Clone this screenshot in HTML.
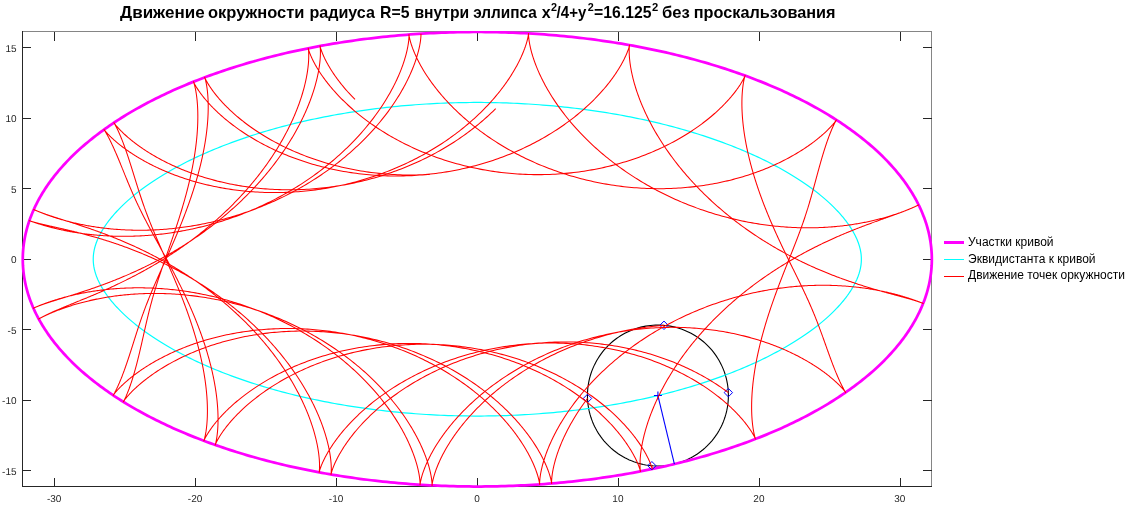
<!DOCTYPE html>
<html><head><meta charset="utf-8"><title>plot</title><style>html,body{margin:0;padding:0;background:#fff;}body{width:1129px;height:514px;position:relative;overflow:hidden;font-family:"Liberation Sans",sans-serif;}</style></head><body>
<svg width="1129" height="514" viewBox="0 0 1129 514" style="position:absolute;left:0;top:0;will-change:transform">
<rect width="1129" height="514" fill="#fff"/>
<g stroke="#262626" stroke-width="1" fill="none" shape-rendering="crispEdges">
<path d="M22.5,31.5H931.5V486.5" stroke="#858585"/>
<path d="M22.5,31.0V486.5H931.5"/>
<path d="M54.5,486.5v-9M54.5,31.5v9"/>
<path d="M195.5,486.5v-9M195.5,31.5v9"/>
<path d="M336.5,486.5v-9M336.5,31.5v9"/>
<path d="M477.5,486.5v-9M477.5,31.5v9"/>
<path d="M618.5,486.5v-9M618.5,31.5v9"/>
<path d="M759.5,486.5v-9M759.5,31.5v9"/>
<path d="M900.5,486.5v-9M900.5,31.5v9"/>
<path d="M22.5,470.5h8M931.5,470.5h-9"/>
<path d="M22.5,400.5h8M931.5,400.5h-9"/>
<path d="M22.5,329.5h8M931.5,329.5h-9"/>
<path d="M22.5,259.5h8M931.5,259.5h-9"/>
<path d="M22.5,188.5h8M931.5,188.5h-9"/>
<path d="M22.5,118.5h8M931.5,118.5h-9"/>
<path d="M22.5,47.5h8M931.5,47.5h-9"/>
</g>
<g font-family="Liberation Sans, sans-serif" font-size="10px" fill="#262626" text-rendering="geometricPrecision">
<text x="54.2" y="502" text-anchor="middle">-30</text>
<text x="195.1" y="502" text-anchor="middle">-20</text>
<text x="336.1" y="502" text-anchor="middle">-10</text>
<text x="477.0" y="502" text-anchor="middle">0</text>
<text x="617.9" y="502" text-anchor="middle">10</text>
<text x="758.9" y="502" text-anchor="middle">20</text>
<text x="899.8" y="502" text-anchor="middle">30</text>
<text x="16.5" y="475" text-anchor="end">-15</text>
<text x="16.5" y="404" text-anchor="end">-10</text>
<text x="16.5" y="334" text-anchor="end">-5</text>
<text x="16.5" y="263" text-anchor="end">0</text>
<text x="16.5" y="193" text-anchor="end">5</text>
<text x="16.5" y="122" text-anchor="end">10</text>
<text x="16.5" y="52" text-anchor="end">15</text>
</g>
<clipPath id="c"><rect x="15" y="31" width="925" height="465"/></clipPath>
<g fill="none" stroke-linejoin="round" stroke-linecap="butt" clip-path="url(#c)">
<polyline points="728.39,395.52 728.35,393.06 728.22,390.60 728.01,388.15 727.71,385.71 727.32,383.28 726.85,380.87 726.30,378.47 725.66,376.10 724.95,373.74 724.15,371.42 723.26,369.12 722.30,366.86 721.26,364.63 720.15,362.44 718.95,360.28 717.69,358.18 716.35,356.11 714.94,354.10 713.46,352.13 711.91,350.22 710.29,348.37 708.62,346.57 706.88,344.83 705.08,343.15 703.22,341.54 701.31,339.99 699.35,338.51 697.33,337.10 695.27,335.76 693.16,334.49 691.01,333.30 688.82,332.18 686.59,331.14 684.32,330.18 682.03,329.30 679.70,328.50 677.35,327.78 674.97,327.14 672.58,326.59 670.16,326.12 667.73,325.74 665.29,325.44 662.84,325.22 660.38,325.09 657.92,325.05 655.47,325.09 653.01,325.22 650.56,325.44 648.12,325.74 645.69,326.12 643.27,326.59 640.88,327.14 638.50,327.78 636.15,328.50 633.82,329.30 631.53,330.18 629.26,331.14 627.03,332.18 624.84,333.30 622.69,334.49 620.58,335.76 618.52,337.10 616.50,338.51 614.54,339.99 612.63,341.54 610.77,343.15 608.97,344.83 607.23,346.57 605.56,348.37 603.94,350.22 602.39,352.13 600.91,354.10 599.50,356.11 598.16,358.18 596.90,360.28 595.70,362.44 594.59,364.63 593.55,366.86 592.59,369.12 591.70,371.42 590.90,373.74 590.18,376.10 589.55,378.47 588.99,380.87 588.53,383.28 588.14,385.71 587.84,388.15 587.63,390.60 587.50,393.06 587.45,395.52 587.50,397.98 587.63,400.44 587.84,402.89 588.14,405.33 588.53,407.76 588.99,410.17 589.55,412.57 590.18,414.94 590.90,417.30 591.70,419.62 592.59,421.92 593.55,424.18 594.59,426.41 595.70,428.60 596.90,430.75 598.16,432.86 599.50,434.93 600.91,436.94 602.39,438.91 603.94,440.82 605.56,442.67 607.23,444.47 608.97,446.21 610.77,447.89 612.63,449.50 614.54,451.05 616.50,452.53 618.52,453.94 620.58,455.28 622.69,456.55 624.84,457.74 627.03,458.86 629.26,459.90 631.53,460.86 633.82,461.74 636.15,462.54 638.50,463.26 640.88,463.90 643.27,464.45 645.69,464.92 648.12,465.30 650.56,465.60 653.01,465.82 655.47,465.95 657.92,465.99 660.38,465.95 662.84,465.82 665.29,465.60 667.73,465.30 670.16,464.92 672.58,464.45 674.97,463.90 677.35,463.26 679.70,462.54 682.03,461.74 684.32,460.86 686.59,459.90 688.82,458.86 691.01,457.74 693.16,456.55 695.27,455.28 697.33,453.94 699.35,452.53 701.31,451.05 703.22,449.50 705.08,447.89 706.88,446.21 708.62,444.47 710.29,442.67 711.91,440.82 713.46,438.91 714.94,436.94 716.35,434.93 717.69,432.86 718.95,430.75 720.15,428.60 721.26,426.41 722.30,424.18 723.26,421.92 724.15,419.62 724.95,417.30 725.66,414.94 726.30,412.57 726.85,410.17 727.32,407.76 727.71,405.33 728.01,402.89 728.22,400.44 728.35,397.98 728.39,395.52" stroke="#000" stroke-width="1.1"/>
<polyline points="931.83,259.25 931.81,257.27 931.76,255.28 931.68,253.30 931.55,251.32 931.40,249.34 931.21,247.36 930.98,245.38 930.72,243.40 930.43,241.42 930.10,239.44 929.74,237.47 929.34,235.49 928.91,233.52 928.44,231.55 927.94,229.59 927.41,227.62 926.84,225.66 926.24,223.70 925.60,221.74 924.93,219.79 924.22,217.83 923.48,215.89 922.71,213.94 921.90,212.00 921.06,210.06 920.18,208.13 919.27,206.20 918.33,204.27 917.35,202.35 916.34,200.43 915.30,198.52 914.22,196.61 913.11,194.70 911.97,192.80 910.79,190.91 909.59,189.02 908.34,187.14 907.07,185.26 905.76,183.39 904.42,181.52 903.05,179.66 901.64,177.81 900.20,175.96 898.73,174.11 897.23,172.28 895.70,170.45 894.13,168.63 892.54,166.81 890.91,165.00 889.25,163.20 887.55,161.41 885.83,159.62 884.08,157.84 882.29,156.07 880.47,154.31 878.63,152.56 876.75,150.81 874.84,149.07 872.90,147.34 870.94,145.62 868.94,143.90 866.91,142.20 864.85,140.50 862.76,138.82 860.65,137.14 858.50,135.47 856.33,133.81 854.12,132.16 851.89,130.53 849.63,128.90 847.34,127.28 845.02,125.67 842.68,124.07 840.30,122.48 837.90,120.90 835.48,119.33 833.02,117.77 830.54,116.23 828.03,114.69 825.49,113.17 822.93,111.65 820.34,110.15 817.72,108.66 815.08,107.18 812.42,105.71 809.72,104.26 807.01,102.81 804.26,101.38 801.49,99.96 798.70,98.55 795.89,97.15 793.04,95.77 790.18,94.40 787.29,93.04 784.38,91.69 781.44,90.36 778.48,89.04 775.50,87.73 772.49,86.44 769.47,85.15 766.42,83.89 763.35,82.63 760.25,81.39 757.14,80.16 754.00,78.95 750.84,77.75 747.67,76.56 744.47,75.39 741.25,74.23 738.01,73.08 734.75,71.95 731.47,70.84 728.17,69.74 724.86,68.65 721.52,67.58 718.16,66.52 714.79,65.47 711.40,64.45 707.99,63.43 704.57,62.43 701.12,61.45 697.66,60.48 694.18,59.52 690.69,58.59 687.18,57.66 683.65,56.75 680.11,55.86 676.55,54.98 672.98,54.12 669.39,53.28 665.79,52.45 662.17,51.63 658.54,50.83 654.90,50.05 651.24,49.28 647.57,48.53 643.89,47.80 640.19,47.08 636.48,46.38 632.76,45.69 629.03,45.02 625.28,44.37 621.52,43.73 617.76,43.11 613.98,42.50 610.19,41.91 606.39,41.34 602.59,40.79 598.77,40.25 594.94,39.73 591.11,39.22 587.26,38.74 583.41,38.26 579.55,37.81 575.68,37.37 571.80,36.95 567.92,36.55 564.03,36.16 560.13,35.79 556.23,35.44 552.32,35.10 548.40,34.78 544.48,34.48 540.56,34.20 536.63,33.93 532.69,33.68 528.75,33.45 524.81,33.23 520.86,33.03 516.92,32.85 512.96,32.68 509.01,32.54 505.05,32.41 501.09,32.30 497.13,32.20 493.16,32.12 489.20,32.06 485.23,32.02 481.27,31.99 477.30,31.98 473.33,31.99 469.37,32.02 465.40,32.06 461.44,32.12 457.47,32.20 453.51,32.30 449.55,32.41 445.59,32.54 441.64,32.68 437.68,32.85 433.74,33.03 429.79,33.23 425.85,33.45 421.91,33.68 417.97,33.93 414.04,34.20 410.12,34.48 406.20,34.78 402.28,35.10 398.37,35.44 394.47,35.79 390.57,36.16 386.68,36.55 382.80,36.95 378.92,37.37 375.05,37.81 371.19,38.26 367.34,38.74 363.49,39.22 359.66,39.73 355.83,40.25 352.01,40.79 348.21,41.34 344.41,41.91 340.62,42.50 336.84,43.11 333.08,43.73 329.32,44.37 325.57,45.02 321.84,45.69 318.12,46.38 314.41,47.08 310.71,47.80 307.03,48.53 303.36,49.28 299.70,50.05 296.06,50.83 292.43,51.63 288.81,52.45 285.21,53.28 281.62,54.12 278.05,54.98 274.49,55.86 270.95,56.75 267.42,57.66 263.91,58.59 260.42,59.52 256.94,60.48 253.48,61.45 250.03,62.43 246.61,63.43 243.20,64.45 239.81,65.47 236.44,66.52 233.08,67.58 229.74,68.65 226.43,69.74 223.13,70.84 219.85,71.95 216.59,73.08 213.35,74.23 210.13,75.39 206.93,76.56 203.76,77.75 200.60,78.95 197.46,80.16 194.35,81.39 191.25,82.63 188.18,83.89 185.13,85.15 182.11,86.44 179.10,87.73 176.12,89.04 173.16,90.36 170.22,91.69 167.31,93.04 164.42,94.40 161.56,95.77 158.71,97.15 155.90,98.55 153.11,99.96 150.34,101.38 147.59,102.81 144.88,104.26 142.18,105.71 139.52,107.18 136.88,108.66 134.26,110.15 131.67,111.65 129.11,113.17 126.57,114.69 124.06,116.23 121.58,117.77 119.12,119.33 116.70,120.90 114.30,122.48 111.92,124.07 109.58,125.67 107.26,127.28 104.97,128.90 102.71,130.53 100.48,132.16 98.27,133.81 96.10,135.47 93.95,137.14 91.84,138.82 89.75,140.50 87.69,142.20 85.66,143.90 83.66,145.62 81.70,147.34 79.76,149.07 77.85,150.81 75.97,152.56 74.13,154.31 72.31,156.07 70.52,157.84 68.77,159.62 67.05,161.41 65.35,163.20 63.69,165.00 62.06,166.81 60.47,168.63 58.90,170.45 57.37,172.28 55.87,174.11 54.40,175.96 52.96,177.81 51.55,179.66 50.18,181.52 48.84,183.39 47.53,185.26 46.26,187.14 45.01,189.02 43.81,190.91 42.63,192.80 41.49,194.70 40.38,196.61 39.30,198.52 38.26,200.43 37.25,202.35 36.27,204.27 35.33,206.20 34.42,208.13 33.54,210.06 32.70,212.00 31.89,213.94 31.12,215.89 30.38,217.83 29.67,219.79 29.00,221.74 28.36,223.70 27.76,225.66 27.19,227.62 26.66,229.59 26.16,231.55 25.69,233.52 25.26,235.49 24.86,237.47 24.50,239.44 24.17,241.42 23.88,243.40 23.62,245.38 23.39,247.36 23.20,249.34 23.05,251.32 22.92,253.30 22.84,255.28 22.79,257.27 22.77,259.25 22.79,261.23 22.84,263.22 22.92,265.20 23.05,267.18 23.20,269.16 23.39,271.14 23.62,273.12 23.88,275.10 24.17,277.08 24.50,279.06 24.86,281.03 25.26,283.01 25.69,284.98 26.16,286.95 26.66,288.91 27.19,290.88 27.76,292.84 28.36,294.80 29.00,296.76 29.67,298.71 30.38,300.67 31.12,302.61 31.89,304.56 32.70,306.50 33.54,308.44 34.42,310.37 35.33,312.30 36.27,314.23 37.25,316.15 38.26,318.07 39.30,319.98 40.38,321.89 41.49,323.80 42.63,325.70 43.81,327.59 45.01,329.48 46.26,331.36 47.53,333.24 48.84,335.11 50.18,336.98 51.55,338.84 52.96,340.69 54.40,342.54 55.87,344.39 57.37,346.22 58.90,348.05 60.47,349.87 62.06,351.69 63.69,353.50 65.35,355.30 67.05,357.09 68.77,358.88 70.52,360.66 72.31,362.43 74.13,364.19 75.97,365.94 77.85,367.69 79.76,369.43 81.70,371.16 83.66,372.88 85.66,374.60 87.69,376.30 89.75,378.00 91.84,379.68 93.95,381.36 96.10,383.03 98.27,384.69 100.48,386.34 102.71,387.97 104.97,389.60 107.26,391.22 109.58,392.83 111.92,394.43 114.30,396.02 116.70,397.60 119.12,399.17 121.58,400.73 124.06,402.27 126.57,403.81 129.11,405.33 131.67,406.85 134.26,408.35 136.88,409.84 139.52,411.32 142.18,412.79 144.88,414.24 147.59,415.69 150.34,417.12 153.11,418.54 155.90,419.95 158.71,421.35 161.56,422.73 164.42,424.10 167.31,425.46 170.22,426.81 173.16,428.14 176.12,429.46 179.10,430.77 182.11,432.06 185.13,433.35 188.18,434.61 191.25,435.87 194.35,437.11 197.46,438.34 200.60,439.55 203.76,440.75 206.93,441.94 210.13,443.11 213.35,444.27 216.59,445.42 219.85,446.55 223.13,447.66 226.43,448.76 229.74,449.85 233.08,450.92 236.44,451.98 239.81,453.03 243.20,454.05 246.61,455.07 250.03,456.07 253.48,457.05 256.94,458.02 260.42,458.98 263.91,459.91 267.42,460.84 270.95,461.75 274.49,462.64 278.05,463.52 281.62,464.38 285.21,465.22 288.81,466.05 292.43,466.87 296.06,467.67 299.70,468.45 303.36,469.22 307.03,469.97 310.71,470.70 314.41,471.42 318.12,472.12 321.84,472.81 325.57,473.48 329.32,474.13 333.08,474.77 336.84,475.39 340.62,476.00 344.41,476.59 348.21,477.16 352.01,477.71 355.83,478.25 359.66,478.77 363.49,479.28 367.34,479.76 371.19,480.24 375.05,480.69 378.92,481.13 382.80,481.55 386.68,481.95 390.57,482.34 394.47,482.71 398.37,483.06 402.28,483.40 406.20,483.72 410.12,484.02 414.04,484.30 417.97,484.57 421.91,484.82 425.85,485.05 429.79,485.27 433.74,485.47 437.68,485.65 441.64,485.82 445.59,485.96 449.55,486.09 453.51,486.20 457.47,486.30 461.44,486.38 465.40,486.44 469.37,486.48 473.33,486.51 477.30,486.52 481.27,486.51 485.23,486.48 489.20,486.44 493.16,486.38 497.13,486.30 501.09,486.20 505.05,486.09 509.01,485.96 512.96,485.82 516.92,485.65 520.86,485.47 524.81,485.27 528.75,485.05 532.69,484.82 536.63,484.57 540.56,484.30 544.48,484.02 548.40,483.72 552.32,483.40 556.23,483.06 560.13,482.71 564.03,482.34 567.92,481.95 571.80,481.55 575.68,481.13 579.55,480.69 583.41,480.24 587.26,479.76 591.11,479.28 594.94,478.77 598.77,478.25 602.59,477.71 606.39,477.16 610.19,476.59 613.98,476.00 617.76,475.39 621.52,474.77 625.28,474.13 629.03,473.48 632.76,472.81 636.48,472.12 640.19,471.42 643.89,470.70 647.57,469.97 651.24,469.22 654.90,468.45 658.54,467.67 662.17,466.87 665.79,466.05 669.39,465.22 672.98,464.38 676.55,463.52 680.11,462.64 683.65,461.75 687.18,460.84 690.69,459.91 694.18,458.98 697.66,458.02 701.12,457.05 704.57,456.07 707.99,455.07 711.40,454.05 714.79,453.03 718.16,451.98 721.52,450.92 724.86,449.85 728.17,448.76 731.47,447.66 734.75,446.55 738.01,445.42 741.25,444.27 744.47,443.11 747.67,441.94 750.84,440.75 754.00,439.55 757.14,438.34 760.25,437.11 763.35,435.87 766.42,434.61 769.47,433.35 772.49,432.06 775.50,430.77 778.48,429.46 781.44,428.14 784.38,426.81 787.29,425.46 790.18,424.10 793.04,422.73 795.89,421.35 798.70,419.95 801.49,418.54 804.26,417.12 807.01,415.69 809.72,414.24 812.42,412.79 815.08,411.32 817.72,409.84 820.34,408.35 822.93,406.85 825.49,405.33 828.03,403.81 830.54,402.27 833.02,400.73 835.48,399.17 837.90,397.60 840.30,396.02 842.68,394.43 845.02,392.83 847.34,391.22 849.63,389.60 851.89,387.97 854.12,386.34 856.33,384.69 858.50,383.03 860.65,381.36 862.76,379.68 864.85,378.00 866.91,376.30 868.94,374.60 870.94,372.88 872.90,371.16 874.84,369.43 876.75,367.69 878.63,365.94 880.47,364.19 882.29,362.43 884.08,360.66 885.83,358.88 887.55,357.09 889.25,355.30 890.91,353.50 892.54,351.69 894.13,349.87 895.70,348.05 897.23,346.22 898.73,344.39 900.20,342.54 901.64,340.69 903.05,338.84 904.42,336.98 905.76,335.11 907.07,333.24 908.34,331.36 909.59,329.48 910.79,327.59 911.97,325.70 913.11,323.80 914.22,321.89 915.30,319.98 916.34,318.07 917.35,316.15 918.33,314.23 919.27,312.30 920.18,310.37 921.06,308.44 921.90,306.50 922.71,304.56 923.48,302.61 924.22,300.67 924.93,298.71 925.60,296.76 926.24,294.80 926.84,292.84 927.41,290.88 927.94,288.91 928.44,286.95 928.91,284.98 929.34,283.01 929.74,281.03 930.10,279.06 930.43,277.08 930.72,275.10 930.98,273.12 931.21,271.14 931.40,269.16 931.55,267.18 931.68,265.20 931.76,263.22 931.81,261.23 931.83,259.25" stroke="#ff00ff" stroke-width="2.75"/>
<polyline points="861.36,259.25 861.35,258.50 861.34,257.74 861.30,256.99 861.26,256.23 861.20,255.47 861.12,254.70 861.04,253.93 860.93,253.16 860.82,252.38 860.69,251.59 860.54,250.79 860.38,249.99 860.20,249.18 860.01,248.36 859.80,247.53 859.57,246.69 859.32,245.84 859.06,244.98 858.77,244.11 858.47,243.22 858.14,242.33 857.80,241.42 857.43,240.50 857.05,239.57 856.64,238.62 856.20,237.67 855.75,236.70 855.27,235.72 854.76,234.72 854.23,233.72 853.67,232.70 853.09,231.66 852.48,230.62 851.85,229.57 851.19,228.50 850.50,227.42 849.78,226.33 849.03,225.23 848.25,224.12 847.45,222.99 846.61,221.86 845.74,220.72 844.85,219.57 843.92,218.41 842.97,217.24 841.98,216.06 840.96,214.87 839.91,213.68 838.82,212.47 837.71,211.27 836.56,210.05 835.39,208.83 834.18,207.60 832.93,206.37 831.66,205.13 830.35,203.89 829.01,202.65 827.64,201.40 826.24,200.14 824.80,198.89 823.33,197.63 821.83,196.37 820.30,195.11 818.74,193.84 817.14,192.58 815.51,191.31 813.85,190.04 812.16,188.78 810.43,187.51 808.68,186.25 806.89,184.98 805.07,183.72 803.22,182.46 801.34,181.20 799.43,179.94 797.49,178.69 795.52,177.44 793.51,176.19 791.48,174.94 789.42,173.70 787.33,172.47 785.20,171.24 783.05,170.01 780.87,168.79 778.66,167.57 776.42,166.36 774.16,165.16 771.86,163.96 769.54,162.76 767.19,161.58 764.81,160.40 762.40,159.23 759.97,158.06 757.51,156.91 755.02,155.76 752.51,154.62 749.97,153.48 747.41,152.36 744.82,151.24 742.20,150.14 739.56,149.04 736.90,147.95 734.21,146.87 731.50,145.80 728.76,144.74 726.00,143.69 723.21,142.65 720.41,141.62 717.58,140.60 714.72,139.60 711.85,138.60 708.95,137.61 706.03,136.64 703.09,135.67 700.13,134.72 697.15,133.78 694.15,132.85 691.12,131.94 688.08,131.03 685.02,130.14 681.94,129.26 678.84,128.39 675.72,127.53 672.58,126.69 669.43,125.86 666.26,125.04 663.07,124.24 659.86,123.45 656.63,122.67 653.39,121.91 650.13,121.16 646.86,120.42 643.57,119.70 640.27,118.99 636.95,118.29 633.62,117.61 630.27,116.94 626.91,116.29 623.53,115.65 620.14,115.02 616.74,114.41 613.32,113.81 609.90,113.23 606.46,112.67 603.01,112.11 599.54,111.58 596.07,111.05 592.58,110.54 589.09,110.05 585.58,109.57 582.07,109.11 578.54,108.66 575.01,108.23 571.47,107.81 567.91,107.41 564.35,107.03 560.79,106.65 557.21,106.30 553.63,105.96 550.04,105.63 546.44,105.33 542.84,105.03 539.23,104.75 535.62,104.49 532.00,104.25 528.38,104.02 524.75,103.80 521.11,103.60 517.48,103.42 513.84,103.25 510.19,103.10 506.54,102.96 502.89,102.85 499.24,102.74 495.59,102.65 491.93,102.58 488.28,102.53 484.62,102.49 480.96,102.46 477.30,102.45 473.64,102.46 469.98,102.49 466.32,102.53 462.67,102.58 459.01,102.65 455.36,102.74 451.71,102.85 448.06,102.96 444.41,103.10 440.76,103.25 437.12,103.42 433.49,103.60 429.85,103.80 426.22,104.02 422.60,104.25 418.98,104.49 415.37,104.75 411.76,105.03 408.16,105.33 404.56,105.63 400.97,105.96 397.39,106.30 393.81,106.65 390.25,107.03 386.69,107.41 383.13,107.81 379.59,108.23 376.06,108.66 372.53,109.11 369.02,109.57 365.51,110.05 362.02,110.54 358.53,111.05 355.06,111.58 351.59,112.11 348.14,112.67 344.70,113.23 341.28,113.81 337.86,114.41 334.46,115.02 331.07,115.65 327.69,116.29 324.33,116.94 320.98,117.61 317.65,118.29 314.33,118.99 311.03,119.70 307.74,120.42 304.47,121.16 301.21,121.91 297.97,122.67 294.74,123.45 291.53,124.24 288.34,125.04 285.17,125.86 282.02,126.69 278.88,127.53 275.76,128.39 272.66,129.26 269.58,130.14 266.52,131.03 263.48,131.94 260.45,132.85 257.45,133.78 254.47,134.72 251.51,135.67 248.57,136.64 245.65,137.61 242.75,138.60 239.88,139.60 237.02,140.60 234.19,141.62 231.39,142.65 228.60,143.69 225.84,144.74 223.10,145.80 220.39,146.87 217.70,147.95 215.04,149.04 212.40,150.14 209.78,151.24 207.19,152.36 204.63,153.48 202.09,154.62 199.58,155.76 197.09,156.91 194.63,158.06 192.20,159.23 189.79,160.40 187.41,161.58 185.06,162.76 182.74,163.96 180.44,165.16 178.18,166.36 175.94,167.57 173.73,168.79 171.55,170.01 169.40,171.24 167.27,172.47 165.18,173.70 163.12,174.94 161.09,176.19 159.08,177.44 157.11,178.69 155.17,179.94 153.26,181.20 151.38,182.46 149.53,183.72 147.71,184.98 145.92,186.25 144.17,187.51 142.44,188.78 140.75,190.04 139.09,191.31 137.46,192.58 135.86,193.84 134.30,195.11 132.77,196.37 131.27,197.63 129.80,198.89 128.36,200.14 126.96,201.40 125.59,202.65 124.25,203.89 122.94,205.13 121.67,206.37 120.42,207.60 119.21,208.83 118.04,210.05 116.89,211.27 115.78,212.47 114.69,213.68 113.64,214.87 112.62,216.06 111.63,217.24 110.68,218.41 109.75,219.57 108.86,220.72 107.99,221.86 107.15,222.99 106.35,224.12 105.57,225.23 104.82,226.33 104.10,227.42 103.41,228.50 102.75,229.57 102.12,230.62 101.51,231.66 100.93,232.70 100.37,233.72 99.84,234.72 99.33,235.72 98.85,236.70 98.40,237.67 97.96,238.62 97.55,239.57 97.17,240.50 96.80,241.42 96.46,242.33 96.13,243.22 95.83,244.11 95.54,244.98 95.28,245.84 95.03,246.69 94.80,247.53 94.59,248.36 94.40,249.18 94.22,249.99 94.06,250.79 93.91,251.59 93.78,252.38 93.67,253.16 93.56,253.93 93.48,254.70 93.40,255.47 93.34,256.23 93.30,256.99 93.26,257.74 93.25,258.50 93.24,259.25 93.25,260.00 93.26,260.76 93.30,261.51 93.34,262.27 93.40,263.03 93.48,263.80 93.56,264.57 93.67,265.34 93.78,266.12 93.91,266.91 94.06,267.71 94.22,268.51 94.40,269.32 94.59,270.14 94.80,270.97 95.03,271.81 95.28,272.66 95.54,273.52 95.83,274.39 96.13,275.28 96.46,276.17 96.80,277.08 97.17,278.00 97.55,278.93 97.96,279.88 98.40,280.83 98.85,281.80 99.33,282.78 99.84,283.78 100.37,284.78 100.93,285.80 101.51,286.84 102.12,287.88 102.75,288.93 103.41,290.00 104.10,291.08 104.82,292.17 105.57,293.27 106.35,294.38 107.15,295.51 107.99,296.64 108.86,297.78 109.75,298.93 110.68,300.09 111.63,301.26 112.62,302.44 113.64,303.63 114.69,304.82 115.78,306.03 116.89,307.23 118.04,308.45 119.21,309.67 120.42,310.90 121.67,312.13 122.94,313.37 124.25,314.61 125.59,315.85 126.96,317.10 128.36,318.36 129.80,319.61 131.27,320.87 132.77,322.13 134.30,323.39 135.86,324.66 137.46,325.92 139.09,327.19 140.75,328.46 142.44,329.72 144.17,330.99 145.92,332.25 147.71,333.52 149.53,334.78 151.38,336.04 153.26,337.30 155.17,338.56 157.11,339.81 159.08,341.06 161.09,342.31 163.12,343.56 165.18,344.80 167.27,346.03 169.40,347.26 171.55,348.49 173.73,349.71 175.94,350.93 178.18,352.14 180.44,353.34 182.74,354.54 185.06,355.74 187.41,356.92 189.79,358.10 192.20,359.27 194.63,360.44 197.09,361.59 199.58,362.74 202.09,363.88 204.63,365.02 207.19,366.14 209.78,367.26 212.40,368.36 215.04,369.46 217.70,370.55 220.39,371.63 223.10,372.70 225.84,373.76 228.60,374.81 231.39,375.85 234.19,376.88 237.02,377.90 239.88,378.90 242.75,379.90 245.65,380.89 248.57,381.86 251.51,382.83 254.47,383.78 257.45,384.72 260.45,385.65 263.48,386.56 266.52,387.47 269.58,388.36 272.66,389.24 275.76,390.11 278.88,390.97 282.02,391.81 285.17,392.64 288.34,393.46 291.53,394.26 294.74,395.05 297.97,395.83 301.21,396.59 304.47,397.34 307.74,398.08 311.03,398.80 314.33,399.51 317.65,400.21 320.98,400.89 324.33,401.56 327.69,402.21 331.07,402.85 334.46,403.48 337.86,404.09 341.28,404.69 344.70,405.27 348.14,405.83 351.59,406.39 355.06,406.92 358.53,407.45 362.02,407.96 365.51,408.45 369.02,408.93 372.53,409.39 376.06,409.84 379.59,410.27 383.13,410.69 386.69,411.09 390.25,411.47 393.81,411.85 397.39,412.20 400.97,412.54 404.56,412.87 408.16,413.17 411.76,413.47 415.37,413.75 418.98,414.01 422.60,414.25 426.22,414.48 429.85,414.70 433.49,414.90 437.12,415.08 440.76,415.25 444.41,415.40 448.06,415.54 451.71,415.65 455.36,415.76 459.01,415.85 462.67,415.92 466.32,415.97 469.98,416.01 473.64,416.04 477.30,416.05 480.96,416.04 484.62,416.01 488.28,415.97 491.93,415.92 495.59,415.85 499.24,415.76 502.89,415.65 506.54,415.54 510.19,415.40 513.84,415.25 517.48,415.08 521.11,414.90 524.75,414.70 528.38,414.48 532.00,414.25 535.62,414.01 539.23,413.75 542.84,413.47 546.44,413.17 550.04,412.87 553.63,412.54 557.21,412.20 560.79,411.85 564.35,411.47 567.91,411.09 571.47,410.69 575.01,410.27 578.54,409.84 582.07,409.39 585.58,408.93 589.09,408.45 592.58,407.96 596.07,407.45 599.54,406.92 603.01,406.39 606.46,405.83 609.90,405.27 613.32,404.69 616.74,404.09 620.14,403.48 623.53,402.85 626.91,402.21 630.27,401.56 633.62,400.89 636.95,400.21 640.27,399.51 643.57,398.80 646.86,398.08 650.13,397.34 653.39,396.59 656.63,395.83 659.86,395.05 663.07,394.26 666.26,393.46 669.43,392.64 672.58,391.81 675.72,390.97 678.84,390.11 681.94,389.24 685.02,388.36 688.08,387.47 691.12,386.56 694.15,385.65 697.15,384.72 700.13,383.78 703.09,382.83 706.03,381.86 708.95,380.89 711.85,379.90 714.72,378.90 717.58,377.90 720.41,376.88 723.21,375.85 726.00,374.81 728.76,373.76 731.50,372.70 734.21,371.63 736.90,370.55 739.56,369.46 742.20,368.36 744.82,367.26 747.41,366.14 749.97,365.02 752.51,363.88 755.02,362.74 757.51,361.59 759.97,360.44 762.40,359.27 764.81,358.10 767.19,356.92 769.54,355.74 771.86,354.54 774.16,353.34 776.42,352.14 778.66,350.93 780.87,349.71 783.05,348.49 785.20,347.26 787.33,346.03 789.42,344.80 791.48,343.56 793.51,342.31 795.52,341.06 797.49,339.81 799.43,338.56 801.34,337.30 803.22,336.04 805.07,334.78 806.89,333.52 808.68,332.25 810.43,330.99 812.16,329.72 813.85,328.46 815.51,327.19 817.14,325.92 818.74,324.66 820.30,323.39 821.83,322.13 823.33,320.87 824.80,319.61 826.24,318.36 827.64,317.10 829.01,315.85 830.35,314.61 831.66,313.37 832.93,312.13 834.18,310.90 835.39,309.67 836.56,308.45 837.71,307.23 838.82,306.03 839.91,304.82 840.96,303.63 841.98,302.44 842.97,301.26 843.92,300.09 844.85,298.93 845.74,297.78 846.61,296.64 847.45,295.51 848.25,294.38 849.03,293.27 849.78,292.17 850.50,291.08 851.19,290.00 851.85,288.93 852.48,287.88 853.09,286.84 853.67,285.80 854.23,284.78 854.76,283.78 855.27,282.78 855.75,281.80 856.20,280.83 856.64,279.88 857.05,278.93 857.43,278.00 857.80,277.08 858.14,276.17 858.47,275.28 858.77,274.39 859.06,273.52 859.32,272.66 859.57,271.81 859.80,270.97 860.01,270.14 860.20,269.32 860.38,268.51 860.54,267.71 860.69,266.91 860.82,266.12 860.93,265.34 861.04,264.57 861.12,263.80 861.20,263.03 861.26,262.27 861.30,261.51 861.34,260.76 861.35,260.00 861.36,259.25" stroke="#00ffff" stroke-width="1.2"/>
<path d="M657.92,395.52L674.41,464.03" stroke="#0000ff" stroke-width="1.1"/>
<path d="M653.92,395.52h8M657.92,391.52v8" stroke="#0000ff" stroke-width="1.1"/>
<path d="M724.13,392.61L728.33,388.41L732.53,392.61L728.33,396.81Z" stroke="#0000ff" stroke-width="1"/>
<path d="M659.79,325.31L663.99,321.11L668.19,325.31L663.99,329.51Z" stroke="#0000ff" stroke-width="1"/>
<path d="M583.31,398.43L587.51,394.23L591.71,398.43L587.51,402.63Z" stroke="#0000ff" stroke-width="1"/>
<path d="M647.66,465.73L651.86,461.53L656.06,465.73L651.86,469.93Z" stroke="#0000ff" stroke-width="1"/>
<polyline points="420.96,33.74 420.96,33.75 420.96,33.79 420.97,33.86 420.97,33.96 420.97,34.09 420.98,34.24 420.98,34.43 420.98,34.64 420.97,34.87 420.97,35.14 420.96,35.43 420.95,35.75 420.93,36.10 420.91,36.48 420.88,36.88 420.85,37.31 420.81,37.77 420.77,38.25 420.72,38.76 420.66,39.30 420.60,39.86 420.52,40.45 420.44,41.06 420.35,41.70 420.25,42.37 420.13,43.06 420.01,43.77 419.88,44.51 419.74,45.27 419.58,46.06 419.42,46.87 419.24,47.70 419.04,48.56 418.84,49.44 418.62,50.34 418.39,51.27 418.14,52.21 417.88,53.18 417.61,54.17 417.32,55.18 417.01,56.21 416.69,57.26 416.35,58.33 416.00,59.42 415.63,60.52 415.24,61.65 414.84,62.80 414.42,63.96 413.98,65.14 413.52,66.33 413.04,67.55 412.55,68.78 412.04,70.02 411.51,71.28 410.96,72.56 410.39,73.85 409.80,75.15 409.19,76.47 408.56,77.80 407.92,79.15 407.25,80.50 406.56,81.87 405.85,83.25 405.13,84.64 404.38,86.05 403.61,87.46 402.82,88.88 402.01,90.31 401.18,91.75 400.33,93.20 399.46,94.65 398.56,96.12 397.65,97.59 396.71,99.06 395.76,100.55 394.78,102.04 393.78,103.53 392.76,105.03 391.72,106.53 390.66,108.04 389.58,109.55 388.48,111.07 387.35,112.58 386.21,114.10 385.04,115.62 383.86,117.14 382.65,118.67 381.43,120.19 380.18,121.71 378.91,123.24 377.63,124.76 376.32,126.28 374.99,127.80 373.65,129.32 372.28,130.83 370.90,132.35 369.49,133.86 368.07,135.36 366.63,136.87 365.17,138.36 363.69,139.86 362.19,141.35 360.68,142.83 359.14,144.31 357.59,145.78 356.02,147.24 354.44,148.70 352.84,150.15 351.22,151.59 349.58,153.03 347.93,154.46 346.27,155.88 344.58,157.29 342.88,158.69 341.17,160.08 339.44,161.47 337.70,162.84 335.94,164.20 334.17,165.55 332.39,166.90 330.59,168.23 328.77,169.55 326.95,170.86 325.11,172.15 323.26,173.44 321.40,174.71 319.53,175.97 317.65,177.22 315.75,178.46 313.85,179.68 311.93,180.89 310.00,182.09 308.07,183.27 306.12,184.44 304.17,185.59 302.21,186.74 300.23,187.86 298.26,188.98 296.27,190.08 294.27,191.16 292.27,192.23 290.26,193.28 288.25,194.33 286.23,195.35 284.20,196.36 282.17,197.36 280.14,198.34 278.10,199.30 276.05,200.25 274.00,201.18 271.95,202.10 269.89,203.01 267.83,203.89 265.77,204.77 263.71,205.62 261.64,206.46 259.57,207.29 257.50,208.10 255.43,208.89 253.36,209.67 251.29,210.43 249.22,211.18 247.15,211.91 245.08,212.62 243.01,213.32 240.94,214.00 238.87,214.67 236.81,215.32 234.74,215.96 232.68,216.58 230.63,217.19 228.57,217.78 226.52,218.36 224.47,218.92 222.43,219.46 220.39,219.99 218.35,220.51 216.32,221.01 214.30,221.49 212.28,221.96 210.26,222.42 208.25,222.86 206.25,223.29 204.25,223.70 202.26,224.10 200.28,224.49 198.30,224.86 196.33,225.21 194.37,225.56 192.42,225.89 190.47,226.20 188.54,226.51 186.61,226.80 184.69,227.07 182.77,227.34 180.87,227.59 178.98,227.83 177.10,228.06 175.22,228.27 173.36,228.47 171.50,228.66 169.66,228.84 167.83,229.01 166.00,229.17 164.19,229.31 162.39,229.44 160.60,229.57 158.82,229.68 157.05,229.78 155.30,229.87 153.55,229.95 151.82,230.02 150.10,230.08 148.39,230.13 146.70,230.17 145.01,230.20 143.34,230.23 141.68,230.24 140.04,230.25 138.40,230.24 136.78,230.23 135.18,230.21 133.58,230.18 132.00,230.14 130.43,230.10 128.88,230.05 127.34,229.99 125.81,229.92 124.30,229.85 122.79,229.77 121.31,229.68 119.83,229.59 118.38,229.49 116.93,229.38 115.50,229.27 114.08,229.16 112.68,229.03 111.29,228.90 109.91,228.77 108.55,228.63 107.20,228.49 105.87,228.34 104.55,228.19 103.25,228.03 101.95,227.87 100.68,227.70 99.42,227.53 98.17,227.36 96.93,227.18 95.71,227.00 94.51,226.82 93.32,226.63 92.14,226.44 90.97,226.25 89.83,226.06 88.69,225.86 87.57,225.66 86.46,225.46 85.37,225.25 84.29,225.05 83.22,224.84 82.17,224.63 81.14,224.42 80.11,224.21 79.10,223.99 78.11,223.78 77.12,223.56 76.16,223.35 75.20,223.13 74.26,222.91 73.33,222.69 72.42,222.47 71.51,222.26 70.63,222.04 69.75,221.82 68.89,221.60 68.04,221.38 67.20,221.16 66.38,220.94 65.57,220.72 64.77,220.51 63.99,220.29 63.22,220.07 62.46,219.86 61.71,219.65 60.98,219.43 60.26,219.22 59.55,219.01 58.85,218.80 58.16,218.59 57.49,218.39 56.83,218.18 56.18,217.98 55.54,217.77 54.91,217.57 54.30,217.38 53.70,217.18 53.10,216.98 52.52,216.79 51.95,216.60 51.39,216.41 50.85,216.23 50.31,216.04 49.78,215.86 49.27,215.68 48.76,215.50 48.27,215.32 47.78,215.15 47.31,214.98 46.85,214.81 46.39,214.65 45.95,214.48 45.52,214.32 45.09,214.17 44.68,214.01 44.27,213.86 43.88,213.71 43.49,213.56 43.12,213.41 42.75,213.27 42.39,213.13 42.04,213.00 41.70,212.86 41.37,212.73 41.05,212.60 40.73,212.48 40.43,212.35 40.13,212.23 39.84,212.11 39.56,212.00 39.28,211.89 39.02,211.78 38.76,211.67 38.51,211.57 38.27,211.47 38.03,211.37 37.81,211.28 37.59,211.18 37.38,211.09 37.17,211.01 36.97,210.92 36.78,210.84 36.60,210.76 36.42,210.69 36.25,210.61 36.08,210.54 35.93,210.47 35.77,210.41 35.63,210.34 35.49,210.28 35.36,210.23 35.23,210.17 35.11,210.12 35.00,210.07 34.89,210.02 34.78,209.97 34.69,209.93 34.59,209.89 34.51,209.85 34.42,209.81 34.35,209.78 34.28,209.75 34.21,209.72 34.15,209.69 34.09,209.67 34.04,209.64 34.00,209.62 33.96,209.60 33.92,209.59 33.89,209.57 33.86,209.56 33.83,209.55 33.82,209.54 33.80,209.54 33.79,209.53 33.78,209.53 33.78,209.53 33.78,209.53 33.79,209.53 33.80,209.53 33.81,209.54 33.83,209.55 33.85,209.56 33.87,209.57 33.90,209.58 33.93,209.59 33.97,209.61 34.00,209.63 34.04,209.64 34.09,209.66 34.14,209.68 34.19,209.71 34.24,209.73 34.30,209.76 34.36,209.78 34.42,209.81 34.49,209.84 34.56,209.87 34.63,209.90 34.70,209.93 34.78,209.97 34.86,210.00 34.95,210.04 35.03,210.08 35.12,210.12 35.21,210.15 35.30,210.19 35.40,210.24 35.50,210.28 35.60,210.32 35.70,210.37 35.81,210.41 35.92,210.46 36.03,210.50 36.14,210.55 36.26,210.60 36.38,210.65 36.50,210.70 36.62,210.75 36.74,210.80 36.87,210.86 37.00,210.91 37.13,210.97 37.27,211.02 37.41,211.08 37.54,211.13 37.69,211.19 37.83,211.25 37.98,211.31 38.12,211.37 38.28,211.43 38.43,211.49 38.58,211.55 38.74,211.62 38.90,211.68 39.07,211.74 39.23,211.81 39.40,211.87 39.57,211.94 39.74,212.01 39.92,212.08 40.09,212.14 40.27,212.21 40.46,212.28 40.64,212.35 40.83,212.43 41.02,212.50 41.22,212.57 41.41,212.65 41.61,212.72 41.81,212.80 42.02,212.87 42.23,212.95 42.44,213.03 42.65,213.10 42.87,213.18 43.09,213.26 43.31,213.35 43.54,213.43 43.76,213.51 44.00,213.59 44.23,213.68 44.47,213.76 44.72,213.85 44.96,213.94 45.21,214.02 45.47,214.11 45.72,214.20 45.98,214.30 46.25,214.39 46.52,214.48 46.79,214.57 47.07,214.67 47.35,214.77 47.63,214.86 47.92,214.96 48.21,215.06 48.51,215.16 48.81,215.26 49.12,215.37 49.43,215.47 49.75,215.58 50.07,215.68 50.39,215.79 50.72,215.90 51.05,216.01 51.39,216.12 51.74,216.24 52.09,216.35 52.44,216.47 52.80,216.58 53.17,216.70 53.54,216.82 53.91,216.94 54.29,217.07 54.68,217.19 55.07,217.32 55.47,217.45 55.87,217.58 56.28,217.71 56.70,217.84 57.12,217.98 57.55,218.11 57.98,218.25 58.42,218.39 58.87,218.53 59.32,218.68 59.78,218.82 60.24,218.97 60.71,219.12 61.19,219.27 61.68,219.42 62.17,219.58 62.67,219.74 63.17,219.90 63.69,220.06 64.21,220.22 64.73,220.39 65.27,220.56 65.81,220.73 66.36,220.90 66.91,221.08 67.47,221.26 68.04,221.44 68.62,221.62 69.21,221.81 69.80,222.00 70.40,222.19 71.01,222.39 71.62,222.58 72.25,222.78 72.88,222.99 73.52,223.19 74.17,223.40 74.82,223.61 75.49,223.83 76.16,224.04 76.84,224.27 77.53,224.49 78.22,224.72 78.93,224.95 79.64,225.18 80.36,225.42 81.09,225.66 81.83,225.91 82.57,226.16 83.33,226.41 84.09,226.67 84.86,226.92 85.64,227.19 86.43,227.46 87.23,227.73 88.03,228.00 88.85,228.28 89.67,228.57 90.50,228.86 91.34,229.15 92.19,229.45 93.05,229.75 93.92,230.05 94.79,230.37 95.68,230.68 96.57,231.00 97.47,231.33 98.38,231.66 99.30,231.99 100.23,232.33 101.17,232.68 102.11,233.03 103.06,233.38 104.03,233.74 105.00,234.11 105.98,234.48 106.96,234.86 107.96,235.24 108.97,235.63 109.98,236.03 111.00,236.43 112.03,236.83 113.07,237.25 114.12,237.66 115.18,238.09 116.24,238.52 117.32,238.96 118.40,239.40 119.49,239.85 120.58,240.31 121.69,240.77 122.80,241.24 123.92,241.72 125.05,242.20 126.19,242.70 127.34,243.19 128.49,243.70 129.65,244.21 130.82,244.73 131.99,245.26 133.18,245.80 134.37,246.34 135.57,246.89 136.77,247.45 137.98,248.01 139.20,248.59 140.43,249.17 141.66,249.76 142.90,250.35 144.15,250.96 145.40,251.57 146.66,252.20 147.93,252.83 149.20,253.47 150.48,254.11 151.77,254.77 153.06,255.44 154.35,256.11 155.65,256.79 156.96,257.48 158.28,258.18 159.59,258.89 160.92,259.61 162.25,260.34 163.58,261.08 164.92,261.82 166.26,262.58 167.61,263.34 168.96,264.11 170.32,264.90 171.68,265.69 173.04,266.49 174.41,267.31 175.78,268.13 177.16,268.96 178.53,269.80 179.92,270.65 181.30,271.51 182.69,272.38 184.08,273.26 185.47,274.15 186.86,275.05 188.26,275.96 189.66,276.88 191.06,277.81 192.46,278.75 193.86,279.70 195.27,280.66 196.67,281.63 198.08,282.61 199.49,283.60 200.89,284.59 202.30,285.60 203.71,286.62 205.12,287.65 206.52,288.69 207.93,289.74 209.33,290.80 210.74,291.87 212.14,292.95 213.55,294.04 214.95,295.14 216.35,296.24 217.74,297.36 219.14,298.49 220.53,299.63 221.92,300.78 223.31,301.93 224.69,303.10 226.07,304.27 227.45,305.46 228.82,306.65 230.19,307.86 231.56,309.07 232.92,310.29 234.27,311.52 235.63,312.76 236.97,314.01 238.32,315.26 239.65,316.53 240.98,317.80 242.31,319.09 243.63,320.38 244.94,321.67 246.25,322.98 247.55,324.29 248.84,325.62 250.12,326.95 251.40,328.28 252.67,329.63 253.94,330.98 255.19,332.34 256.44,333.70 257.68,335.08 258.91,336.46 260.13,337.84 261.34,339.23 262.54,340.63 263.74,342.03 264.92,343.44 266.10,344.86 267.26,346.28 268.42,347.70 269.56,349.13 270.69,350.56 271.82,352.00 272.93,353.44 274.03,354.89 275.12,356.34 276.20,357.80 277.27,359.25 278.32,360.71 279.37,362.18 280.40,363.64 281.42,365.11 282.43,366.58 283.42,368.05 284.41,369.53 285.38,371.00 286.33,372.48 287.28,373.96 288.21,375.43 289.13,376.91 290.03,378.39 290.92,379.87 291.80,381.34 292.66,382.82 293.52,384.29 294.35,385.76 295.17,387.24 295.98,388.70 296.78,390.17 297.56,391.63 298.32,393.09 299.08,394.55 299.81,396.01 300.54,397.45 301.25,398.90 301.94,400.34 302.62,401.78 303.29,403.21 303.94,404.63 304.57,406.05 305.20,407.46 305.80,408.87 306.40,410.27 306.97,411.66 307.54,413.04 308.09,414.42 308.62,415.79 309.14,417.15 309.65,418.50 310.14,419.84 310.62,421.17 311.08,422.49 311.53,423.80 311.96,425.10 312.39,426.39 312.79,427.67 313.19,428.94 313.57,430.19 313.93,431.43 314.28,432.66 314.62,433.88 314.95,435.08 315.26,436.27 315.56,437.44 315.85,438.61 316.12,439.75 316.38,440.88 316.63,442.00 316.87,443.10 317.10,444.18 317.31,445.25 317.51,446.30 317.71,447.34 317.89,448.36 318.05,449.36 318.21,450.34 318.36,451.30 318.50,452.25 318.63,453.17 318.74,454.08 318.85,454.97 318.95,455.84 319.04,456.69 319.13,457.52 319.20,458.33 319.27,459.12 319.32,459.89 319.37,460.63 319.42,461.36 319.45,462.06 319.48,462.74 319.51,463.41 319.53,464.04 319.54,464.66 319.55,465.25 319.55,465.82 319.55,466.37 319.54,466.90 319.53,467.40 319.52,467.87 319.51,468.33 319.49,468.76 319.47,469.16 319.44,469.55 319.42,469.90 319.39,470.24 319.37,470.55 319.34,470.83 319.32,471.09 319.29,471.33 319.27,471.54 319.24,471.72 319.22,471.88 319.20,472.02 319.19,472.13 319.18,472.21 319.17,472.27 319.16,472.31 319.16,472.32 319.16,472.30 319.17,472.26 319.18,472.19 319.20,472.10 319.23,471.99 319.26,471.84 319.30,471.68 319.35,471.49 319.41,471.27 319.47,471.03 319.55,470.76 319.63,470.47 319.72,470.15 319.83,469.81 319.94,469.45 320.07,469.06 320.20,468.65 320.35,468.21 320.52,467.75 320.69,467.27 320.88,466.76 321.08,466.23 321.30,465.68 321.53,465.10 321.77,464.50 322.03,463.88 322.31,463.24 322.60,462.57 322.91,461.89 323.24,461.18 323.58,460.45 323.94,459.70 324.32,458.93 324.72,458.14 325.13,457.33 325.57,456.50 326.02,455.65 326.50,454.78 326.99,453.89 327.51,452.99 328.04,452.06 328.60,451.12 329.18,450.16 329.78,449.19 330.40,448.20 331.04,447.19 331.71,446.17 332.40,445.13 333.11,444.08 333.85,443.01 334.60,441.93 335.39,440.83 336.19,439.72 337.02,438.60 337.88,437.47 338.76,436.32 339.67,435.17 340.60,434.00 341.55,432.82 342.53,431.64 343.54,430.44 344.57,429.23 345.63,428.02 346.71,426.79 347.82,425.56 348.96,424.33 350.12,423.08 351.31,421.83 352.52,420.58 353.76,419.32 355.03,418.05 356.32,416.78 357.65,415.51 358.99,414.24 360.37,412.96 361.77,411.68 363.20,410.40 364.65,409.11 366.13,407.83 367.64,406.55 369.17,405.26 370.73,403.98 372.32,402.70 373.93,401.43 375.57,400.15 377.24,398.88 378.93,397.61 380.64,396.35 382.39,395.09 384.15,393.83 385.95,392.59 387.77,391.34 389.61,390.11 391.48,388.88 393.37,387.66 395.29,386.45 397.23,385.24 399.20,384.05 401.19,382.86 403.20,381.69 405.24,380.52 407.30,379.37 409.38,378.23 411.48,377.09 413.61,375.98 415.76,374.87 417.93,373.78 420.12,372.70 422.33,371.63 424.56,370.58 426.81,369.55 429.09,368.53 431.38,367.52 433.69,366.53 436.02,365.56 438.37,364.60 440.73,363.67 443.11,362.74 445.51,361.84 447.93,360.95 450.36,360.09 452.81,359.24 455.27,358.41 457.75,357.60 460.25,356.81 462.75,356.04 465.27,355.29 467.81,354.56 470.35,353.85 472.91,353.16 475.48,352.49 478.06,351.85 480.65,351.22 483.25,350.62 485.86,350.04 488.48,349.48 491.11,348.95 493.75,348.43 496.39,347.94 499.04,347.47 501.70,347.03 504.37,346.61 507.04,346.21 509.71,345.83 512.39,345.48 515.07,345.15 517.76,344.85 520.45,344.57 523.14,344.31 525.83,344.07 528.53,343.86 531.22,343.68 533.92,343.51 536.61,343.37 539.31,343.26 542.00,343.17 544.69,343.10 547.38,343.05 550.07,343.03 552.75,343.03 555.43,343.06 558.10,343.11 560.77,343.18 563.44,343.27 566.09,343.39 568.74,343.53 571.39,343.69 574.03,343.88 576.65,344.09 579.28,344.32 581.89,344.57 584.49,344.84 587.08,345.14 589.66,345.46 592.23,345.80 594.79,346.15 597.34,346.53 599.88,346.94 602.40,347.36 604.91,347.80 607.41,348.26 609.89,348.74 612.36,349.24 614.81,349.76 617.25,350.29 619.67,350.85 622.08,351.42 624.47,352.01 626.85,352.62 629.20,353.25 631.54,353.89 633.87,354.55 636.17,355.22 638.46,355.91 640.72,356.62 642.97,357.34 645.20,358.07 647.41,358.82 649.60,359.59 651.77,360.36 653.91,361.15 656.04,361.96 658.15,362.77 660.23,363.60 662.30,364.44 664.34,365.29 666.36,366.15 668.35,367.02 670.33,367.90 672.28,368.79 674.21,369.69 676.12,370.59 678.00,371.51 679.86,372.43 681.70,373.36 683.51,374.30 685.30,375.24 687.06,376.19 688.81,377.15 690.52,378.11 692.22,379.08 693.88,380.05 695.53,381.02 697.15,382.00 698.74,382.98 700.31,383.96 701.86,384.95 703.38,385.93 704.88,386.92 706.35,387.91 707.80,388.90 709.22,389.89 710.62,390.88 711.99,391.87 713.34,392.85 714.67,393.84 715.97,394.82 717.24,395.80 718.49,396.78 719.72,397.76 720.92,398.73 722.10,399.69 723.25,400.66 724.38,401.61 725.49,402.57 726.57,403.51 727.63,404.45 728.66,405.39 729.67,406.32 730.66,407.24 731.63,408.15 732.57,409.06 733.49,409.95 734.38,410.84 735.25,411.72 736.11,412.59 736.93,413.45 737.74,414.30 738.53,415.14 739.29,415.97 740.03,416.79 740.75,417.60 741.45,418.40 742.13,419.18 742.79,419.96 743.43,420.72 744.05,421.47 744.65,422.20 745.22,422.92 745.78,423.63 746.32,424.33 746.85,425.01 747.35,425.68 747.83,426.33 748.30,426.97 748.75,427.59 749.18,428.20 749.60,428.80 749.99,429.38 750.37,429.94 750.74,430.49 751.09,431.02 751.42,431.54 751.73,432.03 752.04,432.52 752.32,432.98 752.59,433.43 752.85,433.87 753.10,434.28 753.33,434.68 753.54,435.06 753.74,435.43 753.93,435.77 754.11,436.10 754.28,436.42 754.43,436.71 754.57,436.99 754.70,437.25 754.82,437.49 754.93,437.71 755.03,437.92 755.12,438.10 755.19,438.27 755.26,438.42 755.32,438.55 755.37,438.67 755.41,438.77 755.45,438.84 755.47,438.90 755.49,438.95 755.50,438.97 755.50,438.97 755.49,438.96 755.48,438.93 755.46,438.88 755.44,438.82 755.41,438.73 755.38,438.63 755.33,438.51 755.29,438.37 755.24,438.21 755.18,438.04 755.12,437.85 755.06,437.64 754.99,437.41 754.92,437.17 754.85,436.91 754.77,436.63 754.70,436.33 754.61,436.02 754.53,435.69 754.44,435.34 754.36,434.98 754.27,434.60 754.18,434.21 754.09,433.79 753.99,433.37 753.90,432.92 753.81,432.46 753.71,431.99 753.62,431.49 753.53,430.99 753.43,430.47 753.34,429.93 753.25,429.38 753.16,428.81 753.07,428.23 752.98,427.63 752.89,427.02 752.81,426.40 752.72,425.76 752.64,425.11 752.56,424.44 752.48,423.76 752.41,423.07 752.34,422.37 752.27,421.65 752.20,420.92 752.14,420.17 752.08,419.42 752.02,418.65 751.96,417.87 751.91,417.08 751.87,416.28 751.82,415.46 751.78,414.64 751.75,413.80 751.72,412.95 751.69,412.09 751.67,411.23 751.65,410.35 751.63,409.46 751.62,408.56 751.62,407.66 751.62,406.74 751.62,405.81 751.63,404.88 751.64,403.94 751.66,402.98 751.68,402.02 751.71,401.06 751.74,400.08 751.78,399.10 751.82,398.11 751.87,397.11 751.92,396.10 751.98,395.09 752.04,394.07 752.11,393.05 752.18,392.01 752.26,390.98 752.34,389.93 752.43,388.88 752.53,387.83 752.62,386.77 752.73,385.70 752.84,384.63 752.95,383.56 753.07,382.48 753.20,381.40 753.33,380.31 753.46,379.22 753.61,378.12 753.75,377.02 753.90,375.92 754.06,374.81 754.22,373.71 754.39,372.59 754.56,371.48 754.73,370.36 754.91,369.24 755.10,368.12 755.29,367.00 755.48,365.88 755.68,364.75 755.89,363.62 756.10,362.49 756.31,361.36 756.53,360.23 756.75,359.10 756.98,357.96 757.21,356.83 757.45,355.70 757.69,354.56 757.93,353.43 758.18,352.29 758.43,351.16 758.69,350.03 758.95,348.89 759.21,347.76 759.48,346.63 759.75,345.50 760.02,344.37 760.30,343.24 760.58,342.11 760.87,340.99 761.15,339.86 761.45,338.74 761.74,337.62 762.04,336.50 762.34,335.39 762.64,334.27 762.95,333.16 763.26,332.05 763.57,330.94 763.88,329.84 764.20,328.74 764.52,327.64 764.84,326.54 765.16,325.45 765.48,324.36 765.81,323.27 766.14,322.19 766.47,321.11 766.80,320.03 767.14,318.96 767.47,317.89 767.81,316.82 768.15,315.76 768.49,314.70 768.83,313.65 769.18,312.60 769.52,311.55 769.87,310.51 770.21,309.47 770.56,308.44 770.91,307.41 771.25,306.39 771.60,305.37 771.95,304.35 772.30,303.34 772.65,302.34 773.00,301.34 773.35,300.34 773.71,299.35 774.06,298.36 774.41,297.38 774.76,296.40 775.11,295.43 775.46,294.47 775.81,293.51 776.16,292.55 776.51,291.60 776.86,290.65 777.21,289.71 777.56,288.78 777.91,287.85 778.25,286.92 778.60,286.00 778.94,285.09 779.29,284.18 779.63,283.28 779.98,282.38 780.32,281.49 780.66,280.60 781.00,279.72 781.33,278.84 781.67,277.97 782.01,277.11 782.34,276.25 782.67,275.40 783.00,274.55 783.33,273.71 783.66,272.87 783.99,272.04 784.31,271.21 784.63,270.39 784.95,269.58 785.27,268.77 785.59,267.96 785.91,267.17 786.22,266.37 786.53,265.59 786.84,264.80 787.15,264.03 787.46,263.26 787.76,262.49 788.07,261.73 788.37,260.98 788.67,260.23 788.96,259.48 789.26,258.74 789.55,258.01 789.84,257.28 790.13,256.56 790.41,255.84 790.70,255.13 790.98,254.42 791.26,253.72 791.53,253.02 791.81,252.33 792.08,251.64 792.35,250.96 792.62,250.28 792.89,249.60 793.15,248.94 793.41,248.27 793.67,247.61 793.93,246.96 794.18,246.31 794.44,245.66 794.69,245.02 794.94,244.39 795.18,243.75 795.43,243.13 795.67,242.50 795.91,241.88 796.15,241.27 796.39,240.66 796.62,240.05 796.85,239.45 797.08,238.85 797.31,238.25 797.54,237.66 797.76,237.07 797.98,236.49 798.20,235.91 798.42,235.33 798.64,234.75 798.85,234.18 799.07,233.62 799.28,233.05 799.49,232.49 799.69,231.93 799.90,231.38 800.10,230.82 800.30,230.27 800.50,229.73 800.70,229.18 800.90,228.64 801.10,228.10 801.29,227.57 801.48,227.03 801.67,226.50 801.86,225.97 802.05,225.44 802.24,224.91 802.42,224.39 802.61,223.87 802.79,223.35 802.97,222.83 803.15,222.31 803.33,221.79 803.51,221.28 803.68,220.77 803.86,220.26 804.03,219.75 804.21,219.24 804.38,218.73 804.55,218.22 804.72,217.71 804.89,217.21 805.06,216.70 805.22,216.20 805.39,215.69 805.56,215.19 805.72,214.69 805.89,214.18 806.05,213.68 806.21,213.18 806.37,212.68 806.53,212.17 806.69,211.67 806.85,211.17 807.01,210.67 807.17,210.16 807.33,209.66 807.49,209.16 807.64,208.65 807.80,208.15 807.95,207.64 808.11,207.14 808.26,206.63 808.42,206.12 808.57,205.61 808.73,205.10 808.88,204.59 809.03,204.08 809.19,203.57 809.34,203.06 809.49,202.54 809.65,202.03 809.80,201.51 809.95,200.99 810.10,200.47 810.25,199.95 810.40,199.43 810.56,198.90 810.71,198.38 810.86,197.85 811.01,197.32 811.16,196.79 811.31,196.26 811.46,195.72 811.62,195.19 811.77,194.65 811.92,194.11 812.07,193.57 812.22,193.03 812.37,192.48 812.52,191.94 812.68,191.39 812.83,190.84 812.98,190.29 813.13,189.73 813.29,189.18 813.44,188.62 813.59,188.06 813.75,187.50 813.90,186.94 814.05,186.37 814.21,185.81 814.36,185.24 814.52,184.67 814.67,184.10 814.83,183.52 814.98,182.95 815.14,182.37 815.30,181.79 815.45,181.21 815.61,180.63 815.77,180.04 815.93,179.46 816.08,178.87 816.24,178.28 816.40,177.69 816.56,177.10 816.72,176.51 816.89,175.91 817.05,175.32 817.21,174.72 817.37,174.12 817.53,173.52 817.70,172.92 817.86,172.32 818.03,171.71 818.19,171.11 818.36,170.50 818.52,169.90 818.69,169.29 818.86,168.68 819.03,168.08 819.19,167.47 819.36,166.86 819.53,166.25 819.70,165.64 819.87,165.03 820.05,164.42 820.22,163.80 820.39,163.19 820.57,162.58 820.74,161.97 820.91,161.36 821.09,160.75 821.27,160.14 821.44,159.53 821.62,158.92 821.80,158.31 821.97,157.71 822.15,157.10 822.33,156.49 822.51,155.89 822.69,155.28 822.87,154.68 823.06,154.08 823.24,153.48 823.42,152.88 823.60,152.28 823.79,151.69 823.97,151.09 824.16,150.50 824.34,149.91 824.53,149.33 824.71,148.74 824.90,148.16 825.09,147.58 825.28,147.00 825.46,146.43 825.65,145.85 825.84,145.28 826.03,144.72 826.22,144.16 826.40,143.60 826.59,143.04 826.78,142.49 826.97,141.94 827.16,141.39 827.35,140.85 827.54,140.32 827.73,139.78 827.92,139.26 828.11,138.73 828.29,138.21 828.48,137.70 828.67,137.19 828.86,136.68 829.05,136.18 829.23,135.69 829.42,135.20 829.61,134.71 829.79,134.24 829.98,133.76 830.16,133.30 830.34,132.83 830.52,132.38 830.71,131.93 830.89,131.49 831.07,131.05 831.24,130.62 831.42,130.20 831.59,129.78 831.77,129.37 831.94,128.97 832.11,128.58 832.28,128.19 832.45,127.81 832.61,127.44 832.78,127.07 832.94,126.72 833.10,126.37 833.26,126.02 833.41,125.69 833.56,125.37 833.71,125.05 833.86,124.74 834.00,124.44 834.15,124.15 834.28,123.87 834.42,123.60 834.55,123.33 834.68,123.08 834.81,122.83 834.93,122.60 835.05,122.37 835.16,122.15 835.27,121.94 835.38,121.75 835.48,121.56 835.58,121.38 835.67,121.21 835.76,121.05 835.84,120.90 835.92,120.77 835.99,120.64 836.06,120.52 836.12,120.41 836.18,120.32 836.23,120.23 836.27,120.16 836.31,120.09 836.35,120.04 836.37,120.00 836.39,119.96 836.41,119.94 836.41,119.93 836.41,119.94 836.40,119.95 836.39,119.97 836.36,120.01 836.33,120.05 836.29,120.11 836.25,120.18 836.19,120.26 836.13,120.35 836.06,120.45 835.97,120.56 835.88,120.69 835.78,120.83 835.68,120.97 835.56,121.13 835.43,121.30 835.29,121.49 835.14,121.68 834.98,121.89 834.81,122.10 834.63,122.33 834.44,122.57 834.24,122.82 834.02,123.08 833.80,123.35 833.56,123.64 833.31,123.93 833.05,124.24 832.77,124.55 832.49,124.88 832.19,125.22 831.88,125.57 831.55,125.93 831.21,126.30 830.86,126.68 830.49,127.07 830.11,127.48 829.72,127.89 829.31,128.31 828.89,128.74 828.45,129.19 828.00,129.64 827.53,130.10 827.04,130.57 826.54,131.05 826.03,131.55 825.50,132.05 824.95,132.56 824.39,133.07 823.81,133.60 823.22,134.14 822.60,134.68 821.97,135.23 821.33,135.79 820.66,136.36 819.98,136.94 819.28,137.52 818.57,138.11 817.83,138.71 817.08,139.32 816.31,139.93 815.52,140.55 814.71,141.17 813.88,141.81 813.04,142.44 812.17,143.09 811.29,143.74 810.39,144.39 809.46,145.05 808.52,145.71 807.56,146.38 806.58,147.05 805.58,147.73 804.56,148.41 803.52,149.10 802.46,149.79 801.37,150.48 800.27,151.17 799.15,151.87 798.01,152.57 796.84,153.27 795.66,153.97 794.46,154.67 793.23,155.38 791.98,156.08 790.72,156.79 789.43,157.49 788.12,158.20 786.79,158.91 785.44,159.61 784.07,160.32 782.67,161.02 781.26,161.72 779.82,162.42 778.37,163.12 776.89,163.81 775.39,164.50 773.87,165.19 772.33,165.87 770.77,166.56 769.19,167.23 767.58,167.90 765.96,168.57 764.32,169.23 762.65,169.89 760.96,170.54 759.26,171.19 757.53,171.82 755.78,172.46 754.02,173.08 752.23,173.70 750.42,174.31 748.59,174.91 746.75,175.50 744.88,176.08 742.99,176.66 741.09,177.22 739.16,177.78 737.22,178.32 735.26,178.86 733.28,179.38 731.28,179.89 729.26,180.39 727.22,180.88 725.17,181.36 723.10,181.83 721.01,182.28 718.90,182.72 716.78,183.14 714.64,183.56 712.48,183.96 710.31,184.34 708.12,184.71 705.92,185.07 703.70,185.41 701.46,185.73 699.21,186.04 696.95,186.34 694.67,186.61 692.38,186.87 690.07,187.12 687.76,187.35 685.42,187.56 683.08,187.75 680.72,187.93 678.36,188.09 675.98,188.23 673.59,188.35 671.18,188.45 668.77,188.53 666.35,188.60 663.92,188.65 661.48,188.67 659.03,188.68 656.57,188.67 654.10,188.64 651.63,188.59 649.14,188.52 646.66,188.42 644.16,188.31 641.66,188.18 639.15,188.03 636.64,187.85 634.12,187.66 631.60,187.44 629.08,187.21 626.55,186.95 624.02,186.67 621.49,186.37 618.95,186.05 616.41,185.70 613.87,185.34 611.34,184.95 608.80,184.55 606.26,184.12 603.72,183.67 601.18,183.20 598.65,182.70 596.11,182.19 593.58,181.65 591.06,181.10 588.53,180.52 586.01,179.92 583.50,179.30 580.98,178.66 578.48,177.99 575.98,177.31 573.49,176.61 571.00,175.88 568.52,175.14 566.05,174.37 563.59,173.58 561.13,172.78 558.69,171.95 556.25,171.10 553.83,170.24 551.41,169.35 549.01,168.45 546.62,167.53 544.23,166.59 541.87,165.62 539.51,164.65 537.17,163.65 534.84,162.64 532.52,161.60 530.22,160.55 527.94,159.49 525.67,158.41 523.41,157.31 521.17,156.19 518.95,155.06 516.74,153.91 514.56,152.75 512.39,151.58 510.23,150.39 508.10,149.18 505.98,147.96 503.88,146.73 501.81,145.49 499.75,144.23 497.71,142.96 495.69,141.68 493.70,140.39 491.72,139.08 489.76,137.77 487.83,136.45 485.92,135.11 484.03,133.77 482.16,132.42 480.32,131.06 478.50,129.69 476.70,128.32 474.92,126.93 473.17,125.55 471.44,124.15 469.74,122.75 468.06,121.35 466.40,119.94 464.77,118.52 463.16,117.10 461.58,115.68 460.02,114.26 458.49,112.84 456.98,111.41 455.50,109.98 454.04,108.55 452.61,107.13 451.20,105.70 449.82,104.27 448.46,102.85 447.13,101.42 445.83,100.00 444.55,98.59 443.30,97.17 442.07,95.76 440.87,94.36 439.69,92.96 438.54,91.56 437.42,90.17 436.32,88.79 435.24,87.42 434.20,86.05 433.17,84.69 432.17,83.34 431.20,82.00 430.25,80.67 429.33,79.35 428.43,78.04 427.56,76.74 426.71,75.46 425.88,74.18 425.08,72.92 424.30,71.67 423.55,70.43 422.82,69.21 422.11,68.01 421.42,66.82 420.76,65.64 420.12,64.48 419.51,63.34 418.91,62.21 418.34,61.10 417.78,60.01 417.25,58.94 416.74,57.88 416.25,56.85 415.78,55.83 415.33,54.83 414.90,53.85 414.49,52.90 414.10,51.96 413.72,51.05 413.36,50.16 413.03,49.29 412.70,48.44 412.40,47.61 412.11,46.81 411.84,46.03 411.58,45.27 411.34,44.54 411.11,43.83 410.90,43.15 410.70,42.49 410.52,41.85 410.35,41.24 410.19,40.66 410.04,40.10 409.91,39.57 409.79,39.06 409.67,38.58 409.57,38.13 409.48,37.70 409.40,37.30 409.32,36.93 409.26,36.58 409.20,36.26 409.15,35.97 409.11,35.70 409.07,35.47 409.04,35.26 409.02,35.07 409.00,34.92 408.99,34.79 408.97,34.70 408.97,34.63 408.96,34.58 408.96,34.57 408.96,34.58 408.97,34.62 408.97,34.69 408.97,34.79 408.98,34.91 408.98,35.07 408.99,35.25 408.99,35.45 408.99,35.69 408.99,35.95 408.98,36.24 408.98,36.56 408.96,36.91 408.95,37.28 408.93,37.68 408.90,38.11 408.87,38.56 408.84,39.04 408.79,39.54 408.74,40.07 408.69,40.63 408.62,41.22 408.55,41.82 408.47,42.46 408.38,43.12 408.28,43.80 408.17,44.51 408.05,45.24 407.92,46.00 407.78,46.78 407.62,47.59 407.46,48.41 407.28,49.26 407.09,50.14 406.89,51.03 406.68,51.95 406.45,52.89 406.21,53.85 405.95,54.83 405.68,55.84 405.39,56.86 405.09,57.90 404.77,58.96 404.44,60.05 404.09,61.15 403.73,62.27 403.35,63.40 402.95,64.56 402.54,65.73 402.10,66.92 401.66,68.13 401.19,69.35 400.70,70.59 400.20,71.84 399.68,73.11 399.14,74.40 398.58,75.69 398.00,77.01 397.41,78.33 396.79,79.67 396.16,81.02 395.50,82.38 394.83,83.75 394.14,85.14 393.42,86.54 392.69,87.94 391.94,89.36 391.16,90.78 390.37,92.22 389.56,93.66 388.72,95.11 387.87,96.57 387.00,98.04 386.10,99.51 385.19,100.99 384.25,102.48 383.30,103.97 382.32,105.46 381.33,106.97 380.31,108.47 379.27,109.98 378.22,111.49 377.14,113.01 376.04,114.53 374.93,116.05 373.79,117.57 372.63,119.09 371.46,120.62 370.26,122.14 369.04,123.67 367.81,125.19 366.55,126.72 365.28,128.24 363.99,129.76 362.68,131.28 361.34,132.80 360.00,134.31 358.63,135.83 357.24,137.33 355.84,138.84 354.42,140.34 352.98,141.84 351.52,143.33 350.04,144.81 348.55,146.29 347.04,147.77 345.52,149.24 343.98,150.70 342.42,152.16 340.84,153.60 339.25,155.05 337.65,156.48 336.03,157.90 334.39,159.32 332.74,160.73 331.07,162.13 329.39,163.52 327.70,164.90 325.99,166.27 324.27,167.63 322.54,168.98 320.79,170.32 319.03,171.65 317.26,172.97 315.48,174.28 313.68,175.58 311.87,176.86 310.06,178.14 308.23,179.40 306.39,180.65 304.54,181.88 302.68,183.11 300.81,184.32 298.93,185.52 297.04,186.70 295.15,187.87 293.24,189.03 291.33,190.18 289.41,191.31 287.49,192.43 285.55,193.53 283.61,194.62 281.66,195.70 279.71,196.76 277.75,197.81 275.79,198.84 273.82,199.86 271.84,200.87 269.86,201.86 267.88,202.83 265.89,203.79 263.90,204.74 261.91,205.67 259.91,206.58 257.91,207.48 255.91,208.37 253.91,209.24 251.91,210.09 249.90,210.93 247.89,211.76 245.89,212.57 243.88,213.37 241.87,214.15 239.86,214.91 237.85,215.66 235.85,216.40 233.84,217.12 231.84,217.82 229.84,218.51 227.84,219.19 225.84,219.85 223.85,220.50 221.85,221.13 219.86,221.75 217.88,222.35 215.90,222.94 213.92,223.51 211.95,224.07 209.98,224.61 208.01,225.14 206.05,225.66 204.10,226.16 202.15,226.65 200.21,227.12 198.27,227.59 196.34,228.03 194.41,228.47 192.50,228.89 190.59,229.29 188.68,229.69 186.79,230.07 184.90,230.44 183.02,230.79 181.15,231.14 179.28,231.47 177.42,231.78 175.58,232.09 173.74,232.38 171.91,232.66 170.09,232.93 168.28,233.19 166.48,233.44 164.68,233.67 162.90,233.90 161.13,234.11 159.37,234.31 157.62,234.50 155.88,234.68 154.15,234.85 152.43,235.01 150.72,235.16 149.02,235.30 147.34,235.43 145.66,235.55 144.00,235.66 142.35,235.77 140.71,235.86 139.08,235.94 137.46,236.02 135.86,236.08 134.27,236.14 132.69,236.19 131.12,236.23 129.56,236.26 128.02,236.29 126.49,236.31 124.97,236.32 123.47,236.32 121.98,236.32 120.50,236.30 119.03,236.29 117.58,236.26 116.14,236.23 114.71,236.19 113.30,236.15 111.90,236.10 110.51,236.05 109.14,235.98 107.78,235.92 106.43,235.85 105.10,235.77 103.78,235.69 102.47,235.60 101.18,235.51 99.90,235.41 98.63,235.31 97.38,235.21 96.14,235.10 94.91,234.99 93.70,234.87 92.50,234.75 91.31,234.63 90.14,234.50 88.98,234.37 87.84,234.23 86.70,234.10 85.59,233.96 84.48,233.82 83.39,233.67 82.31,233.53 81.25,233.38 80.19,233.23 79.16,233.07 78.13,232.92 77.12,232.76 76.12,232.60 75.13,232.44 74.16,232.28 73.20,232.12 72.26,231.96 71.32,231.79 70.40,231.63 69.49,231.46 68.60,231.29 67.72,231.12 66.85,230.96 65.99,230.79 65.14,230.62 64.31,230.45 63.49,230.28 62.68,230.11 61.89,229.94 61.10,229.77 60.33,229.60 59.57,229.43 58.83,229.26 58.09,229.10 57.37,228.93 56.66,228.76 55.96,228.60 55.27,228.43 54.59,228.27 53.92,228.10 53.27,227.94 52.63,227.78 52.00,227.62 51.38,227.46 50.77,227.30 50.17,227.14 49.58,226.99 49.00,226.83 48.43,226.68 47.88,226.53 47.33,226.38 46.80,226.23 46.27,226.09 45.76,225.94 45.25,225.80 44.76,225.66 44.27,225.52 43.80,225.38 43.33,225.24 42.88,225.11 42.43,224.98 41.99,224.85 41.57,224.72 41.15,224.59 40.74,224.47 40.34,224.35 39.95,224.22 39.57,224.11 39.19,223.99 38.83,223.88 38.47,223.76 38.12,223.65 37.79,223.55 37.45,223.44 37.13,223.34 36.82,223.23 36.51,223.14 36.21,223.04 35.92,222.94 35.64,222.85 35.36,222.76 35.09,222.67 34.83,222.58 34.58,222.50 34.33,222.42 34.09,222.34 33.86,222.26 33.64,222.18 33.42,222.11 33.21,222.04 33.00,221.97 32.81,221.90 32.61,221.84 32.43,221.77 32.25,221.71 32.08,221.65 31.91,221.60 31.75,221.54 31.60,221.49 31.45,221.44 31.31,221.39 31.17,221.34 31.04,221.29 30.91,221.25 30.79,221.21 30.68,221.17 30.57,221.13 30.47,221.09 30.37,221.06 30.27,221.03 30.19,221.00 30.10,220.97 30.02,220.94 29.95,220.91 29.88,220.89 29.81,220.87 29.75,220.84 29.70,220.83 29.65,220.81 29.60,220.79 29.56,220.78 29.52,220.76 29.49,220.75 29.46,220.74 29.43,220.73 29.41,220.72 29.39,220.72 29.37,220.71 29.36,220.71 29.36,220.71 29.35,220.71 29.35,220.71 29.36,220.71 29.37,220.71 29.38,220.71 29.39,220.72 29.41,220.72 29.43,220.73 29.45,220.74 29.48,220.75 29.51,220.76 29.55,220.77 29.58,220.78 29.62,220.80 29.67,220.81 29.71,220.83 29.76,220.84 29.81,220.86 29.87,220.88 29.93,220.90 29.99,220.92 30.05,220.94 30.11,220.96 30.18,220.98 30.26,221.00 30.33,221.03 30.41,221.05 30.49,221.08 30.57,221.10 30.65,221.13 30.74,221.16 30.83,221.19 30.92,221.22 31.02,221.25 31.12,221.28 31.22,221.31 31.32,221.34 31.42,221.37 31.53,221.41 31.64,221.44 31.76,221.47 31.87,221.51 31.99,221.54 32.11,221.58 32.23,221.62 32.36,221.66 32.49,221.69 32.62,221.73 32.76,221.77 32.89,221.81 33.03,221.85 33.17,221.89 33.32,221.93 33.47,221.98 33.62,222.02 33.77,222.06 33.93,222.11 34.08,222.15 34.25,222.20 34.41,222.24 34.58,222.29 34.75,222.34 34.92,222.38 35.10,222.43 35.28,222.48 35.46,222.53 35.65,222.58 35.84,222.63 36.03,222.68 36.23,222.74 36.43,222.79 36.63,222.84 36.84,222.90 37.05,222.95 37.26,223.01 37.48,223.06 37.70,223.12 37.92,223.18 38.15,223.23 38.38,223.29 38.62,223.35 38.86,223.41 39.10,223.47 39.35,223.53 39.60,223.60 39.86,223.66 40.12,223.72 40.38,223.79 40.65,223.85 40.93,223.92 41.21,223.99 41.49,224.06 41.78,224.13 42.07,224.20 42.37,224.27 42.67,224.34 42.98,224.41 43.29,224.48 43.61,224.56 43.93,224.63 44.26,224.71 44.59,224.79 44.93,224.87 45.27,224.95 45.62,225.03 45.97,225.11 46.34,225.19 46.70,225.28 47.07,225.36 47.45,225.45 47.84,225.53 48.23,225.62 48.62,225.71 49.02,225.80 49.43,225.90 49.85,225.99 50.27,226.09 50.70,226.18 51.13,226.28 51.57,226.38 52.02,226.48 52.47,226.58 52.94,226.69 53.40,226.79 53.88,226.90 54.36,227.01 54.85,227.12 55.35,227.23 55.85,227.34 56.36,227.46 56.88,227.57 57.41,227.69 57.94,227.81 58.48,227.94 59.03,228.06 59.58,228.19 60.15,228.31 60.72,228.44 61.30,228.58 61.89,228.71 62.48,228.85 63.09,228.99 63.70,229.13 64.32,229.27 64.95,229.42 65.58,229.57 66.23,229.72 66.88,229.87 67.54,230.02 68.21,230.18 68.89,230.34 69.58,230.51 70.28,230.67 70.98,230.84 71.69,231.01 72.42,231.19 73.15,231.37 73.89,231.55 74.64,231.73 75.39,231.92 76.16,232.11 76.94,232.30 77.72,232.50 78.52,232.70 79.32,232.90 80.13,233.11 80.95,233.32 81.78,233.54 82.62,233.76 83.47,233.98 84.33,234.20 85.20,234.43 86.07,234.67 86.96,234.91 87.85,235.15 88.76,235.40 89.67,235.65 90.59,235.90 91.53,236.16 92.47,236.43 93.42,236.70 94.38,236.97 95.35,237.25 96.33,237.53 97.31,237.82 98.31,238.11 99.32,238.41 100.34,238.72 101.36,239.03 102.40,239.34 103.44,239.66 104.49,239.99 105.55,240.32 106.63,240.65 107.71,241.00 108.80,241.35 109.89,241.70 111.00,242.06 112.12,242.43 113.24,242.80 114.38,243.18 115.52,243.57 116.67,243.96 117.84,244.36 119.00,244.76 120.18,245.18 121.37,245.60 122.57,246.02 123.77,246.46 124.98,246.90 126.20,247.35 127.43,247.80 128.67,248.26 129.91,248.73 131.17,249.21 132.43,249.70 133.70,250.19 134.97,250.69 136.26,251.20 137.55,251.72 138.85,252.24 140.16,252.78 141.47,253.32 142.79,253.87 144.12,254.43 145.46,255.00 146.80,255.57 148.15,256.16 149.51,256.75 150.87,257.35 152.24,257.96 153.61,258.58 155.00,259.21 156.38,259.85 157.78,260.50 159.18,261.16 160.58,261.82 161.99,262.50 163.41,263.19 164.83,263.88 166.26,264.59 167.69,265.30 169.12,266.03 170.57,266.76 172.01,267.51 173.46,268.26 174.91,269.02 176.37,269.80 177.83,270.58 179.30,271.38 180.77,272.18 182.24,273.00 183.71,273.83 185.19,274.66 186.67,275.51 188.16,276.37 189.64,277.23 191.13,278.11 192.62,279.00 194.11,279.90 195.61,280.81 197.10,281.73 198.60,282.66 200.10,283.60 201.60,284.55 203.09,285.51 204.59,286.49 206.09,287.47 207.59,288.47 209.09,289.47 210.59,290.49 212.09,291.51 213.59,292.55 215.09,293.60 216.58,294.66 218.07,295.72 219.57,296.80 221.06,297.89 222.55,298.99 224.03,300.10 225.52,301.22 227.00,302.35 228.47,303.49 229.95,304.65 231.42,305.81 232.89,306.98 234.35,308.16 235.81,309.35 237.26,310.55 238.71,311.76 240.16,312.98 241.60,314.21 243.03,315.45 244.46,316.70 245.89,317.96 247.30,319.22 248.72,320.50 250.12,321.78 251.52,323.08 252.91,324.38 254.29,325.69 255.67,327.01 257.04,328.33 258.40,329.67 259.76,331.01 261.10,332.36 262.44,333.72 263.77,335.09 265.09,336.46 266.40,337.84 267.70,339.23 268.99,340.62 270.27,342.02 271.54,343.43 272.80,344.84 274.05,346.26 275.29,347.68 276.52,349.11 277.74,350.55 278.95,351.99 280.15,353.44 281.33,354.89 282.51,356.34 283.67,357.80 284.82,359.26 285.95,360.73 287.08,362.20 288.19,363.67 289.29,365.15 290.38,366.63 291.45,368.11 292.51,369.59 293.56,371.08 294.59,372.57 295.61,374.05 296.62,375.54 297.61,377.03 298.59,378.52 299.55,380.02 300.50,381.51 301.44,383.00 302.36,384.49 303.27,385.97 304.16,387.46 305.04,388.95 305.90,390.43 306.75,391.91 307.58,393.39 308.40,394.87 309.20,396.34 309.99,397.81 310.76,399.27 311.51,400.73 312.26,402.19 312.98,403.64 313.69,405.09 314.39,406.53 315.07,407.96 315.73,409.39 316.38,410.81 317.02,412.23 317.63,413.63 318.24,415.03 318.82,416.42 319.40,417.81 319.95,419.18 320.50,420.55 321.02,421.90 321.53,423.25 322.03,424.58 322.51,425.91 322.98,427.22 323.43,428.52 323.87,429.81 324.29,431.09 324.70,432.36 325.09,433.62 325.47,434.86 325.84,436.09 326.19,437.30 326.53,438.50 326.85,439.69 327.16,440.86 327.46,442.01 327.74,443.15 328.01,444.28 328.27,445.39 328.52,446.48 328.75,447.56 328.97,448.62 329.18,449.66 329.38,450.68 329.56,451.69 329.74,452.68 329.90,453.65 330.06,454.60 330.20,455.53 330.33,456.44 330.45,457.33 330.57,458.21 330.67,459.06 330.76,459.89 330.85,460.70 330.92,461.49 330.99,462.26 331.05,463.01 331.11,463.73 331.15,464.43 331.19,465.11 331.22,465.77 331.25,466.41 331.27,467.02 331.29,467.61 331.30,468.18 331.30,468.72 331.30,469.24 331.30,469.73 331.29,470.20 331.28,470.65 331.27,471.07 331.25,471.47 331.23,471.84 331.21,472.19 331.19,472.51 331.17,472.81 331.15,473.09 331.13,473.33 331.11,473.56 331.09,473.75 331.07,473.93 331.05,474.07 331.03,474.19 331.02,474.29 331.01,474.36 331.00,474.40 331.00,474.42 331.00,474.41 331.01,474.38 331.02,474.32 331.04,474.24 331.06,474.13 331.09,473.99 331.12,473.83 331.17,473.64 331.22,473.43 331.28,473.19 331.35,472.93 331.42,472.64 331.51,472.33 331.61,471.99 331.72,471.63 331.83,471.24 331.96,470.83 332.11,470.39 332.26,469.93 332.43,469.45 332.61,468.94 332.80,468.40 333.00,467.85 333.23,467.27 333.46,466.67 333.71,466.04 333.98,465.40 334.26,464.73 334.56,464.03 334.87,463.32 335.21,462.58 335.56,461.83 335.92,461.05 336.31,460.25 336.72,459.43 337.14,458.59 337.58,457.74 338.04,456.86 338.53,455.96 339.03,455.05 339.55,454.11 340.10,453.16 340.66,452.19 341.25,451.20 341.86,450.20 342.49,449.18 343.14,448.15 343.82,447.09 344.52,446.03 345.24,444.95 345.99,443.85 346.76,442.74 347.55,441.62 348.37,440.48 349.21,439.33 350.08,438.17 350.97,437.00 351.88,435.81 352.83,434.62 353.79,433.41 354.79,432.20 355.80,430.98 356.85,429.74 357.92,428.50 359.01,427.25 360.14,426.00 361.28,424.73 362.46,423.46 363.66,422.19 364.89,420.91 366.14,419.62 367.42,418.33 368.73,417.04 370.06,415.74 371.42,414.44 372.81,413.14 374.22,411.84 375.66,410.53 377.13,409.23 378.62,407.92 380.14,406.62 381.69,405.31 383.26,404.01 384.86,402.71 386.49,401.41 388.14,400.11 389.81,398.82 391.52,397.53 393.25,396.25 395.00,394.97 396.78,393.70 398.58,392.43 400.41,391.17 402.27,389.91 404.15,388.67 406.05,387.43 407.98,386.20 409.93,384.98 411.91,383.76 413.91,382.56 415.93,381.37 417.97,380.19 420.04,379.02 422.13,377.86 424.24,376.71 426.38,375.58 428.53,374.46 430.71,373.35 432.91,372.26 435.13,371.18 437.36,370.12 439.62,369.07 441.90,368.03 444.19,367.01 446.51,366.01 448.84,365.03 451.19,364.06 453.56,363.11 455.95,362.17 458.35,361.25 460.77,360.36 463.20,359.48 465.65,358.62 468.11,357.78 470.59,356.95 473.08,356.15 475.59,355.37 478.11,354.61 480.64,353.87 483.18,353.15 485.74,352.45 488.31,351.77 490.88,351.11 493.47,350.47 496.07,349.86 498.67,349.27 501.29,348.70 503.91,348.15 506.54,347.63 509.18,347.12 511.82,346.65 514.47,346.19 517.13,345.76 519.79,345.35 522.45,344.96 525.12,344.59 527.80,344.25 530.47,343.94 533.15,343.64 535.83,343.37 538.51,343.12 541.19,342.90 543.88,342.70 546.56,342.52 549.24,342.37 551.92,342.24 554.60,342.13 557.28,342.05 559.95,341.99 562.62,341.96 565.29,341.94 567.95,341.95 570.61,341.99 573.26,342.04 575.91,342.12 578.55,342.22 581.18,342.35 583.81,342.49 586.43,342.66 589.04,342.85 591.64,343.06 594.23,343.30 596.81,343.55 599.39,343.83 601.95,344.13 604.50,344.45 607.04,344.79 609.56,345.14 612.08,345.52 614.58,345.92 617.07,346.34 619.55,346.78 622.01,347.24 624.46,347.72 626.89,348.21 629.31,348.73 631.71,349.26 634.09,349.81 636.46,350.38 638.81,350.96 641.15,351.56 643.47,352.18 645.77,352.81 648.05,353.46 650.31,354.12 652.56,354.80 654.79,355.49 656.99,356.20 659.18,356.92 661.35,357.66 663.49,358.41 665.62,359.17 667.73,359.94 669.81,360.73 671.88,361.53 673.92,362.33 675.94,363.15 677.94,363.98 679.92,364.82 681.87,365.67 683.80,366.53 685.71,367.40 687.60,368.27 689.47,369.16 691.31,370.05 693.12,370.95 694.92,371.85 696.69,372.76 698.44,373.68 700.16,374.60 701.86,375.53 703.54,376.46 705.19,377.40 706.82,378.34 708.42,379.28 710.00,380.23 711.56,381.18 713.09,382.13 714.60,383.08 716.08,384.04 717.54,384.99 718.97,385.95 720.38,386.90 721.77,387.86 723.13,388.81 724.47,389.76 725.78,390.72 727.07,391.67 728.33,392.61" stroke="#ff0000" stroke-width="1.05"/>
<polyline points="355.03,99.49 353.78,98.23 352.56,96.97 351.36,95.71 350.19,94.47 349.05,93.23 347.93,91.99 346.84,90.76 345.78,89.55 344.74,88.34 343.72,87.13 342.73,85.94 341.77,84.76 340.83,83.59 339.92,82.43 339.03,81.28 338.17,80.14 337.33,79.01 336.52,77.90 335.73,76.80 334.96,75.71 334.22,74.63 333.50,73.58 332.80,72.53 332.13,71.50 331.48,70.49 330.85,69.49 330.25,68.51 329.66,67.54 329.10,66.60 328.56,65.67 328.04,64.75 327.54,63.86 327.06,62.98 326.60,62.13 326.15,61.29 325.73,60.47 325.33,59.67 324.95,58.90 324.58,58.14 324.23,57.40 323.90,56.69 323.59,55.99 323.29,55.32 323.01,54.67 322.74,54.04 322.49,53.43 322.26,52.85 322.04,52.29 321.83,51.75 321.64,51.23 321.46,50.74 321.29,50.27 321.14,49.83 321.00,49.41 320.87,49.01 320.75,48.64 320.65,48.29 320.55,47.96 320.46,47.67 320.39,47.39 320.32,47.14 320.26,46.92 320.21,46.72 320.17,46.54 320.13,46.39 320.10,46.27 320.08,46.17 320.07,46.09 320.06,46.04 320.05,46.02 320.05,46.02 320.06,46.05 320.07,46.10 320.08,46.18 320.09,46.28 320.11,46.41 320.13,46.56 320.15,46.74 320.18,46.94 320.20,47.17 320.23,47.42 320.25,47.70 320.28,48.00 320.30,48.33 320.33,48.68 320.35,49.05 320.37,49.45 320.39,49.87 320.41,50.32 320.42,50.79 320.43,51.29 320.43,51.80 320.44,52.35 320.43,52.91 320.43,53.50 320.42,54.11 320.40,54.74 320.38,55.39 320.35,56.07 320.31,56.77 320.27,57.49 320.22,58.23 320.16,58.99 320.10,59.78 320.02,60.58 319.94,61.40 319.85,62.25 319.76,63.11 319.65,64.00 319.53,64.90 319.41,65.82 319.27,66.76 319.12,67.72 318.97,68.70 318.80,69.70 318.62,70.71 318.43,71.74 318.23,72.79 318.02,73.85 317.79,74.93 317.56,76.03 317.31,77.14 317.05,78.27 316.78,79.41 316.49,80.57 316.19,81.74 315.88,82.93 315.56,84.13 315.22,85.35 314.87,86.57 314.50,87.81 314.12,89.06 313.73,90.33 313.33,91.60 312.91,92.89 312.47,94.19 312.03,95.50 311.56,96.82 311.09,98.15 310.60,99.49 310.09,100.84 309.57,102.20 309.04,103.56 308.49,104.94 307.93,106.32 307.35,107.71 306.76,109.11 306.15,110.52 305.53,111.93 304.89,113.35 304.24,114.77 303.58,116.20 302.90,117.64 302.21,119.08 301.50,120.52 300.77,121.97 300.04,123.43 299.28,124.88 298.52,126.34 297.74,127.81 296.94,129.28 296.13,130.74 295.31,132.22 294.47,133.69 293.62,135.16 292.76,136.64 291.88,138.12 290.99,139.60 290.08,141.08 289.16,142.55 288.23,144.03 287.28,145.51 286.32,146.99 285.35,148.46 284.37,149.94 283.37,151.41 282.36,152.88 281.34,154.35 280.31,155.82 279.26,157.29 278.20,158.75 277.13,160.21 276.05,161.66 274.96,163.12 273.85,164.56 272.74,166.01 271.61,167.45 270.48,168.89 269.33,170.32 268.17,171.74 267.00,173.16 265.82,174.58 264.64,175.99 263.44,177.40 262.23,178.80 261.02,180.19 259.79,181.58 258.56,182.96 257.32,184.33 256.06,185.70 254.80,187.06 253.54,188.41 252.26,189.76 250.98,191.10 249.69,192.43 248.39,193.75 247.09,195.07 245.78,196.38 244.46,197.68 243.14,198.97 241.81,200.26 240.47,201.53 239.13,202.80 237.78,204.06 236.43,205.31 235.07,206.55 233.71,207.78 232.34,209.00 230.97,210.22 229.60,211.42 228.22,212.62 226.83,213.80 225.45,214.98 224.06,216.15 222.66,217.31 221.27,218.45 219.87,219.59 218.47,220.72 217.06,221.84 215.66,222.95 214.25,224.05 212.84,225.14 211.43,226.22 210.02,227.29 208.61,228.35 207.19,229.40 205.78,230.44 204.37,231.47 202.95,232.49 201.54,233.50 200.12,234.50 198.71,235.49 197.29,236.47 195.88,237.44 194.47,238.41 193.06,239.36 191.65,240.30 190.24,241.23 188.84,242.15 187.43,243.06 186.03,243.96 184.63,244.85 183.23,245.73 181.84,246.60 180.45,247.46 179.06,248.31 177.67,249.15 176.29,249.98 174.91,250.80 173.53,251.61 172.16,252.42 170.79,253.21 169.43,253.99 168.07,254.76 166.71,255.53 165.36,256.28 164.02,257.03 162.67,257.77 161.34,258.49 160.00,259.21 158.68,259.92 157.36,260.62 156.04,261.31 154.73,261.99 153.43,262.66 152.13,263.33 150.83,263.98 149.55,264.63 148.27,265.27 146.99,265.90 145.72,266.52 144.46,267.13 143.21,267.74 141.96,268.33 140.72,268.92 139.48,269.50 138.26,270.07 137.04,270.64 135.82,271.19 134.62,271.74 133.42,272.28 132.23,272.82 131.04,273.34 129.87,273.86 128.70,274.37 127.54,274.88 126.38,275.37 125.24,275.86 124.10,276.35 122.97,276.82 121.85,277.29 120.74,277.75 119.63,278.21 118.53,278.66 117.44,279.10 116.36,279.53 115.29,279.96 114.23,280.38 113.17,280.80 112.13,281.21 111.09,281.62 110.06,282.01 109.04,282.41 108.02,282.79 107.02,283.17 106.02,283.55 105.04,283.92 104.06,284.28 103.09,284.64 102.13,284.99 101.18,285.34 100.23,285.69 99.30,286.02 98.37,286.36 97.45,286.68 96.55,287.01 95.65,287.32 94.76,287.64 93.87,287.95 93.00,288.25 92.13,288.55 91.28,288.84 90.43,289.13 89.59,289.42 88.76,289.70 87.94,289.98 87.13,290.25 86.33,290.52 85.53,290.79 84.75,291.05 83.97,291.30 83.20,291.56 82.44,291.81 81.69,292.05 80.94,292.30 80.21,292.54 79.48,292.77 78.76,293.00 78.05,293.23 77.35,293.46 76.66,293.68 75.97,293.90 75.29,294.11 74.62,294.33 73.96,294.53 73.31,294.74 72.67,294.94 72.03,295.14 71.40,295.34 70.78,295.54 70.17,295.73 69.56,295.92 68.96,296.10 68.37,296.29 67.79,296.47 67.21,296.65 66.65,296.82 66.09,297.00 65.53,297.17 64.99,297.34 64.45,297.50 63.92,297.67 63.40,297.83 62.88,297.99 62.37,298.15 61.87,298.30 61.37,298.46 60.88,298.61 60.40,298.76 59.93,298.91 59.46,299.05 58.99,299.19 58.54,299.34 58.09,299.48 57.64,299.61 57.21,299.75 56.78,299.88 56.35,300.02 55.93,300.15 55.52,300.28 55.11,300.40 54.71,300.53 54.32,300.65 53.93,300.78 53.55,300.90 53.17,301.02 52.79,301.14 52.43,301.25 52.06,301.37 51.71,301.48 51.36,301.59 51.01,301.71 50.67,301.82 50.33,301.92 50.00,302.03 49.67,302.14 49.35,302.24 49.04,302.35 48.72,302.45 48.41,302.55 48.11,302.65 47.81,302.75 47.52,302.85 47.23,302.94 46.94,303.04 46.66,303.13 46.38,303.22 46.11,303.32 45.84,303.41 45.57,303.50 45.31,303.59 45.05,303.68 44.80,303.76 44.55,303.85 44.30,303.93 44.06,304.02 43.82,304.10 43.58,304.19 43.35,304.27 43.12,304.35 42.89,304.43 42.67,304.51 42.44,304.59 42.23,304.66 42.01,304.74 41.80,304.82 41.59,304.89 41.39,304.97 41.19,305.04 40.99,305.11 40.79,305.18 40.60,305.26 40.41,305.33 40.22,305.40 40.03,305.47 39.85,305.53 39.67,305.60 39.49,305.67 39.32,305.73 39.15,305.80 38.98,305.87 38.81,305.93 38.65,305.99 38.48,306.06 38.32,306.12 38.17,306.18 38.01,306.24 37.86,306.30 37.71,306.36 37.56,306.42 37.42,306.47 37.27,306.53 37.13,306.59 36.99,306.64 36.86,306.70 36.72,306.75 36.59,306.80 36.46,306.86 36.34,306.91 36.21,306.96 36.09,307.01 35.97,307.06 35.85,307.10 35.74,307.15 35.63,307.20 35.52,307.24 35.41,307.29 35.30,307.33 35.20,307.38 35.10,307.42 35.00,307.46 34.91,307.50 34.81,307.54 34.72,307.58 34.64,307.61 34.55,307.65 34.47,307.68 34.39,307.72 34.31,307.75 34.24,307.78 34.17,307.81 34.10,307.84 34.04,307.87 33.97,307.90 33.92,307.92 33.86,307.95 33.81,307.97 33.76,307.99 33.71,308.01 33.67,308.03 33.62,308.05 33.59,308.07 33.55,308.08 33.52,308.09 33.50,308.11 33.47,308.12 33.45,308.12 33.44,308.13 33.43,308.14 33.42,308.14 33.41,308.14 33.41,308.14 33.42,308.14 33.42,308.14 33.43,308.13 33.45,308.13 33.47,308.12 33.49,308.11 33.52,308.09 33.56,308.08 33.59,308.06 33.63,308.04 33.68,308.02 33.73,308.00 33.79,307.98 33.85,307.95 33.92,307.92 33.99,307.89 34.07,307.86 34.15,307.82 34.23,307.78 34.33,307.74 34.42,307.70 34.53,307.65 34.64,307.61 34.75,307.56 34.87,307.50 35.00,307.45 35.13,307.39 35.27,307.33 35.42,307.27 35.57,307.21 35.73,307.14 35.89,307.07 36.06,307.00 36.24,306.92 36.42,306.84 36.61,306.76 36.81,306.68 37.02,306.60 37.23,306.51 37.45,306.42 37.67,306.32 37.91,306.23 38.15,306.13 38.40,306.03 38.66,305.92 38.92,305.81 39.19,305.70 39.47,305.59 39.76,305.48 40.06,305.36 40.36,305.24 40.68,305.11 41.00,304.99 41.33,304.86 41.67,304.73 42.02,304.59 42.38,304.45 42.74,304.31 43.12,304.17 43.50,304.03 43.90,303.88 44.30,303.73 44.71,303.58 45.13,303.42 45.57,303.26 46.01,303.10 46.46,302.94 46.92,302.77 47.39,302.61 47.88,302.44 48.37,302.26 48.87,302.09 49.38,301.91 49.91,301.73 50.44,301.55 50.99,301.37 51.55,301.18 52.11,300.99 52.69,300.80 53.28,300.61 53.88,300.42 54.50,300.22 55.12,300.03 55.75,299.83 56.40,299.63 57.06,299.43 57.73,299.22 58.41,299.02 59.11,298.81 59.82,298.61 60.53,298.40 61.27,298.19 62.01,297.98 62.77,297.77 63.53,297.55 64.31,297.34 65.11,297.13 65.91,296.91 66.73,296.70 67.57,296.48 68.41,296.27 69.27,296.05 70.14,295.84 71.02,295.62 71.92,295.41 72.83,295.19 73.76,294.98 74.70,294.76 75.65,294.55 76.61,294.34 77.59,294.13 78.58,293.91 79.59,293.71 80.61,293.50 81.64,293.29 82.69,293.08 83.75,292.88 84.82,292.68 85.91,292.48 87.01,292.28 88.13,292.08 89.26,291.89 90.40,291.70 91.56,291.51 92.73,291.32 93.92,291.14 95.12,290.96 96.33,290.78 97.56,290.61 98.81,290.44 100.06,290.28 101.33,290.11 102.62,289.96 103.92,289.80 105.23,289.65 106.56,289.51 107.90,289.37 109.26,289.23 110.63,289.10 112.01,288.98 113.41,288.86 114.82,288.74 116.25,288.63 117.69,288.53 119.14,288.43 120.61,288.34 122.09,288.26 123.58,288.18 125.09,288.11 126.61,288.05 128.15,287.99 129.69,287.94 131.26,287.90 132.83,287.87 134.42,287.84 136.02,287.82 137.63,287.81 139.26,287.81 140.90,287.82 142.55,287.84 144.22,287.86 145.89,287.90 147.58,287.94 149.29,287.99 151.00,288.05 152.73,288.13 154.46,288.21 156.21,288.30 157.97,288.40 159.75,288.52 161.53,288.64 163.32,288.77 165.13,288.92 166.95,289.08 168.77,289.25 170.61,289.43 172.46,289.62 174.31,289.82 176.18,290.04 178.06,290.26 179.95,290.50 181.84,290.76 183.75,291.02 185.66,291.30 187.58,291.59 189.51,291.89 191.45,292.21 193.40,292.54 195.36,292.88 197.32,293.24 199.29,293.61 201.26,294.00 203.25,294.40 205.24,294.81 207.24,295.24 209.24,295.68 211.25,296.13 213.26,296.60 215.28,297.09 217.31,297.59 219.34,298.10 221.37,298.63 223.41,299.18 225.45,299.74 227.50,300.31 229.55,300.90 231.60,301.51 233.65,302.13 235.71,302.76 237.77,303.41 239.83,304.08 241.90,304.76 243.96,305.46 246.03,306.17 248.09,306.90 250.16,307.65 252.23,308.41 254.29,309.18 256.36,309.97 258.42,310.78 260.49,311.60 262.55,312.44 264.61,313.30 266.67,314.17 268.72,315.05 270.78,315.95 272.83,316.87 274.87,317.80 276.91,318.75 278.95,319.71 280.98,320.69 283.01,321.68 285.04,322.69 287.05,323.71 289.06,324.75 291.07,325.80 293.07,326.87 295.06,327.95 297.04,329.05 299.02,330.16 300.99,331.29 302.95,332.43 304.90,333.58 306.85,334.75 308.78,335.93 310.70,337.12 312.62,338.33 314.52,339.55 316.42,340.78 318.30,342.03 320.17,343.29 322.03,344.56 323.88,345.84 325.72,347.13 327.54,348.44 329.35,349.76 331.15,351.09 332.94,352.43 334.71,353.78 336.47,355.14 338.21,356.51 339.94,357.89 341.65,359.28 343.35,360.68 345.03,362.09 346.70,363.51 348.35,364.93 349.99,366.37 351.61,367.81 353.21,369.26 354.80,370.72 356.37,372.18 357.92,373.65 359.46,375.13 360.97,376.61 362.47,378.09 363.95,379.59 365.42,381.08 366.86,382.59 368.29,384.09 369.69,385.60 371.08,387.11 372.45,388.63 373.80,390.14 375.13,391.66 376.44,393.18 377.73,394.71 379.00,396.23 380.24,397.75 381.47,399.28 382.68,400.80 383.87,402.32 385.04,403.84 386.19,405.36 387.32,406.88 388.42,408.40 389.51,409.91 390.57,411.42 391.62,412.92 392.64,414.42 393.64,415.92 394.62,417.41 395.58,418.89 396.52,420.37 397.44,421.85 398.34,423.31 399.22,424.77 400.07,426.22 400.91,427.66 401.72,429.10 402.52,430.52 403.29,431.94 404.04,433.34 404.77,434.74 405.49,436.12 406.18,437.49 406.85,438.85 407.50,440.20 408.13,441.53 408.74,442.86 409.34,444.17 409.91,445.46 410.47,446.74 411.00,448.01 411.52,449.26 412.02,450.49 412.50,451.71 412.96,452.91 413.40,454.10 413.83,455.27 414.23,456.42 414.63,457.55 415.00,458.66 415.36,459.76 415.70,460.83 416.02,461.89 416.33,462.93 416.63,463.94 416.91,464.94 417.17,465.91 417.42,466.86 417.66,467.80 417.88,468.70 418.09,469.59 418.28,470.46 418.46,471.30 418.63,472.12 418.79,472.91 418.94,473.68 419.07,474.43 419.20,475.15 419.31,475.85 419.41,476.52 419.51,477.17 419.59,477.79 419.67,478.39 419.74,478.96 419.80,479.50 419.85,480.02 419.90,480.51 419.94,480.98 419.97,481.42 420.00,481.83 420.02,482.22 420.04,482.57 420.05,482.90 420.06,483.21 420.07,483.48 420.07,483.73 420.07,483.95 420.07,484.14 420.07,484.30 420.06,484.44 420.06,484.55 420.06,484.63 420.06,484.68 420.05,484.70 420.05,484.70 420.06,484.67 420.06,484.61 420.07,484.52 420.08,484.40 420.10,484.26 420.12,484.08 420.14,483.88 420.17,483.65 420.21,483.40 420.26,483.11 420.31,482.80 420.36,482.46 420.43,482.10 420.51,481.70 420.59,481.28 420.68,480.84 420.79,480.36 420.90,479.86 421.02,479.34 421.16,478.78 421.31,478.21 421.47,477.60 421.64,476.97 421.83,476.32 422.03,475.64 422.24,474.93 422.47,474.21 422.71,473.45 422.97,472.68 423.24,471.88 423.53,471.05 423.84,470.21 424.16,469.34 424.50,468.45 424.86,467.54 425.23,466.60 425.63,465.65 426.04,464.67 426.47,463.68 426.92,462.66 427.39,461.62 427.89,460.57 428.40,459.50 428.93,458.40 429.48,457.29 430.06,456.16 430.65,455.02 431.27,453.86 431.91,452.68 432.58,451.49 433.26,450.28 433.97,449.05 434.70,447.81 435.45,446.56 436.23,445.29 437.03,444.01 437.86,442.72 438.71,441.42 439.58,440.10 440.48,438.78 441.40,437.44 442.35,436.09 443.32,434.74 444.32,433.37 445.34,432.00 446.39,430.61 447.46,429.22 448.56,427.83 449.68,426.42 450.83,425.01 452.00,423.60 453.20,422.18 454.42,420.75 455.67,419.32 456.94,417.89 458.24,416.46 459.57,415.02 460.92,413.58 462.29,412.14 463.70,410.70 465.12,409.26 466.57,407.81 468.05,406.37 469.55,404.93 471.08,403.50 472.63,402.06 474.20,400.63 475.80,399.20 477.42,397.77 479.07,396.35 480.74,394.93 482.44,393.52 484.16,392.11 485.90,390.71 487.66,389.31 489.45,387.92 491.26,386.54 493.10,385.17 494.95,383.81 496.83,382.45 498.73,381.10 500.65,379.77 502.59,378.44 504.55,377.13 506.53,375.82 508.54,374.53 510.56,373.24 512.60,371.97 514.66,370.72 516.74,369.47 518.84,368.24 520.96,367.02 523.10,365.82 525.25,364.63 527.42,363.45 529.61,362.29 531.81,361.15 534.03,360.02 536.26,358.90 538.51,357.80 540.78,356.72 543.06,355.66 545.35,354.61 547.66,353.58 549.98,352.57 552.31,351.57 554.66,350.60 557.02,349.64 559.39,348.70 561.77,347.78 564.16,346.87 566.56,345.99 568.97,345.13 571.39,344.28 573.82,343.46 576.26,342.65 578.70,341.87 581.15,341.10 583.61,340.36 586.08,339.63 588.55,338.93 591.03,338.25 593.52,337.58 596.00,336.94 598.50,336.32 600.99,335.72 603.49,335.14 605.99,334.58 608.50,334.04 611.01,333.52 613.51,333.03 616.02,332.55 618.53,332.10 621.04,331.67 623.55,331.26 626.06,330.87 628.57,330.50 631.08,330.15 633.58,329.82 636.08,329.51 638.58,329.23 641.08,328.96 643.57,328.72 646.06,328.49 648.54,328.29 651.02,328.10 653.49,327.94 655.95,327.80 658.41,327.67 660.87,327.57 663.31,327.49 665.75,327.42 668.18,327.38 670.60,327.35 673.01,327.34 675.42,327.36 677.81,327.39 680.19,327.44 682.57,327.51 684.93,327.59 687.28,327.69 689.63,327.82 691.95,327.95 694.27,328.11 696.58,328.28 698.87,328.47 701.15,328.68 703.42,328.90 705.67,329.14 707.91,329.40 710.13,329.67 712.34,329.95 714.54,330.25 716.72,330.57 718.88,330.90 721.03,331.24 723.17,331.60 725.28,331.97 727.39,332.36 729.47,332.75 731.54,333.16 733.59,333.59 735.62,334.02 737.64,334.47 739.64,334.93 741.62,335.40 743.58,335.88 745.53,336.37 747.46,336.87 749.36,337.38 751.25,337.91 753.12,338.44 754.98,338.98 756.81,339.53 758.62,340.08 760.42,340.65 762.19,341.22 763.94,341.80 765.68,342.39 767.40,342.99 769.09,343.59 770.77,344.20 772.42,344.81 774.06,345.43 775.67,346.05 777.27,346.68 778.84,347.32 780.40,347.95 781.93,348.60 783.44,349.24 784.94,349.89 786.41,350.55 787.86,351.20 789.29,351.86 790.70,352.52 792.09,353.18 793.46,353.85 794.81,354.51 796.14,355.18 797.45,355.84 798.74,356.51 800.00,357.18 801.25,357.84 802.48,358.51 803.69,359.18 804.87,359.84 806.04,360.50 807.18,361.17 808.31,361.83 809.42,362.49 810.50,363.14 811.57,363.79 812.62,364.44 813.65,365.09 814.65,365.74 815.64,366.38 816.61,367.01 817.56,367.65 818.49,368.27 819.41,368.90 820.30,369.52 821.17,370.13 822.03,370.74 822.87,371.34 823.69,371.94 824.49,372.54 825.27,373.12 826.04,373.70 826.78,374.28 827.51,374.84 828.23,375.40 828.92,375.96 829.60,376.50 830.26,377.04 830.91,377.57 831.53,378.10 832.15,378.62 832.74,379.12 833.32,379.62 833.88,380.12 834.43,380.60 834.96,381.08 835.48,381.54 835.98,382.00 836.46,382.45 836.93,382.89 837.39,383.32 837.83,383.75 838.26,384.16 838.67,384.56 839.07,384.96 839.45,385.34 839.82,385.72 840.18,386.08 840.53,386.44 840.86,386.78 841.18,387.12 841.48,387.45 841.77,387.76 842.05,388.07 842.32,388.36 842.58,388.65 842.83,388.92 843.06,389.19 843.28,389.44 843.49,389.68 843.69,389.92 843.88,390.14 844.06,390.35 844.23,390.55 844.38,390.74 844.53,390.93 844.67,391.10 844.80,391.26 844.91,391.40 845.02,391.54 845.12,391.67 845.21,391.79 845.29,391.90 845.37,391.99 845.43,392.08 845.49,392.15 845.53,392.22 845.57,392.27 845.61,392.32 845.63,392.35 845.65,392.38 845.66,392.39 845.66,392.39 845.66,392.39 845.64,392.37 845.63,392.34 845.60,392.31 845.57,392.26 845.53,392.20 845.49,392.14 845.44,392.06 845.39,391.98 845.33,391.88 845.26,391.78 845.19,391.66 845.11,391.54 845.03,391.40 844.94,391.26 844.85,391.11 844.76,390.95 844.66,390.78 844.55,390.60 844.44,390.41 844.33,390.22 844.21,390.01 844.09,389.80 843.96,389.58 843.84,389.35 843.70,389.11 843.57,388.86 843.43,388.61 843.29,388.35 843.14,388.08 842.99,387.80 842.84,387.51 842.69,387.22 842.53,386.92 842.37,386.61 842.21,386.30 842.05,385.98 841.88,385.65 841.71,385.31 841.54,384.97 841.37,384.62 841.20,384.26 841.02,383.90 840.84,383.53 840.66,383.16 840.48,382.78 840.30,382.39 840.11,382.00 839.93,381.60 839.74,381.20 839.55,380.79 839.36,380.37 839.17,379.95 838.98,379.53 838.79,379.10 838.59,378.66 838.40,378.22 838.20,377.78 838.00,377.33 837.81,376.88 837.61,376.42 837.41,375.96 837.21,375.49 837.01,375.02 836.81,374.55 836.61,374.07 836.41,373.59 836.21,373.10 836.01,372.62 835.80,372.13 835.60,371.63 835.40,371.13 835.20,370.63 834.99,370.13 834.79,369.62 834.59,369.12 834.39,368.60 834.18,368.09 833.98,367.57 833.78,367.06 833.57,366.54 833.37,366.01 833.17,365.49 832.97,364.96 832.76,364.44 832.56,363.91 832.36,363.38 832.16,362.85 831.96,362.31 831.75,361.78 831.55,361.24 831.35,360.71 831.15,360.17 830.95,359.63 830.75,359.09 830.55,358.55 830.35,358.01 830.15,357.47 829.95,356.93 829.76,356.39 829.56,355.84 829.36,355.30 829.16,354.76 828.97,354.22 828.77,353.67 828.57,353.13 828.38,352.59 828.18,352.05 827.99,351.51 827.79,350.97 827.60,350.42 827.40,349.88 827.21,349.34 827.02,348.80 826.82,348.27 826.63,347.73 826.44,347.19 826.25,346.66 826.06,346.12 825.87,345.58 825.68,345.05 825.49,344.52 825.30,343.99 825.11,343.46 824.92,342.93 824.73,342.40 824.54,341.87 824.35,341.35 824.17,340.82 823.98,340.30 823.79,339.77 823.60,339.25 823.42,338.73 823.23,338.21 823.05,337.70 822.86,337.18 822.67,336.67 822.49,336.15 822.30,335.64 822.12,335.13 821.94,334.62 821.75,334.12 821.57,333.61 821.38,333.11 821.20,332.60 821.02,332.10 820.83,331.60 820.65,331.10 820.47,330.60 820.28,330.11 820.10,329.61 819.92,329.12 819.73,328.63 819.55,328.13 819.37,327.64 819.18,327.15 819.00,326.67 818.82,326.18 818.63,325.70 818.45,325.21 818.27,324.73 818.08,324.25 817.90,323.76 817.71,323.28 817.53,322.81 817.35,322.33 817.16,321.85 816.98,321.37 816.79,320.90 816.60,320.42 816.42,319.95 816.23,319.47 816.04,319.00 815.86,318.52 815.67,318.05 815.48,317.58 815.29,317.11 815.10,316.64 814.91,316.16 814.72,315.69 814.53,315.22 814.34,314.75 814.15,314.28 813.95,313.81 813.76,313.33 813.56,312.86 813.37,312.39 813.17,311.92 812.97,311.44 812.77,310.97 812.57,310.49 812.37,310.02 812.17,309.54 811.97,309.07 811.77,308.59 811.56,308.11 811.35,307.63 811.15,307.15 810.94,306.67 810.73,306.18 810.52,305.70 810.31,305.21 810.09,304.72 809.88,304.23 809.66,303.74 809.44,303.25 809.22,302.75 809.00,302.26 808.78,301.76 808.55,301.26 808.33,300.75 808.10,300.25 807.87,299.74 807.64,299.23 807.41,298.72 807.17,298.20 806.93,297.69 806.69,297.17 806.45,296.64 806.21,296.12 805.97,295.59 805.72,295.06 805.47,294.52 805.22,293.98 804.97,293.44 804.71,292.90 804.45,292.35 804.19,291.80 803.93,291.24 803.67,290.68 803.40,290.12 803.13,289.56 802.86,288.99 802.58,288.41 802.31,287.83 802.03,287.25 801.75,286.67 801.46,286.08 801.18,285.48 800.89,284.89 800.60,284.28 800.30,283.68 800.01,283.07 799.71,282.45 799.41,281.83 799.10,281.21 798.79,280.58 798.49,279.94 798.17,279.30 797.86,278.66 797.54,278.01 797.22,277.36 796.90,276.70 796.57,276.04 796.24,275.37 795.91,274.69 795.58,274.02 795.24,273.33 794.90,272.64 794.56,271.95 794.21,271.25 793.87,270.54 793.52,269.83 793.16,269.12 792.81,268.40 792.45,267.67 792.09,266.94 791.73,266.20 791.36,265.46 790.99,264.71 790.62,263.95 790.25,263.19 789.87,262.43 789.49,261.66 789.11,260.88 788.73,260.10 788.34,259.31 787.96,258.51 787.57,257.71 787.17,256.91 786.78,256.10 786.38,255.28 785.98,254.45 785.58,253.63 785.18,252.79 784.77,251.95 784.36,251.10 783.95,250.25 783.54,249.39 783.13,248.53 782.71,247.66 782.30,246.78 781.88,245.90 781.46,245.01 781.04,244.11 780.61,243.21 780.19,242.31 779.76,241.40 779.33,240.48 778.90,239.56 778.47,238.63 778.04,237.69 777.61,236.75 777.18,235.81 776.74,234.86 776.31,233.90 775.87,232.94 775.43,231.97 775.00,230.99 774.56,230.01 774.12,229.03 773.68,228.04 773.24,227.04 772.80,226.04 772.36,225.03 771.92,224.02 771.48,223.00 771.04,221.98 770.60,220.95 770.16,219.92 769.72,218.88 769.28,217.83 768.84,216.79 768.40,215.73 767.97,214.67 767.53,213.61 767.09,212.54 766.66,211.47 766.23,210.39 765.79,209.31 765.36,208.22 764.93,207.13 764.50,206.04 764.07,204.94 763.65,203.84 763.22,202.73 762.80,201.62 762.38,200.50 761.96,199.38 761.55,198.26 761.13,197.13 760.72,196.00 760.31,194.87 759.90,193.73 759.50,192.59 759.10,191.45 758.70,190.30 758.30,189.15 757.91,188.00 757.52,186.84 757.13,185.68 756.75,184.52 756.36,183.36 755.99,182.20 755.61,181.03 755.24,179.86 754.87,178.69 754.51,177.51 754.15,176.34 753.80,175.16 753.45,173.99 753.10,172.81 752.75,171.63 752.42,170.45 752.08,169.26 751.75,168.08 751.43,166.90 751.10,165.72 750.79,164.53 750.48,163.35 750.17,162.16 749.87,160.98 749.57,159.80 749.28,158.61 748.99,157.43 748.71,156.25 748.43,155.07 748.16,153.89 747.89,152.72 747.63,151.54 747.38,150.37 747.13,149.19 746.88,148.02 746.65,146.86 746.41,145.69 746.19,144.53 745.96,143.37 745.75,142.21 745.54,141.06 745.33,139.91 745.13,138.76 744.94,137.62 744.76,136.48 744.57,135.34 744.40,134.21 744.23,133.09 744.07,131.96 743.91,130.85 743.76,129.74 743.62,128.63 743.48,127.53 743.35,126.44 743.22,125.35 743.10,124.27 742.98,123.19 742.87,122.12 742.77,121.06 742.68,120.00 742.58,118.96 742.50,117.91 742.42,116.88 742.35,115.86 742.28,114.84 742.22,113.83 742.16,112.83 742.11,111.84 742.07,110.86 742.03,109.88 741.99,108.92 741.96,107.97 741.94,107.02 741.92,106.09 741.91,105.16 741.90,104.25 741.90,103.35 741.90,102.45 741.91,101.57 741.92,100.70 741.94,99.84 741.96,99.00 741.98,98.16 742.01,97.34 742.04,96.53 742.08,95.73 742.12,94.95 742.17,94.18 742.22,93.42 742.27,92.67 742.32,91.94 742.38,91.22 742.44,90.52 742.51,89.83 742.58,89.15 742.65,88.49 742.72,87.84 742.79,87.21 742.87,86.59 742.95,85.99 743.03,85.41 743.11,84.84 743.19,84.28 743.27,83.74 743.36,83.22 743.44,82.71 743.53,82.22 743.61,81.75 743.70,81.29 743.78,80.85 743.86,80.43 743.95,80.02 744.03,79.63 744.11,79.26 744.19,78.90 744.27,78.57 744.35,78.25 744.42,77.95 744.49,77.66 744.56,77.40 744.63,77.15 744.69,76.92 744.75,76.71 744.81,76.52 744.86,76.34 744.90,76.19 744.95,76.05 744.98,75.93 745.02,75.83 745.04,75.75 745.06,75.69 745.08,75.65 745.09,75.62 745.09,75.62 745.09,75.63 745.07,75.66 745.05,75.71 745.03,75.78 744.99,75.87 744.95,75.98 744.89,76.11 744.83,76.25 744.76,76.42 744.68,76.60 744.59,76.80 744.49,77.02 744.37,77.26 744.25,77.52 744.12,77.80 743.97,78.09 743.81,78.41 743.64,78.74 743.46,79.09 743.26,79.46 743.05,79.84 742.83,80.25 742.60,80.67 742.35,81.11 742.08,81.57 741.80,82.04 741.51,82.53 741.20,83.04 740.88,83.57 740.53,84.11 740.18,84.67 739.80,85.24 739.41,85.84 739.01,86.44 738.58,87.07 738.14,87.70 737.68,88.36 737.20,89.03 736.70,89.71 736.19,90.41 735.65,91.12 735.10,91.85 734.53,92.59 733.93,93.35 733.32,94.12 732.69,94.90 732.03,95.69 731.36,96.50 730.66,97.31 729.94,98.15 729.21,98.99 728.45,99.84 727.66,100.71 726.86,101.58 726.03,102.46 725.18,103.36 724.31,104.26 723.42,105.18 722.50,106.10 721.56,107.03 720.60,107.97 719.61,108.92 718.60,109.87 717.56,110.84 716.50,111.80 715.42,112.78 714.31,113.76 713.18,114.75 712.03,115.74 710.85,116.73 709.64,117.73 708.41,118.74 707.16,119.75 705.88,120.76 704.57,121.77 703.25,122.78 701.89,123.80 700.51,124.82 699.11,125.84 697.68,126.86 696.23,127.88 694.75,128.90 693.24,129.92 691.72,130.94 690.16,131.95 688.58,132.97 686.98,133.98 685.35,134.99 683.70,135.99 682.02,136.99 680.32,137.99 678.59,138.98 676.84,139.97 675.07,140.95 673.27,141.92 671.44,142.89 669.60,143.85 667.73,144.81 665.83,145.75 663.91,146.69 661.97,147.62 660.01,148.54 658.02,149.45 656.01,150.35 653.98,151.24 651.93,152.12 649.85,152.98 647.75,153.84 645.63,154.68 643.49,155.52 641.33,156.33 639.15,157.14 636.94,157.93 634.72,158.71 632.48,159.47 630.22,160.22 627.94,160.95 625.64,161.67 623.32,162.37 620.98,163.06 618.63,163.73 616.26,164.38 613.87,165.01 611.46,165.63 609.04,166.23 606.60,166.81 604.15,167.37 601.68,167.91 599.20,168.44 596.70,168.94 594.19,169.42 591.66,169.89 589.13,170.33 586.58,170.76 584.02,171.16 581.44,171.54 578.86,171.90 576.26,172.24 573.65,172.56 571.04,172.86 568.41,173.13 565.78,173.38 563.14,173.61 560.49,173.82 557.83,174.00 555.17,174.16 552.50,174.30 549.82,174.41 547.14,174.51 544.45,174.57 541.76,174.62 539.07,174.64 536.37,174.64 533.67,174.61 530.97,174.56 528.27,174.49 525.56,174.39 522.86,174.27 520.15,174.12 517.45,173.95 514.74,173.76 512.04,173.54 509.34,173.30 506.64,173.04 503.95,172.75 501.26,172.44 498.57,172.11 495.89,171.75 493.21,171.37 490.54,170.96 487.87,170.53 485.22,170.08 482.57,169.61 479.92,169.11 477.29,168.59 474.67,168.05 472.05,167.49 469.44,166.90 466.85,166.29 464.26,165.66 461.69,165.01 459.13,164.34 456.58,163.65 454.04,162.93 451.52,162.20 449.01,161.44 446.52,160.67 444.04,159.88 441.57,159.06 439.12,158.23 436.69,157.38 434.27,156.51 431.87,155.63 429.49,154.72 427.13,153.80 424.78,152.86 422.45,151.90 420.14,150.93 417.85,149.94 415.58,148.94 413.33,147.92 411.10,146.89 408.89,145.84 406.70,144.78 404.53,143.71 402.39,142.62 400.26,141.52 398.16,140.41 396.08,139.28 394.03,138.15 391.99,137.00 389.98,135.85 388.00,134.68 386.04,133.50 384.10,132.32 382.19,131.13 380.30,129.92 378.43,128.72 376.59,127.50 374.78,126.28 372.99,125.05 371.23,123.82 369.49,122.58 367.78,121.33 366.09,120.09 364.43,118.84 362.80,117.58 361.19,116.33 359.61,115.07 358.05,113.81 356.53,112.55 355.02,111.29 353.55,110.03 352.10,108.76 350.68,107.50 349.28,106.25 347.91,104.99 346.57,103.74 345.25,102.49 343.97,101.24 342.70,100.00 341.47,98.76 340.26,97.53 339.07,96.30 337.92,95.08 336.79,93.87 335.68,92.66 334.60,91.46 333.55,90.27 332.52,89.08 331.52,87.91 330.54,86.75 329.59,85.59 328.67,84.45 327.76,83.31 326.89,82.19 326.04,81.08 325.21,79.98 324.41,78.90 323.63,77.82 322.87,76.77 322.14,75.72 321.43,74.69 320.74,73.67 320.08,72.67 319.44,71.69 318.82,70.72 318.22,69.77 317.65,68.83 317.09,67.91 316.56,67.01 316.05,66.12 315.55,65.26 315.08,64.41 314.63,63.58 314.19,62.77 313.78,61.98 313.38,61.21 313.01,60.46 312.65,59.73 312.30,59.02 311.98,58.33 311.67,57.66 311.38,57.01 311.10,56.39 310.84,55.79 310.60,55.20 310.37,54.65 310.15,54.11 309.95,53.59 309.76,53.10 309.59,52.64 309.43,52.19 309.28,51.77 309.14,51.37 309.01,51.00 308.90,50.65 308.80,50.32 308.70,50.02 308.62,49.74 308.55,49.48 308.48,49.25 308.43,49.05 308.38,48.87 308.34,48.71 308.31,48.58 308.28,48.47 308.26,48.39 308.25,48.33 308.24,48.30 308.24,48.29 308.24,48.31 308.25,48.35 308.26,48.41 308.28,48.50 308.30,48.62 308.32,48.76 308.34,48.92 308.37,49.11 308.39,49.32 308.42,49.56 308.45,49.82 308.48,50.11 308.51,50.42 308.54,50.75 308.57,51.11 308.60,51.49 308.62,51.90 308.65,52.33 308.67,52.78 308.69,53.26 308.71,53.75 308.72,54.27 308.73,54.82 308.73,55.38 308.74,55.97 308.73,56.58 308.72,57.22 308.71,57.87 308.69,58.55 308.66,59.24 308.63,59.96 308.59,60.70 308.55,61.46 308.50,62.24 308.44,63.04 308.37,63.86 308.29,64.70 308.21,65.56 308.11,66.43 308.01,67.33 307.90,68.24 307.78,69.18 307.65,70.13 307.51,71.10 307.36,72.09 307.20,73.09 307.03,74.11 306.85,75.15 306.66,76.20 306.46,77.27 306.25,78.35 306.02,79.45 305.78,80.57 305.53,81.70 305.27,82.84 305.00,84.00 304.72,85.18 304.42,86.36 304.11,87.56 303.79,88.77 303.45,90.00 303.11,91.23 302.75,92.48 302.37,93.74 301.99,95.01 301.59,96.29 301.17,97.59 300.75,98.89 300.31,100.20 299.85,101.52 299.39,102.86 298.91,104.20 298.41,105.55 297.90,106.90 297.38,108.27 296.85,109.64 296.30,111.02 295.73,112.41 295.16,113.80 294.57,115.20 293.96,116.61 293.35,118.02 292.72,119.44 292.07,120.86 291.41,122.29 290.74,123.72 290.05,125.15 289.35,126.59 288.64,128.04 287.91,129.48 287.18,130.93 286.42,132.38 285.66,133.84 284.88,135.29 284.08,136.75 283.28,138.21 282.46,139.67 281.63,141.13 280.79,142.60 279.93,144.06 279.06,145.52 278.18,146.99 277.29,148.45 276.38,149.91 275.46,151.37 274.54,152.83 273.59,154.29 272.64,155.74 271.68,157.20 270.70,158.65 269.72,160.10 268.72,161.55 267.71,162.99 266.69,164.43 265.66,165.87 264.62,167.30 263.57,168.73 262.51,170.16 261.44,171.58 260.36,173.00 259.27,174.42 258.17,175.82 257.07,177.23 255.95,178.63 254.82,180.02 253.69,181.41 252.55,182.79 251.39,184.17 250.24,185.54 249.07,186.90 247.89,188.26 246.71,189.61 245.52,190.96 244.33,192.29 243.12,193.63 241.91,194.95 240.70,196.27 239.47,197.58 238.24,198.88 237.01,200.18 235.77,201.46 234.52,202.74 233.27,204.01 232.01,205.28 230.75,206.53 229.48,207.78 228.21,209.02 226.94,210.25 225.66,211.48 224.38,212.69 223.09,213.89 221.80,215.09 220.51,216.28 219.21,217.46 217.91,218.63 216.61,219.79 215.30,220.94 214.00,222.09 212.69,223.22 211.38,224.35 210.06,225.46 208.75,226.57 207.43,227.67 206.12,228.76 204.80,229.84 203.48,230.91 202.16,231.97 200.85,233.02 199.53,234.06 198.21,235.09 196.89,236.11 195.57,237.13 194.25,238.13 192.93,239.13 191.62,240.11 190.30,241.09 188.99,242.05 187.68,243.01 186.37,243.96 185.06,244.90 183.75,245.83 182.44,246.74 181.14,247.65 179.84,248.56 178.54,249.45 177.25,250.33 175.96,251.20 174.67,252.07 173.38,252.92 172.10,253.76 170.82,254.60 169.55,255.43 168.27,256.25 167.01,257.05 165.74,257.85 164.49,258.65 163.23,259.43 161.98,260.20 160.73,260.97 159.49,261.72 158.26,262.47 157.03,263.21 155.80,263.94 154.58,264.66 153.36,265.37 152.15,266.08 150.95,266.77 149.75,267.46 148.56,268.14 147.37,268.81 146.19,269.47 145.02,270.13 143.85,270.78 142.68,271.42 141.53,272.05 140.38,272.67 139.24,273.29 138.10,273.90 136.97,274.50 135.85,275.09 134.73,275.68 133.62,276.25 132.52,276.83 131.42,277.39 130.34,277.95 129.25,278.50 128.18,279.04 127.11,279.57 126.06,280.10 125.00,280.63 123.96,281.14 122.92,281.65 121.90,282.15 120.87,282.65 119.86,283.14 118.86,283.62 117.86,284.09 116.87,284.56 115.89,285.03 114.91,285.49 113.95,285.94 112.99,286.38 112.04,286.82 111.09,287.26 110.16,287.69 109.23,288.11 108.32,288.53 107.41,288.94 106.50,289.34 105.61,289.74 104.72,290.14 103.85,290.53 102.98,290.92 102.11,291.29 101.26,291.67 100.42,292.04 99.58,292.40 98.75,292.76 97.93,293.12 97.12,293.47 96.31,293.82 95.52,294.16 94.73,294.49 93.95,294.83 93.18,295.15 92.41,295.48 91.66,295.80 90.91,296.11 90.17,296.42 89.44,296.73 88.71,297.03 88.00,297.33 87.29,297.62 86.59,297.91 85.89,298.20 85.21,298.48 84.53,298.76 83.86,299.04 83.20,299.31 82.55,299.58 81.90,299.84 81.26,300.10 80.63,300.36 80.01,300.62 79.39,300.87 78.78,301.12 78.18,301.36 77.59,301.60 77.00,301.84 76.42,302.08 75.85,302.31 75.28,302.54 74.72,302.77 74.17,302.99 73.63,303.21 73.09,303.43 72.56,303.65 72.03,303.86 71.51,304.07 71.00,304.28 70.50,304.48 70.00,304.68 69.51,304.88 69.02,305.08 68.55,305.28 68.07,305.47 67.61,305.66 67.15,305.85 66.69,306.03 66.24,306.21 65.80,306.40 65.37,306.57 64.94,306.75 64.51,306.93 64.09,307.10 63.68,307.27 63.27,307.44 62.87,307.61 62.47,307.77 62.08,307.93 61.69,308.09 61.31,308.25 60.93,308.41 60.56,308.57 60.19,308.72 59.83,308.87 59.48,309.02 59.12,309.17 58.78,309.32 58.43,309.46 58.09,309.61 57.76,309.75 57.43,309.89 57.11,310.03 56.79,310.17 56.47,310.31 56.16,310.44 55.85,310.58 55.54,310.71 55.24,310.84 54.95,310.97 54.65,311.10 54.36,311.23 54.08,311.35 53.80,311.48 53.52,311.60 53.25,311.72 52.97,311.84 52.71,311.96 52.44,312.08 52.18,312.20 51.92,312.32 51.67,312.43 51.42,312.55 51.17,312.66 50.92,312.77 50.68,312.89 50.44,313.00 50.20,313.11 49.97,313.22 49.74,313.32 49.51,313.43 49.28,313.54 49.06,313.64 48.84,313.75 48.62,313.85 48.40,313.95 48.19,314.05 47.98,314.15 47.77,314.25 47.57,314.35 47.36,314.45 47.16,314.55 46.96,314.65 46.77,314.74 46.57,314.84 46.38,314.93 46.19,315.02 46.00,315.12 45.82,315.21 45.63,315.30 45.45,315.39 45.27,315.48 45.10,315.57 44.92,315.66 44.75,315.74 44.58,315.83 44.41,315.92 44.24,316.00 44.08,316.08 43.91,316.17 43.75,316.25 43.60,316.33 43.44,316.41 43.28,316.49 43.13,316.57 42.98,316.65 42.83,316.73 42.69,316.80 42.54,316.88 42.40,316.95 42.26,317.02 42.13,317.10 41.99,317.17 41.86,317.24 41.73,317.31 41.60,317.38 41.47,317.44 41.35,317.51 41.23,317.57 41.11,317.64 40.99,317.70 40.87,317.76 40.76,317.82 40.65,317.88 40.54,317.94 40.44,318.00 40.34,318.05 40.24,318.10 40.14,318.16 40.05,318.21 39.96,318.26 39.87,318.31 39.78,318.35 39.70,318.40 39.62,318.44 39.54,318.48 39.47,318.52 39.40,318.56 39.33,318.60 39.27,318.63 39.20,318.67 39.15,318.70 39.09,318.73 39.04,318.76 38.99,318.78 38.95,318.81 38.91,318.83 38.87,318.85 38.84,318.87 38.81,318.88 38.79,318.90 38.77,318.91 38.75,318.92 38.74,318.92 38.73,318.93 38.72,318.93 38.72,318.93 38.73,318.93 38.73,318.92 38.75,318.92 38.77,318.91 38.79,318.90 38.82,318.88 38.85,318.86 38.89,318.84 38.93,318.82 38.97,318.79 39.03,318.77 39.09,318.74 39.15,318.70 39.22,318.67 39.29,318.63 39.37,318.58 39.46,318.54 39.55,318.49 39.65,318.44 39.75,318.38 39.86,318.33 39.98,318.27 40.10,318.20 40.23,318.13 40.36,318.06 40.50,317.99 40.65,317.92 40.81,317.84 40.97,317.75 41.14,317.67 41.31,317.58 41.50,317.48 41.69,317.39 41.88,317.29 42.09,317.19 42.30,317.08 42.52,316.97 42.75,316.86 42.99,316.74 43.23,316.62 43.49,316.50 43.75,316.37 44.02,316.24 44.29,316.11 44.58,315.97 44.87,315.83 45.18,315.69 45.49,315.54 45.81,315.39 46.14,315.24 46.48,315.08 46.83,314.92 47.19,314.76 47.55,314.59 47.93,314.42 48.32,314.25 48.71,314.07 49.12,313.89 49.54,313.71 49.96,313.52 50.40,313.33 50.85,313.14 51.31,312.94 51.78,312.74 52.25,312.54 52.74,312.33 53.25,312.13 53.76,311.92 54.28,311.70 54.81,311.49 55.36,311.27 55.92,311.05 56.48,310.82 57.06,310.59 57.66,310.36 58.26,310.13 58.88,309.90 59.50,309.66 60.14,309.42 60.79,309.18 61.46,308.94 62.13,308.69 62.82,308.45 63.52,308.20 64.24,307.95 64.96,307.70 65.70,307.44 66.46,307.19 67.22,306.93 68.00,306.67 68.79,306.41 69.60,306.15 70.42,305.89 71.25,305.63 72.09,305.36 72.95,305.10 73.83,304.84 74.71,304.57 75.61,304.31 76.53,304.04 77.46,303.78 78.40,303.51 79.35,303.24 80.32,302.98 81.31,302.72 82.31,302.45 83.32,302.19 84.35,301.93 85.39,301.66 86.45,301.40 87.52,301.14 88.60,300.89 89.70,300.63 90.82,300.37 91.94,300.12 93.09,299.87 94.25,299.62 95.42,299.38 96.61,299.13 97.81,298.89 99.03,298.65 100.26,298.42 101.51,298.19 102.77,297.96 104.05,297.73 105.34,297.51 106.64,297.29 107.96,297.08 109.30,296.87 110.65,296.66 112.02,296.46 113.40,296.27 114.79,296.08 116.20,295.89 117.63,295.71 119.06,295.53 120.52,295.36 121.99,295.20 123.47,295.04 124.97,294.89 126.48,294.75 128.00,294.61 129.54,294.48 131.10,294.35 132.66,294.23 134.25,294.12 135.84,294.02 137.45,293.93 139.08,293.84 140.72,293.76 142.37,293.69 144.03,293.63 145.71,293.57 147.40,293.53 149.11,293.50 150.82,293.47 152.56,293.45 154.30,293.45 156.06,293.45 157.82,293.46 159.61,293.49 161.40,293.52 163.21,293.57 165.02,293.62 166.85,293.69 168.69,293.76 170.55,293.85 172.41,293.95 174.29,294.07 176.17,294.19 178.07,294.33 179.98,294.48 181.89,294.64 183.82,294.81 185.76,295.00 187.71,295.19 189.66,295.41 191.63,295.63 193.61,295.87 195.59,296.12 197.58,296.39 199.59,296.67 201.60,296.96 203.61,297.27 205.64,297.59 207.67,297.93 209.71,298.28 211.76,298.65 213.81,299.03 215.87,299.42 217.94,299.83 220.01,300.26 222.09,300.70 224.17,301.15 226.26,301.62 228.35,302.11 230.45,302.61 232.55,303.13 234.66,303.67 236.77,304.21 238.88,304.78 240.99,305.36 243.11,305.96 245.23,306.57 247.35,307.20 249.48,307.85 251.60,308.51 253.73,309.19 255.85,309.88 257.98,310.59 260.11,311.32 262.23,312.07 264.36,312.83 266.48,313.60 268.61,314.39 270.73,315.20 272.85,316.03 274.97,316.87 277.08,317.73 279.20,318.60 281.30,319.49 283.41,320.40 285.51,321.32 287.61,322.26 289.70,323.21 291.78,324.18 293.86,325.17 295.94,326.17 298.01,327.18 300.07,328.21 302.13,329.26 304.18,330.32 306.22,331.40 308.25,332.49 310.27,333.60 312.29,334.72 314.30,335.86 316.29,337.01 318.28,338.18 320.26,339.35 322.23,340.55 324.18,341.75 326.13,342.97 328.06,344.21 329.99,345.45 331.90,346.71 333.80,347.98 335.68,349.26 337.56,350.56 339.42,351.87 341.26,353.19 343.10,354.52 344.91,355.86 346.72,357.21 348.51,358.57 350.28,359.95 352.04,361.33 353.78,362.72 355.51,364.12 357.22,365.54 358.92,366.96 360.59,368.38 362.25,369.82 363.90,371.26 365.52,372.72 367.13,374.17 368.72,375.64 370.29,377.11 371.85,378.59 373.38,380.07 374.90,381.56 376.40,383.05 377.88,384.55 379.34,386.05 380.78,387.56 382.20,389.07 383.59,390.58 384.97,392.09 386.33,393.61 387.67,395.13 388.99,396.65 390.29,398.17 391.57,399.69 392.82,401.21 394.06,402.73 395.27,404.25 396.47,405.77 397.64,407.28 398.79,408.80 399.92,410.31 401.03,411.82 402.11,413.32 403.18,414.82 404.22,416.32 405.24,417.81 406.24,419.30 407.22,420.78 408.18,422.26 409.12,423.72 410.03,425.18 410.92,426.64 411.79,428.08 412.64,429.52 413.47,430.95 414.28,432.37 415.07,433.77 415.83,435.17 416.58,436.56 417.30,437.94 418.00,439.30 418.69,440.65 419.35,441.99 419.99,443.32 420.61,444.63 421.21,445.93 421.80,447.22 422.36,448.49 422.90,449.75 423.42,450.99 423.93,452.21 424.42,453.42 424.88,454.61 425.33,455.78 425.76,456.94 426.18,458.07 426.57,459.19 426.95,460.29 427.31,461.38 427.66,462.44 427.99,463.48 428.30,464.50 428.60,465.50 428.88,466.48 429.15,467.44 429.40,468.37 429.64,469.29 429.86,470.18 430.07,471.05 430.27,471.90 430.45,472.72 430.62,473.52 430.78,474.29 430.93,475.04 431.06,475.77 431.19,476.47 431.30,477.15 431.41,477.80 431.50,478.43 431.59,479.03 431.66,479.60 431.73,480.15 431.79,480.67 431.85,481.17 431.89,481.63 431.93,482.08 431.96,482.49 431.99,482.88 432.01,483.24 432.03,483.57 432.05,483.88 432.06,484.15 432.06,484.40 432.07,484.62 432.07,484.82 432.07,484.98 432.07,485.12 432.07,485.23 432.07,485.31 432.06,485.36 432.06,485.39 432.06,485.38 432.07,485.35 432.07,485.29 432.08,485.20 432.09,485.08 432.10,484.94 432.12,484.76 432.14,484.56 432.17,484.33 432.20,484.07 432.24,483.79 432.29,483.48 432.34,483.13 432.41,482.77 432.48,482.37 432.55,481.95 432.64,481.50 432.74,481.02 432.85,480.52 432.96,479.99 433.09,479.44 433.23,478.85 433.39,478.25 433.55,477.61 433.73,476.96 433.92,476.27 434.12,475.56 434.34,474.83 434.58,474.08 434.82,473.30 435.09,472.49 435.37,471.66 435.66,470.81 435.97,469.94 436.30,469.04 436.65,468.13 437.01,467.19 437.39,466.23 437.80,465.24 438.21,464.24 438.65,463.22 439.11,462.18 439.59,461.12 440.09,460.04 440.60,458.94 441.14,457.82 441.70,456.68 442.28,455.53 442.89,454.36 443.51,453.18 444.16,451.98 444.83,450.76 445.52,449.53 446.23,448.28 446.97,447.02 447.73,445.75 448.51,444.46 449.32,443.16 450.15,441.84 451.00,440.52 451.88,439.18 452.78,437.84 453.71,436.48 454.66,435.11 455.64,433.74 456.64,432.35 457.66,430.96 458.72,429.56 459.79,428.15 460.89,426.74 462.02,425.32 463.17,423.89 464.34,422.46 465.54,421.02 466.77,419.58 468.02,418.14 469.29,416.69 470.59,415.24 471.92,413.79 473.27,412.33 474.64,410.88 476.04,409.42 477.47,407.97 478.92,406.51 480.39,405.06 481.89,403.61 483.41,402.15 484.96,400.71 486.53,399.26 488.13,397.82 489.74,396.38 491.39,394.94 493.05,393.51 494.74,392.09 496.45,390.67 498.19,389.26 499.95,387.85 501.73,386.45 503.53,385.06 505.35,383.68 507.20,382.30 509.06,380.94 510.95,379.58 512.86,378.23 514.79,376.90 516.74,375.57 518.71,374.26 520.70,372.95 522.71,371.66 524.74,370.38 526.78,369.11 528.85,367.85 530.93,366.61 533.03,365.38 535.15,364.17 537.29,362.97 539.44,361.78 541.61,360.61 543.79,359.45 545.99,358.31 548.21,357.19 550.44,356.08 552.68,354.99 554.94,353.91 557.21,352.85 559.49,351.81 561.79,350.78 564.10,349.77 566.42,348.79 568.76,347.81 571.10,346.86 573.45,345.93 575.82,345.01 578.19,344.11 580.58,343.23 582.97,342.37 585.37,341.53 587.78,340.71 590.20,339.91 592.62,339.13 595.05,338.37 597.49,337.63 599.93,336.91 602.38,336.20 604.83,335.52 607.29,334.86 609.75,334.22 612.21,333.60 614.68,333.00 617.15,332.42 619.62,331.86 622.10,331.33 624.57,330.81 627.05,330.31 629.52,329.84 632.00,329.38 634.48,328.95 636.95,328.53 639.42,328.14 641.90,327.76 644.36,327.41 646.83,327.08 649.30,326.76 651.76,326.47 654.21,326.20 656.66,325.95 659.11,325.72 661.55,325.50 663.99,325.31" stroke="#ff0000" stroke-width="1.05"/>
<polyline points="429.75,174.40 427.05,174.56 424.35,174.69 421.64,174.80 418.95,174.89 416.25,174.95 413.55,174.99 410.86,175.00 408.17,174.99 405.48,174.96 402.80,174.90 400.13,174.83 397.45,174.72 394.79,174.60 392.13,174.45 389.48,174.28 386.83,174.08 384.19,173.87 381.56,173.63 378.94,173.37 376.33,173.09 373.73,172.78 371.14,172.46 368.56,172.11 365.99,171.74 363.43,171.35 360.89,170.94 358.36,170.51 355.84,170.06 353.33,169.59 350.84,169.10 348.36,168.59 345.89,168.06 343.44,167.51 341.01,166.94 338.59,166.36 336.19,165.76 333.81,165.14 331.44,164.50 329.09,163.84 326.76,163.17 324.44,162.49 322.15,161.78 319.87,161.06 317.61,160.33 315.37,159.58 313.15,158.82 310.95,158.04 308.77,157.25 306.62,156.45 304.48,155.63 302.36,154.80 300.27,153.96 298.19,153.11 296.14,152.25 294.11,151.37 292.10,150.49 290.12,149.59 288.16,148.69 286.22,147.77 284.30,146.85 282.41,145.92 280.54,144.98 278.69,144.03 276.87,143.08 275.07,142.12 273.30,141.15 271.55,140.18 269.82,139.20 268.12,138.22 266.45,137.24 264.79,136.25 263.16,135.25 261.56,134.26 259.98,133.26 258.43,132.25 256.90,131.25 255.40,130.25 253.92,129.24 252.46,128.23 251.03,127.23 249.63,126.22 248.25,125.22 246.89,124.21 245.56,123.21 244.26,122.21 242.98,121.21 241.72,120.22 240.49,119.23 239.28,118.24 238.10,117.26 236.94,116.28 235.81,115.31 234.70,114.34 233.61,113.37 232.55,112.42 231.51,111.47 230.50,110.52 229.51,109.59 228.54,108.66 227.60,107.74 226.67,106.83 225.78,105.92 224.90,105.03 224.05,104.14 223.22,103.27 222.41,102.40 221.62,101.55 220.86,100.70 220.11,99.87 219.39,99.05 218.69,98.24 218.01,97.44 217.35,96.65 216.71,95.88 216.10,95.12 215.50,94.37 214.92,93.64 214.36,92.91 213.82,92.21 213.30,91.51 212.80,90.84 212.31,90.17 211.85,89.52 211.40,88.89 210.97,88.27 210.56,87.67 210.16,87.08 209.78,86.51 209.42,85.95 209.07,85.41 208.74,84.89 208.43,84.38 208.13,83.89 207.84,83.42 207.57,82.96 207.32,82.52 207.08,82.10 206.85,81.70 206.63,81.31 206.43,80.94 206.25,80.59 206.07,80.26 205.91,79.94 205.76,79.64 205.62,79.36 205.49,79.10 205.37,78.86 205.27,78.64 205.17,78.43 205.09,78.24 205.01,78.07 204.94,77.92 204.89,77.79 204.84,77.68 204.80,77.58 204.77,77.51 204.75,77.45 204.73,77.41 204.72,77.39 204.72,77.39 204.73,77.40 204.74,77.44 204.76,77.49 204.78,77.56 204.81,77.65 204.85,77.76 204.89,77.89 204.94,78.04 204.99,78.20 205.04,78.38 205.10,78.58 205.16,78.80 205.23,79.03 205.30,79.29 205.37,79.56 205.45,79.85 205.52,80.15 205.60,80.48 205.69,80.82 205.77,81.17 205.85,81.55 205.94,81.94 206.03,82.35 206.12,82.77 206.20,83.22 206.29,83.67 206.38,84.15 206.47,84.64 206.56,85.15 206.65,85.67 206.74,86.21 206.82,86.76 206.91,87.33 206.99,87.91 207.07,88.51 207.16,89.12 207.23,89.75 207.31,90.39 207.39,91.05 207.46,91.72 207.53,92.41 207.60,93.10 207.66,93.82 207.73,94.54 207.78,95.28 207.84,96.03 207.89,96.80 207.94,97.57 207.99,98.36 208.03,99.16 208.06,99.98 208.10,100.80 208.13,101.64 208.15,102.49 208.17,103.35 208.19,104.22 208.20,105.10 208.21,105.99 208.21,106.89 208.21,107.80 208.20,108.73 208.19,109.66 208.17,110.60 208.15,111.55 208.13,112.51 208.09,113.48 208.06,114.45 208.01,115.44 207.96,116.43 207.91,117.43 207.85,118.44 207.79,119.46 207.72,120.49 207.64,121.52 207.56,122.56 207.47,123.60 207.38,124.65 207.29,125.71 207.18,126.78 207.07,127.85 206.96,128.92 206.84,130.01 206.71,131.09 206.58,132.19 206.44,133.28 206.30,134.38 206.15,135.49 206.00,136.60 205.84,137.72 205.67,138.84 205.50,139.96 205.32,141.09 205.14,142.22 204.96,143.35 204.76,144.49 204.56,145.63 204.36,146.77 204.15,147.91 203.94,149.06 203.72,150.21 203.49,151.36 203.26,152.51 203.03,153.67 202.79,154.82 202.55,155.98 202.30,157.14 202.04,158.30 201.78,159.46 201.52,160.62 201.25,161.78 200.98,162.94 200.70,164.10 200.42,165.26 200.13,166.42 199.84,167.59 199.54,168.75 199.24,169.91 198.94,171.07 198.63,172.22 198.32,173.38 198.01,174.54 197.69,175.69 197.37,176.85 197.04,178.00 196.71,179.15 196.38,180.30 196.04,181.44 195.70,182.59 195.36,183.73 195.01,184.87 194.66,186.01 194.31,187.15 193.95,188.28 193.60,189.41 193.24,190.54 192.87,191.66 192.51,192.78 192.14,193.90 191.77,195.01 191.40,196.13 191.02,197.23 190.65,198.34 190.27,199.44 189.89,200.54 189.51,201.63 189.12,202.72 188.74,203.80 188.35,204.89 187.96,205.96 187.57,207.04 187.18,208.11 186.79,209.17 186.40,210.23 186.00,211.29 185.61,212.34 185.21,213.38 184.82,214.43 184.42,215.46 184.02,216.50 183.62,217.52 183.23,218.55 182.83,219.56 182.43,220.58 182.03,221.59 181.63,222.59 181.23,223.59 180.83,224.58 180.44,225.56 180.04,226.55 179.64,227.52 179.24,228.49 178.84,229.46 178.45,230.42 178.05,231.38 177.66,232.32 177.26,233.27 176.87,234.21 176.48,235.14 176.08,236.07 175.69,236.99 175.30,237.90 174.92,238.82 174.53,239.72 174.14,240.62 173.76,241.51 173.38,242.40 172.99,243.28 172.61,244.16 172.23,245.03 171.86,245.89 171.48,246.75 171.11,247.61 170.74,248.45 170.37,249.30 170.00,250.13 169.63,250.96 169.27,251.79 168.90,252.61 168.54,253.42 168.18,254.23 167.83,255.03 167.47,255.83 167.12,256.62 166.77,257.40 166.42,258.18 166.08,258.96 165.73,259.72 165.39,260.49 165.05,261.24 164.71,262.00 164.38,262.74 164.05,263.48 163.72,264.22 163.39,264.95 163.07,265.67 162.74,266.39 162.42,267.11 162.10,267.82 161.79,268.52 161.48,269.22 161.17,269.91 160.86,270.60 160.55,271.28 160.25,271.96 159.95,272.63 159.65,273.30 159.35,273.96 159.06,274.62 158.77,275.27 158.48,275.92 158.20,276.57 157.91,277.21 157.63,277.84 157.35,278.47 157.08,279.10 156.80,279.72 156.53,280.34 156.26,280.95 156.00,281.56 155.73,282.16 155.47,282.76 155.21,283.36 154.95,283.95 154.70,284.54 154.44,285.12 154.19,285.70 153.94,286.28 153.70,286.85 153.45,287.42 153.21,287.99 152.97,288.55 152.73,289.11 152.50,289.66 152.26,290.22 152.03,290.77 151.80,291.31 151.57,291.86 151.34,292.40 151.12,292.93 150.90,293.47 150.68,294.00 150.46,294.53 150.24,295.06 150.02,295.58 149.81,296.10 149.60,296.62 149.39,297.14 149.18,297.65 148.97,298.17 148.77,298.68 148.56,299.19 148.36,299.69 148.16,300.20 147.96,300.70 147.76,301.21 147.56,301.71 147.36,302.21 147.17,302.70 146.97,303.20 146.78,303.70 146.59,304.19 146.40,304.68 146.21,305.17 146.02,305.67 145.83,306.16 145.65,306.65 145.46,307.14 145.28,307.62 145.10,308.11 144.91,308.60 144.73,309.09 144.55,309.57 144.37,310.06 144.19,310.55 144.01,311.03 143.83,311.52 143.66,312.01 143.48,312.49 143.30,312.98 143.13,313.47 142.95,313.95 142.78,314.44 142.60,314.93 142.43,315.42 142.26,315.91 142.08,316.40 141.91,316.89 141.74,317.38 141.57,317.87 141.40,318.36 141.23,318.86 141.05,319.35 140.88,319.85 140.71,320.34 140.54,320.84 140.37,321.34 140.20,321.84 140.03,322.34 139.86,322.84 139.70,323.35 139.53,323.85 139.36,324.36 139.19,324.87 139.02,325.38 138.85,325.89 138.68,326.40 138.51,326.91 138.34,327.43 138.17,327.94 138.00,328.46 137.83,328.98 137.66,329.50 137.49,330.03 137.32,330.55 137.15,331.08 136.98,331.60 136.81,332.13 136.64,332.66 136.47,333.20 136.30,333.73 136.13,334.27 135.96,334.80 135.78,335.34 135.61,335.88 135.44,336.43 135.27,336.97 135.09,337.51 134.92,338.06 134.74,338.61 134.57,339.16 134.40,339.71 134.22,340.26 134.05,340.82 133.87,341.37 133.69,341.93 133.52,342.48 133.34,343.04 133.16,343.60 132.99,344.17 132.81,344.73 132.63,345.29 132.45,345.86 132.27,346.42 132.09,346.99 131.91,347.56 131.73,348.12 131.55,348.69 131.37,349.26 131.18,349.83 131.00,350.41 130.82,350.98 130.63,351.55 130.45,352.12 130.26,352.70 130.08,353.27 129.89,353.84 129.71,354.42 129.52,354.99 129.33,355.56 129.15,356.14 128.96,356.71 128.77,357.28 128.58,357.86 128.39,358.43 128.20,359.00 128.01,359.57 127.82,360.14 127.63,360.71 127.44,361.28 127.24,361.85 127.05,362.42 126.86,362.98 126.67,363.55 126.47,364.11 126.28,364.67 126.08,365.23 125.89,365.79 125.69,366.35 125.50,366.90 125.30,367.46 125.11,368.01 124.91,368.56 124.72,369.10 124.52,369.65 124.32,370.19 124.13,370.73 123.93,371.26 123.73,371.80 123.54,372.33 123.34,372.86 123.14,373.38 122.95,373.90 122.75,374.42 122.55,374.93 122.36,375.45 122.16,375.95 121.97,376.46 121.77,376.95 121.57,377.45 121.38,377.94 121.19,378.43 120.99,378.91 120.80,379.39 120.61,379.86 120.41,380.33 120.22,380.79 120.03,381.25 119.84,381.70 119.65,382.15 119.46,382.59 119.28,383.03 119.09,383.46 118.91,383.88 118.72,384.30 118.54,384.71 118.36,385.12 118.18,385.52 118.00,385.92 117.82,386.30 117.65,386.68 117.48,387.06 117.30,387.43 117.13,387.79 116.97,388.14 116.80,388.49 116.64,388.82 116.48,389.16 116.32,389.48 116.16,389.80 116.01,390.10 115.86,390.40 115.71,390.70 115.56,390.98 115.42,391.26 115.28,391.53 115.15,391.78 115.01,392.04 114.89,392.28 114.76,392.51 114.64,392.74 114.52,392.95 114.41,393.16 114.30,393.36 114.19,393.54 114.09,393.72 113.99,393.89 113.90,394.05 113.81,394.20 113.73,394.34 113.65,394.48 113.58,394.60 113.51,394.71 113.45,394.81 113.39,394.90 113.34,394.98 113.30,395.05 113.26,395.12 113.23,395.17 113.20,395.21 113.18,395.24 113.17,395.26 113.16,395.27 113.16,395.26 113.17,395.25 113.19,395.23 113.21,395.20 113.24,395.15 113.28,395.10 113.33,395.03 113.38,394.95 113.44,394.87 113.52,394.77 113.60,394.66 113.69,394.54 113.78,394.41 113.89,394.27 114.01,394.11 114.14,393.95 114.27,393.77 114.42,393.59 114.58,393.39 114.75,393.18 114.93,392.97 115.11,392.74 115.31,392.50 115.53,392.25 115.75,391.98 115.98,391.71 116.23,391.43 116.49,391.13 116.76,390.83 117.04,390.52 117.33,390.19 117.64,389.86 117.96,389.51 118.30,389.15 118.64,388.79 119.00,388.41 119.38,388.02 119.77,387.63 120.17,387.22 120.58,386.80 121.02,386.38 121.46,385.94 121.92,385.50 122.40,385.04 122.89,384.58 123.39,384.11 123.91,383.63 124.45,383.14 125.00,382.64 125.57,382.13 126.16,381.61 126.76,381.09 127.38,380.56 128.01,380.02 128.66,379.47 129.33,378.91 130.02,378.35 130.72,377.78 131.44,377.20 132.18,376.62 132.94,376.03 133.72,375.43 134.51,374.82 135.32,374.21 136.15,373.60 137.00,372.98 137.87,372.35 138.75,371.72 139.66,371.08 140.58,370.44 141.52,369.79 142.49,369.14 143.47,368.49 144.47,367.83 145.49,367.16 146.54,366.50 147.60,365.83 148.68,365.16 149.78,364.48 150.90,363.81 152.04,363.13 153.20,362.45 154.39,361.77 155.59,361.08 156.81,360.40 158.06,359.71 159.32,359.03 160.61,358.34 161.91,357.66 163.24,356.97 164.59,356.29 165.95,355.61 167.34,354.93 168.75,354.25 170.18,353.57 171.63,352.89 173.10,352.22 174.60,351.55 176.11,350.89 177.64,350.22 179.20,349.56 180.77,348.91 182.37,348.26 183.99,347.62 185.62,346.98 187.28,346.34 188.96,345.71 190.65,345.09 192.37,344.47 194.11,343.86 195.87,343.26 197.65,342.67 199.44,342.08 201.26,341.50 203.10,340.93 204.95,340.37 206.83,339.82 208.72,339.28 210.64,338.74 212.57,338.22 214.52,337.71 216.49,337.20 218.47,336.71 220.48,336.23 222.50,335.76 224.54,335.31 226.60,334.86 228.68,334.43 230.77,334.01 232.88,333.61 235.00,333.21 237.15,332.83 239.30,332.47 241.48,332.12 243.67,331.78 245.87,331.46 248.09,331.16 250.32,330.86 252.57,330.59 254.83,330.33 257.11,330.09 259.40,329.86 261.70,329.65 264.02,329.46 266.35,329.28 268.69,329.12 271.04,328.98 273.40,328.86 275.78,328.75 278.16,328.67 280.56,328.60 282.96,328.55 285.38,328.52 287.80,328.51 290.24,328.51 292.68,328.54 295.13,328.59 297.59,328.65 300.05,328.74 302.53,328.84 305.00,328.97 307.49,329.11 309.98,329.28 312.47,329.47 314.97,329.68 317.48,329.90 319.99,330.15 322.50,330.42 325.01,330.71 327.53,331.03 330.05,331.36 332.57,331.71 335.10,332.09 337.62,332.48 340.14,332.90 342.67,333.34 345.19,333.80 347.71,334.28 350.23,334.79 352.75,335.31 355.27,335.85 357.78,336.42 360.29,337.01 362.80,337.62 365.30,338.25 367.80,338.90 370.29,339.57 372.77,340.26 375.25,340.97 377.73,341.70 380.19,342.46 382.65,343.23 385.10,344.02 387.54,344.84 389.98,345.67 392.40,346.52 394.82,347.40 397.22,348.29 399.61,349.20 401.99,350.13 404.37,351.07 406.72,352.04 409.07,353.03 411.40,354.03 413.72,355.05 416.03,356.09 418.32,357.14 420.60,358.21 422.86,359.30 425.11,360.41 427.34,361.53 429.55,362.66 431.75,363.82 433.93,364.98 436.10,366.16 438.24,367.36 440.37,368.57 442.48,369.79 444.57,371.03 446.64,372.28 448.70,373.54 450.73,374.82 452.74,376.10 454.73,377.40 456.71,378.71 458.66,380.03 460.59,381.36 462.50,382.70 464.38,384.05 466.25,385.40 468.09,386.77 469.91,388.14 471.70,389.52 473.48,390.91 475.23,392.31 476.95,393.71 478.66,395.11 480.34,396.53 481.99,397.94 483.62,399.36 485.23,400.79 486.81,402.21 488.37,403.64 489.90,405.07 491.41,406.51 492.89,407.94 494.35,409.38 495.78,410.81 497.19,412.25 498.57,413.68 499.93,415.12 501.26,416.55 502.57,417.98 503.85,419.40 505.10,420.83 506.33,422.25 507.54,423.66 508.71,425.07 509.87,426.47 510.99,427.87 512.10,429.26 513.17,430.65 514.22,432.02 515.25,433.39 516.25,434.75 517.23,436.10 518.18,437.44 519.11,438.77 520.01,440.09 520.88,441.40 521.74,442.70 522.57,443.99 523.37,445.26 524.15,446.52 524.91,447.77 525.65,449.00 526.36,450.22 527.05,451.42 527.71,452.61 528.35,453.78 528.98,454.94 529.57,456.08 530.15,457.20 530.71,458.30 531.24,459.39 531.76,460.46 532.25,461.51 532.73,462.54 533.18,463.55 533.61,464.54 534.03,465.51 534.43,466.46 534.80,467.38 535.16,468.29 535.51,469.18 535.83,470.04 536.14,470.88 536.43,471.70 536.70,472.49 536.96,473.26 537.21,474.01 537.44,474.73 537.65,475.43 537.85,476.10 538.04,476.75 538.21,477.37 538.37,477.97 538.52,478.55 538.66,479.09 538.79,479.61 538.90,480.11 539.00,480.58 539.10,481.02 539.18,481.43 539.26,481.82 539.33,482.18 539.39,482.52 539.44,482.82 539.48,483.10 539.52,483.35 539.55,483.58 539.58,483.77 539.60,483.94 539.61,484.08 539.62,484.20 539.63,484.28 539.64,484.34 539.64,484.36 539.64,484.36 539.64,484.34 539.63,484.28 539.63,484.20 539.63,484.09 539.62,483.95 539.62,483.78 539.62,483.58 539.62,483.36 539.62,483.11 539.63,482.83 539.64,482.52 539.65,482.19 539.66,481.83 539.68,481.44 539.71,481.03 539.74,480.59 539.78,480.12 539.82,479.62 539.87,479.10 539.93,478.55 539.99,477.98 540.07,477.38 540.15,476.76 540.24,476.11 540.34,475.43 540.45,474.73 540.57,474.01 540.70,473.26 540.85,472.49 541.00,471.69 541.17,470.88 541.34,470.03 541.54,469.17 541.74,468.28 541.96,467.37 542.19,466.44 542.43,465.48 542.69,464.51 542.96,463.51 543.25,462.50 543.55,461.46 543.87,460.40 544.21,459.33 544.56,458.23 544.93,457.12 545.31,455.99 545.71,454.83 546.13,453.67 546.57,452.48 547.02,451.28 547.49,450.06 547.98,448.83 548.49,447.58 549.02,446.31 549.56,445.03 550.13,443.74 550.71,442.43 551.31,441.11 551.93,439.77 552.57,438.43 553.24,437.07 553.92,435.69 554.62,434.31 555.34,432.92 556.08,431.51 556.84,430.10 557.62,428.68 558.42,427.24 559.25,425.80 560.09,424.35 560.95,422.89 561.84,421.43 562.74,419.96 563.67,418.48 564.61,416.99 565.58,415.50 566.57,414.01 567.57,412.51 568.60,411.00 569.65,409.49 570.72,407.98 571.81,406.47 572.92,404.95 574.05,403.43 575.20,401.91 576.38,400.38 577.57,398.86 578.78,397.33 580.01,395.81 581.26,394.29 582.53,392.76 583.82,391.24 585.13,389.72 586.46,388.20 587.81,386.68 589.18,385.17 590.57,383.66 591.97,382.15 593.39,380.65 594.84,379.15 596.30,377.65 597.77,376.16 599.27,374.68 600.78,373.20 602.31,371.73 603.86,370.26 605.42,368.80 607.00,367.35 608.60,365.90 610.21,364.46 611.84,363.03 613.49,361.61 615.15,360.19 616.82,358.79 618.51,357.39 620.22,356.01 621.94,354.63 623.67,353.26 625.42,351.90 627.18,350.56 628.95,349.22 630.74,347.90 632.53,346.58 634.35,345.28 636.17,343.99 638.00,342.71 639.85,341.44 641.71,340.19 643.57,338.95 645.45,337.72 647.34,336.50 649.24,335.30 651.14,334.10 653.06,332.93 654.99,331.76 656.92,330.61 658.86,329.48 660.81,328.35 662.77,327.25 664.74,326.15 666.71,325.07 668.69,324.01 670.67,322.95 672.66,321.92 674.66,320.90 676.66,319.89 678.66,318.90 680.67,317.92 682.69,316.96 684.71,316.01 686.73,315.08 688.75,314.16 690.78,313.26 692.81,312.37 694.85,311.50 696.88,310.65 698.92,309.81 700.96,308.98 702.99,308.17 705.03,307.38 707.07,306.60 709.11,305.84 711.15,305.09 713.19,304.36 715.23,303.64 717.27,302.94 719.30,302.25 721.34,301.58 723.37,300.92 725.40,300.28 727.43,299.66 729.45,299.04 731.47,298.45 733.49,297.87 735.50,297.30 737.51,296.75 739.52,296.21 741.52,295.69 743.51,295.18 745.50,294.69 747.49,294.21 749.47,293.74 751.44,293.29 753.41,292.86 755.37,292.43 757.32,292.02 759.27,291.63 761.21,291.25 763.14,290.88 765.07,290.52 766.99,290.18 768.89,289.85 770.80,289.53 772.69,289.23 774.57,288.94 776.45,288.66 778.31,288.39 780.17,288.14 782.02,287.90 783.86,287.67 785.69,287.45 787.50,287.24 789.31,287.05 791.11,286.86 792.90,286.69 794.67,286.53 796.44,286.38 798.19,286.24 799.94,286.11 801.67,285.99 803.39,285.88 805.10,285.78 806.80,285.68 808.49,285.60 810.16,285.53 811.82,285.47 813.47,285.42 815.11,285.37 816.74,285.34 818.35,285.31 819.95,285.29 821.54,285.28 823.11,285.28 824.67,285.29 826.22,285.30 827.76,285.32 829.28,285.35 830.79,285.38 832.29,285.43 833.77,285.48 835.24,285.53 836.70,285.59 838.14,285.66 839.57,285.74 840.99,285.82 842.39,285.90 843.78,286.00 845.16,286.09 846.52,286.20 847.87,286.30 849.20,286.42 850.52,286.54 851.83,286.66 853.12,286.78 854.40,286.92 855.67,287.05 856.92,287.19 858.16,287.33 859.38,287.48 860.59,287.63 861.79,287.78 862.97,287.94 864.14,288.10 865.29,288.26 866.43,288.43 867.56,288.60 868.67,288.77 869.77,288.94 870.86,289.12 871.93,289.30 872.99,289.47 874.04,289.66 875.07,289.84 876.09,290.02 877.09,290.21 878.08,290.40 879.06,290.59 880.03,290.78 880.98,290.97 881.92,291.16 882.84,291.35 883.75,291.54 884.65,291.74 885.54,291.93 886.41,292.12 887.27,292.32 888.12,292.51 888.95,292.71 889.77,292.90 890.58,293.09 891.38,293.29 892.16,293.48 892.94,293.67 893.70,293.87 894.44,294.06 895.18,294.25 895.90,294.44 896.61,294.63 897.31,294.82 898.00,295.00 898.68,295.19 899.34,295.37 899.99,295.56 900.63,295.74 901.26,295.92 901.88,296.10 902.49,296.28 903.08,296.45 903.67,296.63 904.24,296.80 904.81,296.97 905.36,297.14 905.90,297.31 906.43,297.47 906.95,297.64 907.46,297.80 907.96,297.96 908.45,298.12 908.93,298.27 909.40,298.42 909.86,298.58 910.31,298.72 910.75,298.87 911.18,299.02 911.60,299.16 912.02,299.30 912.42,299.44 912.81,299.57 913.20,299.70 913.57,299.84 913.94,299.96 914.29,300.09 914.64,300.21 914.98,300.33 915.31,300.45 915.64,300.57 915.95,300.68 916.26,300.79 916.56,300.90 916.85,301.01 917.13,301.11 917.41,301.21 917.67,301.31 917.93,301.41 918.18,301.50 918.43,301.60 918.66,301.69 918.89,301.77 919.12,301.86 919.33,301.94 919.54,302.02 919.74,302.09 919.94,302.17 920.12,302.24 920.31,302.31 920.48,302.38 920.65,302.44 920.81,302.51 920.97,302.57 921.12,302.63 921.26,302.68 921.40,302.74 921.53,302.79 921.66,302.84 921.78,302.89 921.89,302.93 922.00,302.97 922.10,303.02 922.20,303.05 922.30,303.09 922.38,303.13 922.47,303.16 922.54,303.19 922.62,303.22 922.68,303.24 922.75,303.27 922.80,303.29 922.86,303.31 922.91,303.33 922.95,303.35 922.99,303.37 923.03,303.38 923.06,303.39 923.08,303.40 923.11,303.41 923.12,303.42 923.14,303.43 923.15,303.43 923.16,303.43 923.16,303.43 923.16,303.43 923.15,303.43 923.14,303.43 923.13,303.42 923.12,303.42 923.10,303.41 923.07,303.40 923.05,303.39 923.02,303.38 922.99,303.37 922.95,303.35 922.91,303.34 922.87,303.32 922.82,303.30 922.77,303.28 922.72,303.26 922.67,303.24 922.61,303.22 922.55,303.20 922.49,303.17 922.42,303.15 922.35,303.12 922.28,303.09 922.21,303.07 922.13,303.04 922.05,303.01 921.97,302.98 921.88,302.94 921.79,302.91 921.70,302.88 921.61,302.84 921.52,302.81 921.42,302.77 921.32,302.73 921.21,302.70 921.11,302.66 921.00,302.62 920.89,302.58 920.78,302.54 920.66,302.49 920.54,302.45 920.42,302.41 920.30,302.37 920.18,302.32 920.05,302.28 919.92,302.23 919.79,302.18 919.65,302.14 919.51,302.09 919.37,302.04 919.23,301.99 919.09,301.94 918.94,301.89 918.79,301.84 918.64,301.79 918.48,301.73 918.32,301.68 918.16,301.62 918.00,301.57 917.83,301.51 917.66,301.46 917.49,301.40 917.32,301.34 917.14,301.29 916.96,301.23 916.78,301.17 916.60,301.11 916.41,301.05 916.22,300.99 916.02,300.92 915.82,300.86 915.62,300.80 915.42,300.73 915.21,300.67 915.00,300.60 914.79,300.53 914.57,300.47 914.35,300.40 914.13,300.33 913.90,300.26 913.67,300.19 913.44,300.12 913.20,300.05 912.96,299.97 912.71,299.90 912.46,299.82 912.21,299.75 911.95,299.67 911.69,299.60 911.43,299.52 911.16,299.44 910.88,299.36 910.61,299.28 910.32,299.19 910.04,299.11 909.75,299.03 909.45,298.94 909.15,298.86 908.85,298.77 908.54,298.68 908.22,298.59 907.90,298.50 907.58,298.41 907.25,298.32 906.92,298.22 906.58,298.13 906.23,298.03 905.88,297.93 905.53,297.84 905.17,297.74 904.80,297.63 904.43,297.53 904.05,297.43 903.67,297.32 903.28,297.22 902.89,297.11 902.48,297.00 902.08,296.89 901.66,296.77 901.25,296.66 900.82,296.54 900.39,296.43 899.95,296.31 899.51,296.19 899.06,296.07 898.60,295.94 898.13,295.82 897.66,295.69 897.19,295.56 896.70,295.43 896.21,295.30 895.71,295.16 895.21,295.03 894.69,294.89 894.17,294.75 893.65,294.60 893.11,294.46 892.57,294.31 892.02,294.16 891.46,294.01 890.90,293.86 890.33,293.70 889.75,293.55 889.16,293.39 888.56,293.22 887.96,293.06 887.35,292.89 886.73,292.72 886.10,292.55 885.47,292.37 884.83,292.19 884.17,292.01 883.51,291.83 882.85,291.64 882.17,291.45 881.48,291.26 880.79,291.06 880.09,290.87 879.38,290.66 878.66,290.46 877.93,290.25 877.20,290.04 876.45,289.83 875.70,289.61 874.94,289.39 874.17,289.16 873.39,288.93 872.60,288.70 871.80,288.46 871.00,288.22 870.18,287.98 869.36,287.73 868.53,287.48 867.69,287.23 866.84,286.97 865.98,286.70 865.11,286.43 864.23,286.16 863.34,285.89 862.45,285.60 861.54,285.32 860.63,285.03 859.71,284.73 858.78,284.43 857.84,284.13 856.89,283.82 855.93,283.50 854.96,283.18 853.98,282.86 853.00,282.53 852.00,282.19 851.00,281.85 849.99,281.50 848.97,281.15 847.94,280.79 846.90,280.43 845.85,280.06 844.79,279.69 843.73,279.31 842.65,278.92 841.57,278.53 840.48,278.13 839.38,277.72 838.27,277.31 837.15,276.89 836.03,276.46 834.89,276.03 833.75,275.59 832.60,275.15 831.44,274.69 830.27,274.24 829.10,273.77 827.92,273.30 826.72,272.81 825.52,272.33 824.32,271.83 823.10,271.33 821.88,270.82 820.65,270.30 819.41,269.77 818.16,269.24 816.91,268.70 815.65,268.15 814.38,267.59 813.11,267.02 811.83,266.45 810.54,265.86 809.24,265.27 807.94,264.67 806.63,264.06 805.32,263.45 804.00,262.82 802.67,262.19 801.34,261.54 800.00,260.89 798.65,260.23 797.30,259.56 795.94,258.88 794.58,258.19 793.21,257.50 791.84,256.79 790.46,256.07 789.08,255.35 787.69,254.61 786.30,253.86 784.90,253.11 783.50,252.35 782.10,251.57 780.69,250.79 779.27,249.99 777.86,249.19 776.44,248.38 775.01,247.55 773.58,246.72 772.15,245.88 770.72,245.02 769.29,244.16 767.85,243.28 766.41,242.40 764.96,241.51 763.52,240.60 762.07,239.69 760.62,238.76 759.17,237.83 757.72,236.88 756.27,235.93 754.82,234.96 753.37,233.98 751.91,233.00 750.46,232.00 749.00,230.99 747.55,229.97 746.10,228.95 744.64,227.91 743.19,226.86 741.74,225.80 740.29,224.73 738.84,223.65 737.39,222.56 735.95,221.46 734.51,220.36 733.07,219.24 731.63,218.11 730.19,216.97 728.76,215.82 727.33,214.66 725.90,213.49 724.48,212.31 723.06,211.12 721.65,209.93 720.24,208.72 718.83,207.50 717.43,206.28 716.03,205.04 714.64,203.80 713.25,202.55 711.87,201.28 710.50,200.01 709.13,198.74 707.77,197.45 706.41,196.15 705.06,194.85 703.72,193.53 702.39,192.21 701.06,190.88 699.74,189.55 698.42,188.20 697.12,186.85 695.82,185.49 694.54,184.13 693.26,182.75 691.99,181.37 690.72,179.99 689.47,178.60 688.23,177.20 687.00,175.79 685.77,174.38 684.56,172.96 683.36,171.54 682.16,170.11 680.98,168.68 679.81,167.24 678.65,165.80 677.50,164.35 676.36,162.90 675.24,161.45 674.12,159.99 673.02,158.52 671.93,157.06 670.85,155.59 669.78,154.12 668.73,152.65 667.69,151.17 666.66,149.69 665.64,148.21 664.64,146.73 663.65,145.25 662.68,143.76 661.72,142.28 660.77,140.79 659.83,139.31 658.91,137.83 658.00,136.34 657.11,134.86 656.23,133.38 655.37,131.90 654.52,130.42 653.68,128.94 652.86,127.47 652.05,126.00 651.26,124.53 650.48,123.06 649.72,121.60 648.97,120.14 648.24,118.69 647.52,117.24 646.82,115.80 646.13,114.36 645.46,112.93 644.80,111.50 644.15,110.08 643.53,108.66 642.91,107.26 642.31,105.86 641.73,104.47 641.16,103.08 640.61,101.71 640.07,100.34 639.54,98.98 639.03,97.63 638.54,96.29 638.06,94.96 637.59,93.65 637.14,92.34 636.71,91.04 636.28,89.76 635.87,88.48 635.48,87.22 635.10,85.97 634.73,84.74 634.38,83.52 634.04,82.31 633.72,81.11 633.40,79.93 633.11,78.76 632.82,77.61 632.55,76.48 632.29,75.35 632.04,74.25 631.80,73.16 631.58,72.09 631.37,71.03 631.17,69.99 630.98,68.97 630.80,67.97 630.63,66.98 630.48,66.02 630.33,65.07 630.20,64.14 630.07,63.23 629.95,62.34 629.85,61.47 629.75,60.61 629.66,59.78 629.58,58.97 629.51,58.18 629.45,57.41 629.39,56.67 629.34,55.94 629.30,55.24 629.27,54.56 629.24,53.90 629.22,53.26 629.20,52.64 629.19,52.05 629.18,51.48 629.18,50.94 629.18,50.42 629.19,49.92 629.20,49.44 629.21,48.99 629.23,48.57 629.25,48.16 629.27,47.79 629.29,47.43 629.31,47.10 629.33,46.80 629.36,46.52 629.38,46.27 629.40,46.04 629.43,45.83 629.45,45.65 629.47,45.50 629.49,45.37 629.50,45.27 629.51,45.19 629.52,45.14 629.52,45.11 629.52,45.11 629.52,45.14 629.51,45.19 629.50,45.26 629.47,45.36 629.45,45.49 629.41,45.64 629.37,45.81 629.32,46.02 629.26,46.24 629.20,46.50 629.12,46.77 629.03,47.07 628.94,47.40 628.83,47.75 628.72,48.13 628.59,48.53 628.45,48.95 628.30,49.40 628.13,49.87 627.96,50.37 627.77,50.89 627.56,51.43 627.34,52.00 627.11,52.59 626.86,53.20 626.60,53.83 626.32,54.49 626.02,55.17 625.71,55.87 625.38,56.59 625.04,57.33 624.67,58.10 624.29,58.88 623.89,59.68 623.47,60.51 623.03,61.35 622.57,62.22 622.09,63.10 621.60,64.00 621.08,64.92 620.54,65.86 619.98,66.81 619.39,67.79 618.79,68.77 618.16,69.78 617.51,70.80 616.84,71.84 616.15,72.89 615.43,73.96 614.69,75.04 613.93,76.14 613.14,77.25 612.33,78.37 611.49,79.50 610.63,80.65 609.74,81.81 608.83,82.98 607.90,84.16 606.93,85.35 605.95,86.55 604.94,87.76 603.90,88.98 602.83,90.21 601.74,91.45 600.63,92.69 599.49,93.94 598.32,95.20 597.12,96.46 595.90,97.73 594.65,99.00 593.38,100.28 592.08,101.56 590.75,102.85 589.40,104.13 588.02,105.42 586.61,106.72 585.18,108.01 583.72,109.30 582.23,110.60 580.71,111.89 579.17,113.19 577.61,114.48 576.01,115.77 574.40,117.06 572.75,118.34 571.08,119.62 569.38,120.90 567.66,122.18 565.91,123.45 564.14,124.71 562.34,125.97 560.51,127.22 558.66,128.46 556.79,129.70 554.89,130.93 552.97,132.15 551.02,133.37 549.05,134.57 547.06,135.76 545.04,136.95 543.00,138.12 540.93,139.28 538.85,140.43 536.74,141.57 534.61,142.70 532.45,143.81 530.28,144.91 528.09,146.00 525.87,147.07 523.64,148.13 521.38,149.17 519.11,150.20 516.81,151.21 514.50,152.21 512.17,153.19 509.82,154.15 507.45,155.09 505.07,156.02 502.67,156.93 500.25,157.82 497.81,158.70 495.36,159.55 492.90,160.39 490.42,161.20 487.93,162.00 485.42,162.78 482.90,163.53 480.37,164.27 477.82,164.98 475.27,165.68 472.70,166.35 470.12,167.00 467.53,167.63 464.93,168.24 462.32,168.82 459.70,169.39 457.08,169.93 454.44,170.45 451.80,170.95 449.16,171.42 446.50,171.87 443.84,172.30 441.18,172.70 438.51,173.08 435.83,173.44 433.15,173.78 430.47,174.09 427.79,174.37 425.10,174.64 422.41,174.88 419.72,175.10 417.04,175.29 414.35,175.46 411.66,175.61 408.97,175.73 406.28,175.83 403.60,175.90 400.92,175.95 398.24,175.98 395.56,175.99 392.89,175.97 390.23,175.93 387.56,175.87 384.91,175.78 382.26,175.67 379.62,175.54 376.98,175.38 374.35,175.21 371.73,175.01 369.12,174.78 366.52,174.54 363.93,174.28 361.35,173.99 358.77,173.68 356.21,173.35 353.66,173.00 351.12,172.63 348.60,172.24 346.09,171.83 343.59,171.40 341.10,170.95 338.63,170.48 336.17,169.99 333.73,169.49 331.30,168.96 328.89,168.42 326.49,167.86 324.11,167.28 321.74,166.68 319.40,166.07 317.07,165.44 314.76,164.79 312.46,164.13 310.19,163.45 307.93,162.76 305.70,162.05 303.48,161.33 301.28,160.60 299.10,159.85 296.94,159.08 294.81,158.31 292.69,157.52 290.59,156.72 288.52,155.91 286.47,155.08 284.44,154.25 282.43,153.40 280.44,152.55 278.47,151.68 276.53,150.81 274.61,149.92 272.71,149.03 270.84,148.13 268.99,147.23 267.16,146.31 265.36,145.39 263.58,144.46 261.82,143.53 260.09,142.59 258.38,141.64 256.70,140.69 255.04,139.74 253.40,138.78 251.79,137.82 250.20,136.86 248.64,135.89 247.10,134.93 245.58,133.96 244.09,132.98 242.63,132.01 241.19,131.04 239.77,130.07 238.38,129.09 237.01,128.12 235.67,127.15 234.35,126.18 233.06,125.22 231.79,124.25 230.54,123.29 229.32,122.33 228.12,121.38 226.95,120.43 225.80,119.48 224.67,118.54 223.57,117.61 222.49,116.68 221.44,115.75 220.41,114.83 219.40,113.92 218.42,113.02 217.45,112.12 216.51,111.23 215.60,110.35 214.70,109.47 213.83,108.61 212.98,107.75 212.16,106.91 211.35,106.07 210.57,105.24 209.80,104.43 209.06,103.62 208.34,102.83 207.64,102.04 206.96,101.27 206.31,100.51 205.67,99.76 205.05,99.03 204.45,98.30 203.87,97.59 203.31,96.89 202.77,96.21 202.25,95.54 201.74,94.88 201.26,94.24 200.79,93.61 200.34,93.00 199.90,92.40 199.49,91.81 199.09,91.24 198.71,90.69 198.34,90.15 197.99,89.62 197.66,89.12 197.34,88.62 197.03,88.15 196.74,87.69 196.47,87.24 196.21,86.82 195.96,86.41 195.73,86.01 195.51,85.63 195.31,85.27 195.11,84.93 194.93,84.60 194.77,84.30 194.61,84.00 194.47,83.73 194.33,83.47 194.21,83.23 194.10,83.01 194.00,82.81 193.91,82.62 193.83,82.45 193.76,82.30 193.70,82.17 193.64,82.05 193.60,81.95 193.57,81.87 193.54,81.81 193.52,81.76 193.51,81.74 193.50,81.73 193.51,81.73 193.52,81.76 193.53,81.80 193.56,81.86 193.59,81.94 193.62,82.04 193.66,82.15 193.71,82.28 193.76,82.43 193.81,82.60 193.87,82.78 193.93,82.98 194.00,83.20 194.07,83.43 194.15,83.68 194.22,83.95 194.30,84.24 194.39,84.54 194.47,84.85 194.56,85.19 194.65,85.54 194.74,85.90 194.84,86.29 194.93,86.69 195.03,87.10 195.12,87.53 195.22,87.97 195.32,88.43 195.42,88.91 195.52,89.40 195.62,89.91 195.71,90.43 195.81,90.96 195.91,91.51 196.01,92.07 196.10,92.65 196.20,93.24 196.29,93.85 196.38,94.47 196.47,95.10 196.56,95.75 196.64,96.41 196.73,97.08 196.81,97.76 196.89,98.46 196.97,99.17 197.04,99.89 197.12,100.62 197.19,101.37 197.25,102.13 197.31,102.90 197.38,103.68 197.43,104.47 197.49,105.27 197.54,106.08 197.58,106.90 197.62,107.74 197.66,108.58 197.70,109.43 197.73,110.30 197.76,111.17 197.78,112.05 197.80,112.94 197.81,113.84 197.82,114.75 197.83,115.67 197.83,116.59 197.83,117.53 197.82,118.47 197.81,119.42 197.79,120.38 197.77,121.34 197.75,122.31 197.72,123.29 197.68,124.27 197.64,125.27 197.60,126.26 197.55,127.27 197.50,128.28 197.44,129.29 197.37,130.31 197.31,131.34 197.23,132.37 197.16,133.41 197.07,134.45 196.99,135.50 196.89,136.55 196.80,137.60 196.69,138.66 196.59,139.73 196.48,140.79 196.36,141.86 196.24,142.94 196.11,144.01 195.98,145.09 195.85,146.17 195.71,147.26 195.57,148.35 195.42,149.44 195.27,150.53 195.11,151.62 194.95,152.72 194.78,153.82 194.61,154.92 194.44,156.02 194.26,157.12 194.07,158.22 193.89,159.33 193.70,160.43 193.50,161.53 193.30,162.64 193.10,163.75 192.89,164.85 192.68,165.96 192.47,167.06 192.25,168.17 192.03,169.27 191.81,170.38 191.58,171.48 191.35,172.58 191.11,173.68 190.87,174.78 190.63,175.88 190.39,176.98 190.14,178.08 189.89,179.17 189.64,180.26 189.38,181.35 189.13,182.44 188.86,183.53 188.60,184.62 188.33,185.70 188.07,186.78 187.80,187.86 187.52,188.93 187.25,190.00 186.97,191.07 186.69,192.14 186.41,193.20 186.13,194.26 185.84,195.32 185.55,196.38 185.27,197.43 184.98,198.47 184.69,199.52 184.39,200.56 184.10,201.60 183.80,202.63 183.51,203.66 183.21,204.68 182.91,205.70 182.61,206.72 182.31,207.73 182.01,208.74 181.71,209.75 181.41,210.75 181.10,211.74 180.80,212.73 180.50,213.72 180.19,214.70 179.89,215.68 179.58,216.65 179.28,217.62 178.97,218.58 178.67,219.54 178.36,220.50 178.06,221.45 177.75,222.39 177.45,223.33 177.15,224.26 176.84,225.19 176.54,226.12 176.24,227.04 175.93,227.95 175.63,228.86 175.33,229.76 175.03,230.66 174.73,231.55 174.43,232.44 174.14,233.33 173.84,234.20 173.54,235.08 173.25,235.94 172.96,236.80 172.66,237.66 172.37,238.51 172.08,239.36 171.79,240.20 171.51,241.03 171.22,241.86 170.94,242.69 170.65,243.50 170.37,244.32 170.09,245.13 169.81,245.93 169.53,246.73 169.26,247.52 168.98,248.31 168.71,249.09 168.44,249.86 168.17,250.64 167.90,251.40 167.64,252.16 167.37,252.92 167.11,253.67 166.85,254.41 166.59,255.15 166.33,255.89 166.08,256.62 165.83,257.34 165.57,258.06 165.33,258.78 165.08,259.49 164.83,260.19 164.59,260.89 164.35,261.59 164.11,262.28 163.87,262.96 163.63,263.64 163.40,264.32 163.17,264.99 162.94,265.66 162.71,266.32 162.48,266.98 162.26,267.63 162.03,268.28 161.81,268.93 161.59,269.57 161.38,270.20 161.16,270.84 160.95,271.46 160.74,272.09 160.53,272.71 160.32,273.33 160.12,273.94 159.91,274.55 159.71,275.15 159.51,275.75 159.31,276.35 159.11,276.94 158.92,277.54 158.72,278.12 158.53,278.71 158.34,279.29 158.15,279.86 157.97,280.44 157.78,281.01 157.60,281.58 157.42,282.15 157.24,282.71 157.06,283.27 156.88,283.83 156.70,284.38 156.53,284.93 156.36,285.48 156.19,286.03 156.02,286.58 155.85,287.12 155.68,287.66 155.51,288.20 155.35,288.74 155.18,289.27 155.02,289.81 154.86,290.34 154.70,290.87 154.54,291.40 154.38,291.93 154.23,292.45 154.07,292.98 153.92,293.50 153.76,294.03 153.61,294.55 153.46,295.07 153.31,295.59 153.16,296.11 153.01,296.63 152.86,297.15 152.72,297.67 152.57,298.18 152.42,298.70 152.28,299.22 152.14,299.73 151.99,300.25 151.85,300.77 151.71,301.28 151.57,301.80 151.43,302.32 151.29,302.83 151.15,303.35 151.01,303.87 150.87,304.39 150.73,304.91 150.60,305.43 150.46,305.95 150.32,306.47 150.19,306.99 150.05,307.51 149.92,308.04 149.78,308.56 149.65,309.09 149.51,309.62 149.38,310.15 149.25,310.67 149.11,311.21 148.98,311.74 148.85,312.27 148.71,312.81 148.58,313.34 148.45,313.88 148.32,314.42 148.19,314.96 148.05,315.51 147.92,316.05 147.79,316.60 147.66,317.15 147.53,317.70 147.40,318.25 147.26,318.80 147.13,319.36 147.00,319.92 146.87,320.48 146.74,321.04 146.61,321.60 146.47,322.17 146.34,322.74 146.21,323.31 146.08,323.88 145.95,324.46 145.81,325.03 145.68,325.61 145.55,326.19 145.41,326.77 145.28,327.36 145.15,327.95 145.01,328.54 144.88,329.13 144.75,329.72 144.61,330.32 144.48,330.91 144.34,331.51 144.21,332.12 144.07,332.72 143.93,333.33 143.80,333.93 143.66,334.54 143.52,335.16 143.38,335.77 143.25,336.38 143.11,337.00 142.97,337.62 142.83,338.24 142.69,338.87 142.55,339.49 142.40,340.12 142.26,340.74 142.12,341.37 141.98,342.00 141.83,342.64 141.69,343.27 141.55,343.91 141.40,344.54 141.25,345.18 141.11,345.82 140.96,346.46 140.81,347.10 140.66,347.74 140.51,348.39 140.36,349.03 140.21,349.68 140.06,350.32 139.91,350.97 139.76,351.61 139.60,352.26 139.45,352.91 139.30,353.56 139.14,354.21 138.98,354.85 138.83,355.50 138.67,356.15 138.51,356.80 138.35,357.45 138.19,358.10 138.03,358.74 137.87,359.39 137.71,360.04 137.54,360.68 137.38,361.33 137.21,361.97 137.05,362.62 136.88,363.26 136.72,363.90 136.55,364.54 136.38,365.18 136.21,365.82 136.04,366.45 135.87,367.09 135.70,367.72 135.53,368.35 135.35,368.98 135.18,369.60 135.01,370.23 134.83,370.85 134.66,371.47 134.48,372.08 134.31,372.70 134.13,373.31 133.95,373.92 133.77,374.52 133.60,375.12 133.42,375.72 133.24,376.31 133.06,376.90 132.88,377.49 132.70,378.07 132.52,378.65 132.34,379.23 132.15,379.80 131.97,380.37 131.79,380.93 131.61,381.49 131.43,382.04 131.25,382.59 131.07,383.13 130.88,383.67 130.70,384.20 130.52,384.73 130.34,385.25 130.16,385.76 129.98,386.27 129.80,386.78 129.62,387.27 129.44,387.77 129.26,388.25 129.09,388.73 128.91,389.20 128.73,389.67 128.56,390.13 128.39,390.58 128.21,391.02 128.04,391.46 127.87,391.89 127.70,392.31 127.53,392.73 127.37,393.14 127.20,393.53 127.04,393.93 126.88,394.31 126.72,394.68 126.56,395.05 126.41,395.41 126.25,395.76 126.10,396.10 125.96,396.43 125.81,396.75 125.67,397.07 125.53,397.37 125.39,397.67 125.25,397.95 125.12,398.23 125.00,398.50 124.87,398.76 124.75,399.00 124.63,399.24 124.52,399.47 124.41,399.69 124.30,399.89 124.20,400.09 124.10,400.28 124.01,400.45 123.92,400.62 123.84,400.77 123.76,400.92 123.69,401.05 123.62,401.17 123.56,401.28 123.50,401.38 123.45,401.47 123.41,401.55 123.37,401.62 123.34,401.67 123.31,401.72 123.29,401.75 123.28,401.77 123.27,401.78 123.27,401.78 123.28,401.77 123.30,401.74 123.32,401.70 123.35,401.66 123.39,401.60 123.44,401.52 123.49,401.44 123.56,401.34 123.63,401.24 123.72,401.12 123.81,400.99 123.91,400.84 124.02,400.69 124.14,400.52 124.27,400.34 124.41,400.15 124.56,399.95 124.72,399.74 124.90,399.51 125.08,399.27 125.27,399.02 125.48,398.76 125.70,398.49 125.93,398.21 126.17,397.91 126.42,397.60 126.69,397.28 126.97,396.95 127.26,396.61 127.56,396.26 127.88,395.90 128.21,395.52 128.56,395.14 128.91,394.74 129.29,394.33 129.67,393.91 130.08,393.48 130.49,393.04 130.92,392.59 131.37,392.13 131.83,391.66 132.31,391.18 132.80,390.69 133.31,390.19 133.83,389.68 134.37,389.16 134.93,388.64 135.50,388.10 136.09,387.55 136.70,387.00 137.32,386.43 137.96,385.86 138.62,385.28 139.30,384.69 139.99,384.09 140.71,383.49 141.44,382.87 142.19,382.25 142.95,381.63 143.74,380.99 144.54,380.35 145.37,379.71 146.21,379.05 147.07,378.39 147.95,377.73 148.86,377.06 149.78,376.38 150.72,375.70 151.68,375.01 152.66,374.32 153.66,373.63 154.68,372.93 155.72,372.22 156.78,371.52 157.86,370.81 158.96,370.09 160.09,369.38 161.23,368.66 162.40,367.94 163.58,367.22 164.79,366.49 166.02,365.77 167.26,365.04 168.53,364.32 169.83,363.59 171.14,362.86 172.47,362.14 173.83,361.41 175.20,360.68 176.60,359.96 178.02,359.24 179.46,358.52 180.92,357.80 182.41,357.08 183.91,356.37 185.44,355.66 186.98,354.95 188.55,354.25 190.14,353.55 191.75,352.86 193.38,352.17 195.04,351.48 196.71,350.81 198.40,350.13 200.12,349.47 201.86,348.81 203.61,348.15 205.39,347.51 207.19,346.87 209.00,346.24 210.84,345.62 212.70,345.00 214.58,344.40 216.48,343.80 218.39,343.22 220.33,342.64 222.28,342.07 224.26,341.52 226.25,340.97 228.26,340.44 230.30,339.92 232.34,339.41 234.41,338.91 236.50,338.43 238.60,337.95 240.72,337.49 242.86,337.05 245.01,336.61 247.18,336.20 249.37,335.79 251.57,335.40 253.79,335.03 256.02,334.67 258.27,334.33 260.53,334.00 262.81,333.69 265.11,333.39 267.41,333.11 269.73,332.85 272.07,332.60 274.42,332.37 276.78,332.16 279.15,331.97 281.53,331.80 283.93,331.64 286.33,331.50 288.75,331.38 291.18,331.28 293.62,331.20 296.07,331.14 298.52,331.10 300.99,331.08 303.46,331.07 305.95,331.09 308.44,331.13 310.94,331.19 313.44,331.26 315.95,331.36 318.47,331.48 320.99,331.62 323.52,331.78 326.05,331.97 328.59,332.17 331.13,332.39 333.67,332.64 336.22,332.91 338.77,333.20 341.32,333.51 343.87,333.84 346.42,334.19 348.98,334.57 351.53,334.97 354.08,335.38 356.64,335.82 359.19,336.29 361.74,336.77 364.29,337.28 366.83,337.80 369.37,338.35 371.91,338.92 374.44,339.51 376.97,340.12 379.49,340.76 382.01,341.41 384.52,342.09 387.03,342.78 389.53,343.50 392.02,344.24 394.50,345.00 396.98,345.78 399.44,346.58 401.90,347.40 404.34,348.24 406.78,349.10 409.21,349.97 411.62,350.87 414.02,351.79 416.41,352.72 418.79,353.68 421.16,354.65 423.51,355.64 425.84,356.65 428.17,357.68 430.48,358.72 432.77,359.78 435.05,360.86 437.31,361.95 439.56,363.06 441.79,364.19 444.00,365.33 446.19,366.48 448.37,367.65 450.53,368.84 452.67,370.04 454.79,371.25 456.89,372.48 458.98,373.72 461.04,374.97 463.08,376.23 465.10,377.51 467.10,378.79 469.08,380.09 471.04,381.40 472.98,382.72 474.89,384.05 476.78,385.38 478.65,386.73 480.50,388.08 482.32,389.44 484.12,390.81 485.90,392.19 487.66,393.57 489.38,394.96 491.09,396.35 492.77,397.75 494.43,399.15 496.06,400.56 497.67,401.97 499.25,403.38 500.81,404.80 502.34,406.22 503.85,407.64 505.33,409.06 506.78,410.48 508.21,411.90 509.62,413.32 511.00,414.73 512.35,416.15 513.68,417.57 514.98,418.98 516.26,420.39 517.51,421.79 518.73,423.19 519.93,424.59 521.11,425.98 522.25,427.36 523.38,428.74 524.47,430.11 525.54,431.48 526.59,432.84 527.61,434.18 528.60,435.52 529.57,436.85 530.52,438.17 531.44,439.48 532.33,440.78 533.20,442.07 534.05,443.34 534.87,444.61 535.67,445.86 536.44,447.10 537.19,448.32 537.92,449.53 538.62,450.72 539.31,451.90 539.96,453.06 540.60,454.21 541.21,455.34 541.80,456.46 542.37,457.55 542.92,458.63 543.45,459.69 543.96,460.73 544.44,461.75 544.91,462.76 545.36,463.74 545.78,464.70 546.19,465.65 546.58,466.57 546.95,467.47 547.31,468.35 547.64,469.20 547.96,470.04 548.26,470.85 548.55,471.64 548.82,472.40 549.07,473.15 549.31,473.86 549.53,474.56 549.74,475.23 549.93,475.87 550.12,476.49 550.28,477.09 550.44,477.66 550.58,478.20 550.72,478.72 550.84,479.21 550.95,479.68 551.05,480.12 551.14,480.53 551.22,480.92 551.29,481.27 551.35,481.61 551.41,481.91 551.46,482.19 551.50,482.44 551.53,482.66 551.56,482.86 551.58,483.03 551.60,483.17 551.61,483.28 551.62,483.37 551.63,483.42 551.63,483.45 551.63,483.45 551.63,483.43 551.63,483.37 551.62,483.29 551.62,483.18 551.61,483.04 551.61,482.88 551.60,482.69 551.60,482.46 551.60,482.22 551.60,481.94 551.60,481.64 551.61,481.31 551.62,480.95 551.64,480.57 551.65,480.16 551.68,479.72 551.71,479.26 551.74,478.77 551.79,478.25 551.84,477.71 551.89,477.14 551.96,476.55 552.03,475.93 552.11,475.29 552.20,474.62 552.30,473.93 552.40,473.21 552.52,472.47 552.65,471.70 552.79,470.91 552.94,470.10 553.11,469.26 553.28,468.41 553.47,467.52 553.67,466.62 553.88,465.70 554.11,464.75 554.35,463.78 554.60,462.80 554.87,461.79 555.15,460.76 555.45,459.71 555.76,458.64 556.09,457.55 556.44,456.45 556.80,455.32 557.17,454.18 557.57,453.02 557.98,451.85 558.41,450.65 558.85,449.44 559.31,448.21 559.79,446.97 560.29,445.72 560.81,444.44 561.34,443.16 561.89,441.86 562.46,440.54 563.05,439.22 563.66,437.88 564.29,436.52 564.94,435.16 565.60,433.78 566.29,432.40 566.99,431.00 567.72,429.59 568.46,428.17 569.22,426.75 570.01,425.31 570.81,423.87 571.63,422.41 572.48,420.95 573.34,419.49 574.22,418.01 575.13,416.53 576.05,415.05 576.99,413.55 577.95,412.06 578.94,410.56 579.94,409.05 580.96,407.54 582.01,406.03 583.07,404.51 584.15,402.99 585.25,401.47 586.37,399.95 587.51,398.43" stroke="#ff0000" stroke-width="1.05"/>
<polyline points="495.68,108.65 494.22,110.08 492.75,111.52 491.25,112.95 489.72,114.38 488.17,115.81 486.59,117.24 484.99,118.66 483.37,120.08 481.72,121.50 480.05,122.91 478.35,124.32 476.63,125.72 474.88,127.11 473.12,128.50 471.33,129.89 469.51,131.26 467.68,132.63 465.82,133.99 463.94,135.34 462.03,136.68 460.11,138.01 458.16,139.33 456.20,140.64 454.21,141.94 452.20,143.23 450.17,144.50 448.12,145.77 446.05,147.02 443.97,148.26 441.86,149.49 439.74,150.70 437.59,151.90 435.43,153.09 433.26,154.26 431.06,155.41 428.85,156.55 426.62,157.67 424.38,158.78 422.12,159.87 419.84,160.95 417.55,162.01 415.25,163.05 412.93,164.07 410.60,165.08 408.26,166.07 405.90,167.04 403.53,167.99 401.15,168.93 398.76,169.84 396.36,170.74 393.94,171.61 391.52,172.47 389.09,173.31 386.65,174.12 384.20,174.92 381.74,175.70 379.27,176.46 376.80,177.19 374.32,177.91 371.83,178.61 369.34,179.28 366.84,179.94 364.34,180.57 361.83,181.18 359.32,181.77 356.81,182.34 354.29,182.89 351.77,183.42 349.25,183.93 346.72,184.41 344.20,184.88 341.67,185.32 339.14,185.74 336.62,186.14 334.09,186.52 331.57,186.88 329.05,187.22 326.53,187.53 324.01,187.83 321.49,188.10 318.98,188.35 316.47,188.59 313.97,188.80 311.47,188.99 308.97,189.16 306.49,189.31 304.00,189.44 301.53,189.55 299.06,189.64 296.59,189.70 294.14,189.75 291.69,189.78 289.25,189.79 286.82,189.78 284.40,189.76 281.99,189.71 279.59,189.64 277.20,189.56 274.82,189.45 272.45,189.33 270.09,189.20 267.75,189.04 265.42,188.86 263.09,188.67 260.78,188.47 258.49,188.24 256.21,188.00 253.94,187.74 251.68,187.47 249.44,187.18 247.22,186.87 245.01,186.55 242.81,186.22 240.63,185.87 238.47,185.50 236.32,185.13 234.19,184.73 232.07,184.33 229.97,183.91 227.89,183.48 225.83,183.03 223.78,182.58 221.75,182.11 219.74,181.63 217.74,181.14 215.77,180.63 213.81,180.12 211.87,179.60 209.95,179.06 208.05,178.52 206.17,177.96 204.31,177.40 202.46,176.83 200.64,176.25 198.83,175.66 197.05,175.07 195.28,174.46 193.54,173.85 191.82,173.24 190.11,172.61 188.43,171.98 186.76,171.34 185.12,170.70 183.50,170.06 181.89,169.40 180.31,168.75 178.75,168.09 177.21,167.42 175.69,166.75 174.19,166.08 172.71,165.41 171.26,164.73 169.82,164.05 168.40,163.37 167.01,162.68 165.64,162.00 164.28,161.31 162.95,160.62 161.64,159.93 160.35,159.25 159.08,158.56 157.83,157.87 156.60,157.18 155.39,156.49 154.20,155.81 153.03,155.13 151.89,154.44 150.76,153.76 149.65,153.08 148.57,152.41 147.50,151.74 146.45,151.07 145.43,150.40 144.42,149.74 143.43,149.08 142.46,148.42 141.51,147.77 140.59,147.13 139.68,146.49 138.78,145.85 137.91,145.22 137.06,144.59 136.23,143.97 135.41,143.36 134.61,142.75 133.83,142.15 133.07,141.56 132.33,140.97 131.60,140.39 130.90,139.81 130.21,139.25 129.53,138.69 128.88,138.13 128.24,137.59 127.62,137.05 127.01,136.52 126.42,136.00 125.85,135.49 125.29,134.99 124.75,134.50 124.23,134.01 123.72,133.53 123.23,133.07 122.75,132.61 122.29,132.16 121.84,131.72 121.40,131.29 120.99,130.87 120.58,130.46 120.19,130.06 119.81,129.67 119.45,129.29 119.10,128.92 118.77,128.56 118.44,128.21 118.13,127.87 117.84,127.55 117.55,127.23 117.28,126.92 117.02,126.62 116.77,126.34 116.53,126.06 116.31,125.80 116.10,125.54 115.90,125.30 115.70,125.07 115.52,124.85 115.36,124.64 115.20,124.44 115.05,124.25 114.91,124.07 114.78,123.91 114.66,123.75 114.55,123.61 114.45,123.48 114.36,123.35 114.28,123.24 114.21,123.14 114.14,123.05 114.09,122.97 114.04,122.91 114.00,122.85 113.97,122.80 113.94,122.77 113.93,122.75 113.92,122.73 113.92,122.73 113.92,122.74 113.93,122.76 113.95,122.79 113.98,122.82 114.01,122.87 114.05,122.94 114.09,123.01 114.14,123.09 114.20,123.18 114.26,123.28 114.33,123.39 114.40,123.51 114.48,123.64 114.56,123.78 114.65,123.93 114.74,124.09 114.83,124.26 114.94,124.44 115.04,124.63 115.15,124.83 115.26,125.04 115.38,125.25 115.50,125.48 115.63,125.71 115.76,125.96 115.89,126.21 116.03,126.47 116.16,126.74 116.31,127.02 116.45,127.30 116.60,127.60 116.75,127.90 116.90,128.21 117.06,128.53 117.22,128.85 117.38,129.18 117.54,129.52 117.70,129.87 117.87,130.23 118.04,130.59 118.21,130.96 118.38,131.34 118.56,131.72 118.73,132.11 118.91,132.51 119.09,132.91 119.27,133.32 119.45,133.74 119.64,134.16 119.82,134.59 120.01,135.02 120.19,135.46 120.38,135.90 120.57,136.36 120.76,136.81 120.95,137.27 121.14,137.74 121.33,138.21 121.52,138.69 121.71,139.17 121.91,139.65 122.10,140.14 122.29,140.64 122.49,141.14 122.68,141.64 122.88,142.15 123.07,142.66 123.27,143.17 123.46,143.69 123.66,144.21 123.85,144.74 124.05,145.27 124.25,145.80 124.44,146.34 124.64,146.87 124.83,147.42 125.03,147.96 125.22,148.51 125.42,149.05 125.61,149.61 125.81,150.16 126.00,150.72 126.20,151.27 126.39,151.83 126.58,152.40 126.78,152.96 126.97,153.53 127.16,154.09 127.35,154.66 127.55,155.23 127.74,155.80 127.93,156.37 128.12,156.95 128.31,157.52 128.50,158.10 128.69,158.67 128.88,159.25 129.06,159.83 129.25,160.41 129.44,160.98 129.63,161.56 129.81,162.14 130.00,162.72 130.18,163.30 130.37,163.88 130.55,164.46 130.74,165.04 130.92,165.62 131.10,166.19 131.29,166.77 131.47,167.35 131.65,167.93 131.83,168.51 132.01,169.08 132.19,169.66 132.37,170.23 132.55,170.81 132.73,171.38 132.90,171.95 133.08,172.52 133.26,173.09 133.43,173.66 133.61,174.23 133.79,174.80 133.96,175.36 134.14,175.93 134.31,176.49 134.48,177.06 134.66,177.62 134.83,178.18 135.00,178.73 135.18,179.29 135.35,179.85 135.52,180.40 135.69,180.95 135.86,181.50 136.03,182.05 136.20,182.60 136.37,183.14 136.54,183.69 136.71,184.23 136.88,184.77 137.05,185.31 137.22,185.85 137.39,186.38 137.56,186.92 137.72,187.45 137.89,187.98 138.06,188.51 138.23,189.04 138.39,189.57 138.56,190.09 138.73,190.61 138.89,191.14 139.06,191.66 139.23,192.17 139.39,192.69 139.56,193.21 139.73,193.72 139.89,194.23 140.06,194.74 140.23,195.25 140.39,195.76 140.56,196.27 140.73,196.77 140.90,197.28 141.06,197.78 141.23,198.28 141.40,198.78 141.57,199.28 141.73,199.78 141.90,200.28 142.07,200.77 142.24,201.27 142.41,201.76 142.58,202.26 142.75,202.75 142.92,203.24 143.09,203.74 143.26,204.23 143.43,204.72 143.60,205.21 143.77,205.70 143.95,206.19 144.12,206.68 144.30,207.17 144.47,207.66 144.65,208.14 144.82,208.63 145.00,209.12 145.18,209.61 145.35,210.10 145.53,210.59 145.71,211.08 145.89,211.57 146.08,212.06 146.26,212.55 146.44,213.05 146.63,213.54 146.81,214.03 147.00,214.53 147.19,215.02 147.38,215.52 147.57,216.02 147.76,216.52 147.95,217.02 148.14,217.52 148.34,218.02 148.53,218.52 148.73,219.03 148.93,219.54 149.13,220.05 149.33,220.56 149.53,221.07 149.74,221.59 149.95,222.11 150.15,222.63 150.36,223.15 150.57,223.67 150.79,224.20 151.00,224.73 151.22,225.26 151.43,225.79 151.65,226.33 151.88,226.87 152.10,227.41 152.32,227.96 152.55,228.51 152.78,229.06 153.01,229.61 153.24,230.17 153.48,230.73 153.72,231.30 153.95,231.86 154.20,232.44 154.44,233.01 154.68,233.59 154.93,234.17 155.18,234.76 155.43,235.35 155.69,235.95 155.94,236.54 156.20,237.15 156.46,237.75 156.73,238.36 156.99,238.98 157.26,239.60 157.53,240.22 157.80,240.85 158.08,241.48 158.35,242.12 158.63,242.76 158.92,243.41 159.20,244.06 159.49,244.71 159.78,245.37 160.07,246.04 160.36,246.71 160.66,247.39 160.96,248.07 161.26,248.75 161.56,249.44 161.87,250.14 162.18,250.84 162.49,251.54 162.80,252.25 163.12,252.97 163.43,253.69 163.75,254.42 164.08,255.15 164.40,255.89 164.73,256.63 165.06,257.38 165.39,258.13 165.73,258.89 166.06,259.66 166.40,260.43 166.74,261.20 167.08,261.99 167.43,262.77 167.78,263.57 168.13,264.36 168.48,265.17 168.83,265.98 169.19,266.79 169.54,267.61 169.90,268.44 170.26,269.27 170.63,270.11 170.99,270.96 171.36,271.80 171.73,272.66 172.10,273.52 172.47,274.39 172.84,275.26 173.21,276.14 173.59,277.02 173.97,277.91 174.35,278.81 174.72,279.71 175.11,280.61 175.49,281.52 175.87,282.44 176.26,283.36 176.64,284.29 177.03,285.23 177.41,286.17 177.80,287.11 178.19,288.06 178.58,289.02 178.97,289.98 179.36,290.95 179.75,291.92 180.14,292.90 180.53,293.88 180.92,294.87 181.31,295.86 181.71,296.86 182.10,297.86 182.49,298.87 182.88,299.88 183.27,300.90 183.66,301.92 184.05,302.95 184.44,303.99 184.83,305.02 185.22,306.07 185.61,307.11 185.99,308.16 186.38,309.22 186.77,310.28 187.15,311.34 187.53,312.41 187.91,313.49 188.29,314.56 188.67,315.64 189.05,316.73 189.42,317.82 189.80,318.91 190.17,320.01 190.54,321.11 190.91,322.21 191.27,323.32 191.64,324.43 192.00,325.54 192.36,326.66 192.72,327.78 193.07,328.90 193.42,330.03 193.77,331.15 194.12,332.28 194.46,333.42 194.80,334.55 195.14,335.69 195.47,336.83 195.80,337.97 196.13,339.12 196.46,340.26 196.78,341.41 197.09,342.56 197.41,343.71 197.72,344.86 198.02,346.02 198.33,347.17 198.62,348.33 198.92,349.48 199.21,350.64 199.50,351.80 199.78,352.95 200.05,354.11 200.33,355.27 200.60,356.43 200.86,357.58 201.12,358.74 201.38,359.90 201.63,361.05 201.87,362.21 202.11,363.36 202.35,364.51 202.58,365.66 202.80,366.81 203.02,367.96 203.24,369.10 203.45,370.25 203.66,371.39 203.86,372.53 204.05,373.66 204.24,374.79 204.42,375.93 204.60,377.05 204.78,378.18 204.94,379.30 205.11,380.41 205.26,381.52 205.41,382.63 205.56,383.74 205.70,384.84 205.83,385.93 205.96,387.02 206.09,388.10 206.20,389.18 206.32,390.26 206.42,391.33 206.52,392.39 206.62,393.44 206.71,394.49 206.79,395.54 206.87,396.57 206.95,397.60 207.01,398.63 207.08,399.64 207.13,400.65 207.19,401.65 207.23,402.64 207.27,403.63 207.31,404.60 207.34,405.57 207.36,406.53 207.38,407.48 207.40,408.42 207.41,409.35 207.42,410.27 207.42,411.18 207.41,412.08 207.40,412.97 207.39,413.85 207.37,414.72 207.35,415.58 207.33,416.43 207.30,417.26 207.26,418.09 207.22,418.90 207.18,419.70 207.13,420.49 207.08,421.27 207.03,422.03 206.97,422.78 206.92,423.52 206.85,424.25 206.79,424.96 206.72,425.66 206.65,426.35 206.57,427.02 206.50,427.68 206.42,428.32 206.34,428.95 206.26,429.56 206.17,430.16 206.09,430.75 206.00,431.32 205.92,431.88 205.83,432.41 205.74,432.94 205.65,433.45 205.56,433.94 205.47,434.42 205.38,434.88 205.29,435.32 205.20,435.75 205.11,436.16 205.03,436.55 204.94,436.93 204.86,437.29 204.78,437.64 204.70,437.96 204.62,438.27 204.54,438.56 204.47,438.84 204.40,439.09 204.33,439.33 204.27,439.55 204.21,439.76 204.15,439.94 204.10,440.11 204.05,440.26 204.01,440.39 203.97,440.50 203.94,440.60 203.91,440.67 203.89,440.73 203.88,440.77 203.87,440.79 203.87,440.79 203.88,440.78 203.89,440.74 203.91,440.69 203.94,440.62 203.98,440.53 204.02,440.42 204.08,440.29 204.14,440.15 204.22,439.98 204.30,439.80 204.39,439.60 204.50,439.38 204.61,439.14 204.74,438.89 204.87,438.61 205.02,438.32 205.18,438.01 205.35,437.68 205.54,437.34 205.74,436.97 205.95,436.59 206.17,436.19 206.41,435.78 206.66,435.34 206.93,434.89 207.21,434.43 207.50,433.94 207.81,433.44 208.14,432.92 208.48,432.39 208.84,431.84 209.22,431.27 209.61,430.69 210.02,430.09 210.44,429.48 210.88,428.85 211.35,428.21 211.82,427.55 212.32,426.87 212.84,426.19 213.37,425.49 213.93,424.77 214.50,424.04 215.09,423.30 215.71,422.54 216.34,421.77 216.99,420.99 217.67,420.20 218.36,419.40 219.08,418.58 219.81,417.75 220.57,416.91 221.35,416.06 222.16,415.20 222.98,414.33 223.83,413.45 224.70,412.56 225.59,411.66 226.50,410.75 227.44,409.84 228.40,408.91 229.39,407.98 230.39,407.04 231.42,406.10 232.48,405.14 233.56,404.18 234.66,403.22 235.79,402.25 236.94,401.27 238.11,400.29 239.31,399.31 240.54,398.32 241.79,397.33 243.06,396.34 244.36,395.34 245.68,394.34 247.03,393.34 248.40,392.34 249.80,391.34 251.22,390.33 252.67,389.33 254.14,388.33 255.63,387.32 257.15,386.32 258.70,385.32 260.27,384.32 261.87,383.33 263.49,382.34 265.13,381.35 266.80,380.36 268.49,379.38 270.21,378.41 271.95,377.44 273.72,376.47 275.51,375.51 277.33,374.56 279.16,373.61 281.03,372.67 282.91,371.74 284.82,370.82 286.75,369.91 288.71,369.00 290.68,368.11 292.68,367.22 294.70,366.34 296.75,365.48 298.81,364.63 300.90,363.78 303.01,362.95 305.14,362.14 307.29,361.33 309.47,360.54 311.66,359.76 313.87,359.00 316.10,358.25 318.35,357.51 320.63,356.79 322.91,356.08 325.22,355.39 327.55,354.72 329.89,354.06 332.25,353.42 334.63,352.80 337.03,352.20 339.44,351.61 341.87,351.04 344.31,350.49 346.77,349.95 349.24,349.44 351.73,348.95 354.23,348.47 356.75,348.02 359.28,347.58 361.82,347.17 364.37,346.77 366.93,346.40 369.51,346.05 372.10,345.72 374.69,345.41 377.30,345.12 379.92,344.86 382.54,344.61 385.18,344.39 387.82,344.19 390.47,344.02 393.12,343.87 395.79,343.73 398.46,343.63 401.13,343.54 403.81,343.48 406.49,343.44 409.18,343.43 411.87,343.44 414.57,343.47 417.26,343.53 419.96,343.61 422.66,343.71 425.36,343.84 428.06,343.99 430.76,344.17 433.46,344.37 436.16,344.59 438.85,344.84 441.55,345.11 444.24,345.40 446.93,345.72 449.61,346.06 452.29,346.42 454.96,346.81 457.63,347.22 460.29,347.65 462.95,348.11 465.60,348.59 468.24,349.09 470.87,349.62 473.49,350.16 476.11,350.73 478.71,351.33 481.31,351.94 483.89,352.57 486.47,353.23 489.03,353.91 491.58,354.61 494.11,355.33 496.64,356.07 499.15,356.83 501.64,357.61 504.12,358.41 506.59,359.23 509.04,360.07 511.48,360.92 513.90,361.80 516.30,362.69 518.69,363.60 521.05,364.53 523.40,365.48 525.74,366.44 528.05,367.42 530.34,368.41 532.62,369.42 534.87,370.45 537.11,371.49 539.32,372.54 541.51,373.61 543.69,374.70 545.84,375.79 547.96,376.90 550.07,378.02 552.15,379.15 554.22,380.30 556.25,381.45 558.27,382.62 560.26,383.79 562.23,384.98 564.17,386.17 566.09,387.37 567.99,388.58 569.86,389.80 571.70,391.03 573.52,392.26 575.32,393.50 577.09,394.74 578.83,395.99 580.55,397.25 582.24,398.50 583.91,399.77 585.55,401.03 587.16,402.30 588.75,403.57 590.31,404.84 591.85,406.11 593.36,407.38 594.84,408.66 596.30,409.93 597.72,411.20 599.13,412.47 600.50,413.74 601.85,415.01 603.17,416.27 604.47,417.53 605.74,418.78 606.98,420.04 608.20,421.28 609.39,422.52 610.55,423.76 611.69,424.98 612.80,426.20 613.89,427.42 614.95,428.62 615.98,429.82 616.99,431.01 617.97,432.19 618.93,433.36 619.86,434.51 620.76,435.66 621.65,436.80 622.50,437.92 623.34,439.03 624.15,440.13 624.93,441.22 625.69,442.29 626.43,443.35 627.14,444.40 627.83,445.43 628.50,446.44 629.15,447.44 629.77,448.43 630.37,449.39 630.95,450.34 631.51,451.28 632.05,452.19 632.57,453.09 633.06,453.97 633.54,454.83 634.00,455.68 634.43,456.50 634.85,457.30 635.25,458.09 635.63,458.85 635.99,459.60 636.34,460.32 636.67,461.02 636.98,461.70 637.27,462.36 637.55,463.00 637.81,463.62 638.06,464.21 638.29,464.78 638.51,465.33 638.71,465.86 638.90,466.36 639.08,466.84 639.24,467.30 639.40,467.73 639.53,468.14 639.66,468.53 639.78,468.89 639.88,469.22 639.98,469.54 640.06,469.83 640.14,470.09 640.20,470.33 640.26,470.54 640.31,470.73 640.35,470.90 640.39,471.04 640.41,471.16 640.43,471.25 640.45,471.31 640.46,471.35 640.46,471.37 640.46,471.36 640.45,471.33 640.44,471.27 640.43,471.18 640.41,471.07 640.39,470.94 640.37,470.78 640.34,470.60 640.32,470.39 640.29,470.16 640.26,469.90 640.24,469.62 640.21,469.31 640.18,468.98 640.16,468.62 640.13,468.25 640.11,467.84 640.09,467.42 640.07,466.97 640.05,466.49 640.04,466.00 640.03,465.48 640.02,464.93 640.02,464.37 640.02,463.78 640.03,463.17 640.05,462.54 640.06,461.88 640.09,461.21 640.12,460.51 640.16,459.79 640.20,459.05 640.25,458.29 640.31,457.51 640.38,456.70 640.45,455.88 640.53,455.04 640.63,454.18 640.73,453.30 640.84,452.39 640.95,451.48 641.08,450.54 641.22,449.58 641.37,448.61 641.53,447.62 641.70,446.61 641.88,445.58 642.07,444.54 642.27,443.48 642.48,442.40 642.71,441.31 642.95,440.21 643.19,439.08 643.46,437.95 643.73,436.80 644.01,435.63 644.31,434.45 644.62,433.26 644.95,432.05 645.28,430.83 645.63,429.60 646.00,428.35 646.37,427.10 646.76,425.83 647.17,424.55 647.58,423.26 648.01,421.96 648.46,420.64 648.92,419.32 649.39,417.99 649.88,416.65 650.38,415.30 650.89,413.94 651.42,412.58 651.96,411.20 652.52,409.82 653.09,408.43 653.67,407.03 654.27,405.63 654.89,404.22 655.51,402.80 656.16,401.38 656.81,399.96 657.48,398.52 658.17,397.09 658.86,395.65 659.58,394.20 660.30,392.75 661.04,391.30 661.80,389.84 662.56,388.39 663.34,386.92 664.14,385.46 664.95,384.00 665.77,382.53 666.61,381.06 667.45,379.59 668.32,378.12 669.19,376.65 670.08,375.18 670.98,373.71 671.89,372.24 672.82,370.77 673.76,369.30 674.71,367.83 675.67,366.36 676.65,364.90 677.64,363.43 678.64,361.97 679.65,360.51 680.67,359.06 681.70,357.60 682.75,356.15 683.81,354.71 684.87,353.26 685.95,351.82 687.04,350.39 688.14,348.96 689.25,347.53 690.37,346.11 691.49,344.69 692.63,343.28 693.78,341.87 694.94,340.47 696.11,339.07 697.28,337.68 698.47,336.29 699.66,334.91 700.86,333.54 702.07,332.17 703.29,330.81 704.51,329.46 705.74,328.12 706.98,326.78 708.23,325.44 709.49,324.12 710.75,322.80 712.01,321.49 713.29,320.19 714.57,318.90 715.85,317.61 717.15,316.33 718.44,315.06 719.74,313.80 721.05,312.55 722.36,311.30 723.68,310.07 725.00,308.84 726.33,307.62 727.66,306.41 728.99,305.21 730.33,304.02 731.67,302.83 733.01,301.66 734.36,300.50 735.71,299.34 737.06,298.19 738.42,297.06 739.77,295.93 741.13,294.81 742.49,293.70 743.85,292.60 745.22,291.52 746.58,290.44 747.95,289.37 749.31,288.30 750.68,287.25 752.05,286.21 753.41,285.18 754.78,284.16 756.15,283.15 757.51,282.14 758.88,281.15 760.25,280.17 761.61,279.20 762.97,278.23 764.34,277.28 765.70,276.33 767.05,275.40 768.41,274.48 769.77,273.56 771.12,272.66 772.47,271.76 773.82,270.87 775.16,270.00 776.51,269.13 777.85,268.27 779.18,267.43 780.51,266.59 781.84,265.76 783.17,264.94 784.49,264.13 785.81,263.33 787.12,262.53 788.43,261.75 789.74,260.98 791.04,260.21 792.34,259.46 793.63,258.71 794.92,257.97 796.20,257.25 797.47,256.53 798.75,255.82 800.01,255.11 801.27,254.42 802.53,253.74 803.78,253.06 805.02,252.39 806.26,251.73 807.49,251.08 808.71,250.44 809.93,249.80 811.14,249.18 812.35,248.56 813.55,247.95 814.74,247.34 815.93,246.75 817.11,246.16 818.28,245.58 819.44,245.01 820.60,244.45 821.75,243.89 822.90,243.34 824.03,242.80 825.16,242.27 826.28,241.74 827.40,241.22 828.50,240.70 829.60,240.20 830.69,239.70 831.78,239.21 832.85,238.72 833.92,238.24 834.98,237.77 836.03,237.30 837.07,236.84 838.11,236.39 839.14,235.94 840.16,235.50 841.17,235.07 842.17,234.64 843.17,234.22 844.15,233.80 845.13,233.39 846.10,232.98 847.06,232.58 848.01,232.19 848.96,231.80 849.90,231.42 850.82,231.04 851.74,230.67 852.65,230.30 853.56,229.94 854.45,229.58 855.34,229.23 856.21,228.88 857.08,228.54 857.94,228.20 858.80,227.87 859.64,227.54 860.47,227.22 861.30,226.90 862.12,226.59 862.93,226.28 863.73,225.97 864.52,225.67 865.31,225.38 866.08,225.08 866.85,224.79 867.61,224.51 868.36,224.23 869.11,223.95 869.84,223.68 870.57,223.41 871.29,223.15 872.00,222.88 872.70,222.63 873.40,222.37 874.08,222.12 874.76,221.87 875.43,221.63 876.09,221.39 876.75,221.15 877.39,220.92 878.03,220.69 878.66,220.46 879.29,220.24 879.90,220.01 880.51,219.80 881.11,219.58 881.71,219.37 882.29,219.16 882.87,218.95 883.44,218.75 884.01,218.54 884.56,218.35 885.11,218.15 885.66,217.96 886.19,217.76 886.72,217.58 887.24,217.39 887.76,217.21 888.26,217.02 888.77,216.85 889.26,216.67 889.75,216.49 890.23,216.32 890.70,216.15 891.17,215.99 891.64,215.82 892.09,215.66 892.54,215.49 892.98,215.34 893.42,215.18 893.85,215.02 894.28,214.87 894.70,214.72 895.11,214.57 895.52,214.42 895.92,214.27 896.32,214.13 896.71,213.99 897.10,213.84 897.48,213.71 897.85,213.57 898.22,213.43 898.59,213.30 898.95,213.16 899.30,213.03 899.65,212.90 900.00,212.77 900.34,212.65 900.68,212.52 901.01,212.40 901.33,212.28 901.65,212.15 901.97,212.03 902.28,211.92 902.59,211.80 902.90,211.68 903.20,211.57 903.49,211.45 903.79,211.34 904.07,211.23 904.36,211.12 904.64,211.01 904.91,210.90 905.19,210.80 905.46,210.69 905.72,210.59 905.98,210.49 906.24,210.38 906.50,210.28 906.75,210.18 907.00,210.08 907.24,209.98 907.48,209.89 907.72,209.79 907.96,209.69 908.19,209.60 908.42,209.51 908.64,209.41 908.87,209.32 909.09,209.23 909.30,209.14 909.52,209.05 909.73,208.96 909.94,208.88 910.15,208.79 910.35,208.70 910.55,208.62 910.75,208.53 910.94,208.45 911.14,208.37 911.33,208.29 911.52,208.20 911.70,208.12 911.89,208.04 912.07,207.96 912.25,207.89 912.42,207.81 912.60,207.73 912.77,207.66 912.94,207.58 913.11,207.51 913.27,207.43 913.44,207.36 913.60,207.29 913.76,207.22 913.91,207.15 914.07,207.08 914.22,207.01 914.37,206.94 914.51,206.87 914.66,206.81 914.80,206.74 914.94,206.68 915.08,206.61 915.22,206.55 915.35,206.49 915.49,206.43 915.61,206.36 915.74,206.31 915.87,206.25 915.99,206.19 916.11,206.13 916.23,206.08 916.34,206.02 916.46,205.97 916.57,205.91 916.68,205.86 916.78,205.81 916.89,205.76 916.99,205.71 917.09,205.67 917.18,205.62 917.28,205.58 917.37,205.53 917.45,205.49 917.54,205.45 917.62,205.41 917.70,205.37 917.78,205.33 917.85,205.30 917.92,205.26 917.99,205.23 918.06,205.20 918.12,205.17 918.18,205.14 918.23,205.11 918.29,205.08 918.33,205.06 918.38,205.04 918.42,205.02 918.46,205.00 918.50,204.98 918.53,204.96 918.56,204.95 918.58,204.94 918.60,204.93 918.62,204.92 918.63,204.91 918.64,204.91 918.65,204.91 918.65,204.91 918.64,204.91 918.63,204.91 918.62,204.92 918.61,204.93 918.59,204.94 918.56,204.95 918.53,204.96 918.49,204.98 918.46,205.00 918.41,205.02 918.36,205.05 918.31,205.07 918.25,205.10 918.18,205.13 918.11,205.17 918.04,205.20 917.96,205.24 917.87,205.29 917.78,205.33 917.68,205.38 917.58,205.43 917.47,205.48 917.35,205.53 917.23,205.59 917.10,205.65 916.97,205.72 916.83,205.78 916.68,205.85 916.53,205.92 916.37,206.00 916.20,206.08 916.03,206.16 915.85,206.24 915.66,206.33 915.47,206.42 915.27,206.51 915.06,206.61 914.84,206.70 914.62,206.81 914.39,206.91 914.15,207.02 913.90,207.13 913.65,207.24 913.38,207.36 913.11,207.48 912.83,207.60 912.55,207.73 912.25,207.86 911.95,207.99 911.63,208.13 911.31,208.27 910.98,208.41 910.64,208.55 910.29,208.70 909.93,208.85 909.57,209.00 909.19,209.16 908.80,209.32 908.41,209.48 908.00,209.65 907.59,209.82 907.16,209.99 906.73,210.16 906.28,210.34 905.83,210.52 905.36,210.70 904.89,210.88 904.40,211.07 903.91,211.26 903.40,211.45 902.88,211.65 902.35,211.85 901.81,212.05 901.26,212.25 900.70,212.46 900.12,212.66 899.54,212.87 898.94,213.08 898.33,213.30 897.71,213.51 897.08,213.73 896.44,213.95 895.78,214.17 895.11,214.40 894.43,214.62 893.74,214.85 893.04,215.08 892.32,215.31 891.59,215.54 890.85,215.77 890.09,216.00 889.33,216.24 888.55,216.47 887.75,216.71 886.95,216.95 886.13,217.19 885.30,217.43 884.45,217.67 883.59,217.91 882.72,218.15 881.83,218.39 880.93,218.63 880.02,218.87 879.09,219.11 878.15,219.35 877.20,219.59 876.23,219.83 875.25,220.06 874.25,220.30 873.24,220.54 872.22,220.77 871.18,221.01 870.13,221.24 869.07,221.47 867.98,221.70 866.89,221.93 865.78,222.16 864.66,222.38 863.52,222.61 862.37,222.83 861.20,223.04 860.02,223.26 858.83,223.47 857.62,223.68 856.39,223.89 855.16,224.09 853.90,224.29 852.64,224.48 851.35,224.68 850.06,224.86 848.75,225.05 847.42,225.23 846.08,225.40 844.73,225.57 843.36,225.74 841.98,225.90 840.58,226.06 839.17,226.21 837.74,226.35 836.30,226.49 834.85,226.62 833.38,226.75 831.90,226.87 830.40,226.99 828.89,227.10 827.37,227.20 825.83,227.29 824.28,227.38 822.71,227.46 821.13,227.53 819.54,227.59 817.93,227.65 816.31,227.70 814.68,227.74 813.03,227.77 811.37,227.79 809.70,227.81 808.02,227.81 806.32,227.81 804.61,227.80 802.88,227.77 801.15,227.74 799.40,227.70 797.64,227.65 795.87,227.58 794.09,227.51 792.29,227.43 790.48,227.33 788.67,227.22 786.84,227.11 785.00,226.98 783.14,226.84 781.28,226.69 779.41,226.52 777.53,226.35 775.63,226.16 773.73,225.96 771.82,225.75 769.90,225.52 767.96,225.28 766.02,225.03 764.07,224.77 762.12,224.49 760.15,224.20 758.18,223.89 756.19,223.57 754.20,223.24 752.20,222.89 750.20,222.53 748.19,222.16 746.17,221.77 744.14,221.37 742.11,220.95 740.07,220.51 738.03,220.07 735.98,219.60 733.92,219.13 731.86,218.63 729.80,218.13 727.73,217.60 725.66,217.06 723.58,216.51 721.50,215.94 719.42,215.36 717.34,214.75 715.25,214.14 713.16,213.51 711.07,212.86 708.97,212.19 706.88,211.51 704.78,210.82 702.68,210.11 700.59,209.38 698.49,208.63 696.39,207.87 694.30,207.10 692.20,206.31 690.11,205.50 688.01,204.68 685.92,203.84 683.83,202.98 681.75,202.11 679.67,201.22 677.59,200.32 675.51,199.40 673.44,198.47 671.37,197.52 669.31,196.55 667.25,195.57 665.20,194.57 663.15,193.56 661.11,192.53 659.08,191.49 657.05,190.43 655.03,189.36 653.02,188.27 651.01,187.17 649.01,186.06 647.02,184.93 645.04,183.78 643.07,182.62 641.11,181.45 639.16,180.26 637.22,179.06 635.29,177.85 633.37,176.62 631.46,175.38 629.56,174.13 627.67,172.87 625.80,171.59 623.94,170.30 622.09,169.00 620.25,167.69 618.43,166.36 616.62,165.03 614.83,163.68 613.04,162.33 611.28,160.96 609.53,159.58 607.79,158.19 606.07,156.80 604.36,155.39 602.67,153.98 601.00,152.55 599.34,151.12 597.70,149.68 596.08,148.24 594.47,146.78 592.88,145.32 591.31,143.85 589.75,142.38 588.22,140.90 586.70,139.42 585.20,137.93 583.72,136.43 582.26,134.93 580.81,133.43 579.39,131.92 577.99,130.41 576.60,128.90 575.24,127.38 573.89,125.86 572.57,124.34 571.26,122.82 569.98,121.30 568.72,119.78 567.47,118.25 566.25,116.73 565.05,115.21 563.87,113.69 562.71,112.17 561.57,110.66 560.45,109.14 559.35,107.63 558.27,106.12 557.22,104.62 556.19,103.12 555.17,101.63 554.18,100.14 553.21,98.66 552.26,97.18 551.34,95.71 550.43,94.24 549.54,92.79 548.68,91.34 547.84,89.90 547.02,88.47 546.21,87.05 545.43,85.64 544.67,84.23 543.94,82.84 543.22,81.46 542.52,80.09 541.84,78.74 541.19,77.39 540.55,76.06 539.93,74.74 539.33,73.44 538.76,72.15 538.20,70.87 537.66,69.61 537.14,68.37 536.64,67.14 536.15,65.92 535.69,64.73 535.24,63.55 534.81,62.39 534.40,61.24 534.01,60.12 533.63,59.01 533.27,57.92 532.93,56.85 532.60,55.80 532.29,54.77 531.99,53.76 531.71,52.78 531.45,51.81 531.19,50.86 530.96,49.94 530.74,49.04 530.53,48.16 530.33,47.31 530.15,46.47 529.98,45.67 529.82,44.88 529.67,44.12 529.54,43.38 529.41,42.67 529.30,41.98 529.19,41.32 529.10,40.68 529.01,40.07 528.94,39.49 528.87,38.93 528.81,38.39 528.75,37.89 528.71,37.40 528.67,36.95 528.64,36.52 528.61,36.12 528.59,35.75 528.57,35.41 528.55,35.09 528.54,34.80 528.54,34.54 528.53,34.30 528.53,34.09 528.53,33.92 528.53,33.76 528.54,33.64 528.54,33.55 528.54,33.48 528.54,33.44 528.54,33.43 528.54,33.45 528.54,33.50 528.53,33.57 528.52,33.68 528.51,33.81 528.49,33.97 528.47,34.15 528.44,34.37 528.41,34.61 528.37,34.88 528.33,35.18 528.28,35.51 528.22,35.86 528.15,36.24 528.07,36.65 527.98,37.08 527.89,37.55 527.78,38.03 527.67,38.55 527.54,39.09 527.40,39.66 527.25,40.25 527.09,40.87 526.92,41.51 526.73,42.18 526.53,42.87 526.31,43.59 526.08,44.33 525.83,45.10 525.57,45.89 525.30,46.71 525.00,47.54 524.70,48.40 524.37,49.28 524.03,50.19 523.67,51.11 523.29,52.06 522.89,53.03 522.47,54.02 522.04,55.03 521.58,56.06 521.11,57.11 520.61,58.17 520.10,59.26 519.56,60.37 519.01,61.49 518.43,62.63 517.83,63.79 517.21,64.96 516.56,66.15 515.90,67.36 515.21,68.58 514.50,69.81 513.76,71.06 513.01,72.33 512.23,73.60 511.42,74.89 510.59,76.20 509.74,77.51 508.87,78.84 507.96,80.17 507.04,81.52 506.09,82.88 505.12,84.24 504.12,85.62 503.09,87.00 502.04,88.39 500.97,89.79 499.87,91.20 498.75,92.61 497.60,94.03 496.42,95.45 495.23,96.88 494.00,98.31 492.75,99.75 491.48,101.19 490.18,102.63 488.85,104.08 487.50,105.53 486.12,106.97 484.72,108.42 483.30,109.87 481.85,111.32 480.37,112.77 478.87,114.21 477.35,115.66 475.80,117.10 474.22,118.54 472.63,119.98 471.00,121.41 469.36,122.84 467.69,124.26 466.00,125.68 464.28,127.10 462.54,128.50 460.78,129.90 459.00,131.30 457.19,132.68 455.36,134.06 453.51,135.43 451.64,136.79 449.74,138.14 447.83,139.48 445.89,140.82 443.94,142.14 441.96,143.45 439.96,144.75 437.95,146.04 435.91,147.31 433.86,148.57 431.78,149.82 429.69,151.06 427.58,152.28 425.45,153.49 423.31,154.69 421.15,155.87 418.97,157.04 416.78,158.19 414.57,159.32 412.34,160.44 410.10,161.55 407.85,162.63 405.58,163.70 403.29,164.76 401.00,165.79 398.69,166.81 396.37,167.81 394.03,168.80 391.69,169.76 389.33,170.71 386.96,171.63 384.58,172.54 382.19,173.43 379.80,174.31 377.39,175.16 374.97,175.99 372.55,176.80 370.12,177.60 367.68,178.37 365.23,179.12 362.78,179.85 360.32,180.57 357.86,181.26 355.39,181.93 352.92,182.58 350.44,183.21 347.96,183.82 345.48,184.41 342.99,184.98 340.50,185.53 338.01,186.06 335.52,186.56 333.03,187.05 330.53,187.51 328.04,187.96 325.55,188.38 323.05,188.78 320.56,189.17 318.07,189.53 315.59,189.87 313.10,190.19 310.62,190.49 308.14,190.76 305.67,191.02 303.20,191.26 300.73,191.48 298.27,191.68 295.82,191.85 293.37,192.01 290.93,192.15 288.50,192.27 286.07,192.37 283.65,192.45 281.23,192.51 278.83,192.55 276.44,192.57 274.05,192.58 271.67,192.56 269.31,192.53 266.95,192.48 264.60,192.41 262.27,192.33 259.94,192.22 257.63,192.10 255.33,191.96 253.04,191.81 250.76,191.64 248.50,191.45 246.25,191.25 244.02,191.03 241.79,190.79 239.58,190.54 237.39,190.28 235.21,190.00 233.04,189.70 230.89,189.39 228.76,189.07 226.64,188.73 224.54,188.38 222.45,188.02 220.38,187.64 218.33,187.25 216.29,186.85 214.27,186.44 212.27,186.01 210.28,185.58 208.31,185.13 206.36,184.67 204.43,184.20 202.51,183.72 200.62,183.23 198.74,182.73 196.88,182.23 195.04,181.71 193.22,181.18 191.42,180.65 189.63,180.11 187.87,179.56 186.12,179.00 184.40,178.43 182.69,177.86 181.00,177.28 179.34,176.70 177.69,176.11 176.06,175.51 174.46,174.91 172.87,174.30 171.30,173.69 169.75,173.08 168.23,172.46 166.72,171.83 165.23,171.21 163.77,170.58 162.32,169.94 160.89,169.31 159.49,168.67 158.10,168.03 156.74,167.39 155.39,166.75 154.07,166.10 152.76,165.46 151.48,164.81 150.21,164.17 148.97,163.52 147.74,162.88 146.54,162.23 145.35,161.59 144.18,160.95 143.04,160.30 141.91,159.66 140.81,159.03 139.72,158.39 138.65,157.76 137.61,157.13 136.58,156.50 135.57,155.87 134.58,155.25 133.61,154.63 132.65,154.02 131.72,153.41 130.81,152.80 129.91,152.20 129.03,151.60 128.17,151.01 127.33,150.42 126.51,149.84 125.70,149.26 124.92,148.69 124.15,148.13 123.39,147.57 122.66,147.01 121.94,146.47 121.24,145.93 120.56,145.40 119.89,144.87 119.24,144.35 118.61,143.84 117.99,143.33 117.39,142.84 116.80,142.35 116.23,141.86 115.68,141.39 115.14,140.93 114.62,140.47 114.11,140.02 113.62,139.58 113.14,139.15 112.67,138.72 112.23,138.31 111.79,137.90 111.37,137.50 110.96,137.12 110.57,136.74 110.19,136.37 109.82,136.01 109.47,135.66 109.13,135.31 108.80,134.98 108.49,134.66 108.19,134.35 107.90,134.04 107.62,133.75 107.35,133.47 107.10,133.19 106.86,132.93 106.62,132.67 106.40,132.43 106.20,132.19 106.00,131.97 105.81,131.76 105.63,131.55 105.47,131.36 105.31,131.17 105.16,131.00 105.03,130.84 104.90,130.68 104.78,130.54 104.67,130.40 104.57,130.28 104.48,130.17 104.40,130.06 104.33,129.97 104.26,129.89 104.21,129.81 104.16,129.75 104.12,129.69 104.08,129.65 104.06,129.62 104.04,129.59 104.03,129.58 104.03,129.57 104.03,129.58 104.04,129.59 104.06,129.62 104.08,129.65 104.11,129.69 104.14,129.74 104.19,129.80 104.23,129.88 104.29,129.96 104.35,130.04 104.41,130.14 104.48,130.25 104.56,130.37 104.64,130.49 104.72,130.62 104.81,130.77 104.91,130.92 105.01,131.08 105.11,131.24 105.22,131.42 105.33,131.60 105.45,131.80 105.57,132.00 105.69,132.21 105.82,132.42 105.95,132.65 106.09,132.88 106.22,133.12 106.37,133.36 106.51,133.62 106.66,133.88 106.81,134.15 106.96,134.42 107.12,134.71 107.28,135.00 107.44,135.29 107.60,135.60 107.77,135.90 107.94,136.22 108.11,136.54 108.29,136.87 108.46,137.21 108.64,137.55 108.82,137.89 109.00,138.25 109.18,138.60 109.37,138.97 109.55,139.34 109.74,139.71 109.93,140.09 110.12,140.47 110.31,140.86 110.51,141.26 110.70,141.66 110.90,142.06 111.10,142.47 111.29,142.88 111.49,143.30 111.69,143.72 111.89,144.15 112.10,144.57 112.30,145.01 112.50,145.44 112.71,145.89 112.91,146.33 113.12,146.78 113.32,147.23 113.53,147.68 113.73,148.14 113.94,148.60 114.15,149.06 114.36,149.53 114.57,150.00 114.77,150.47 114.98,150.94 115.19,151.42 115.40,151.90 115.61,152.38 115.82,152.86 116.03,153.35 116.24,153.83 116.45,154.32 116.66,154.81 116.87,155.30 117.08,155.80 117.29,156.29 117.50,156.79 117.71,157.28 117.92,157.78 118.13,158.28 118.34,158.78 118.55,159.28 118.76,159.79 118.97,160.29 119.18,160.79 119.38,161.30 119.59,161.80 119.80,162.31 120.01,162.81 120.22,163.32 120.43,163.82 120.63,164.33 120.84,164.84 121.05,165.34 121.25,165.85 121.46,166.35 121.67,166.86 121.87,167.37 122.08,167.87 122.28,168.38 122.49,168.88 122.69,169.38 122.90,169.89 123.10,170.39 123.30,170.89 123.51,171.39 123.71,171.90 123.91,172.40 124.12,172.90 124.32,173.39 124.52,173.89 124.72,174.39 124.92,174.89 125.13,175.38 125.33,175.87 125.53,176.37 125.73,176.86 125.93,177.35 126.13,177.84 126.33,178.33 126.53,178.82 126.73,179.30 126.93,179.79 127.13,180.28 127.33,180.76 127.52,181.24 127.72,181.72 127.92,182.20 128.12,182.68 128.32,183.16 128.52,183.63 128.71,184.11 128.91,184.58 129.11,185.06 129.31,185.53 129.50,186.00 129.70,186.47 129.90,186.94 130.10,187.41 130.30,187.87 130.49,188.34 130.69,188.80 130.89,189.27 131.09,189.73 131.29,190.19 131.48,190.65 131.68,191.11 131.88,191.57 132.08,192.03 132.28,192.49 132.48,192.95 132.68,193.40 132.88,193.86 133.08,194.31 133.28,194.77 133.48,195.22 133.68,195.68 133.89,196.13 134.09,196.59 134.29,197.04 134.50,197.49 134.70,197.94 134.91,198.40 135.11,198.85 135.32,199.30 135.52,199.75 135.73,200.21 135.94,200.66 136.15,201.11 136.36,201.57 136.57,202.02 136.78,202.48 137.00,202.93 137.21,203.39 137.42,203.84 137.64,204.30 137.86,204.76 138.08,205.22 138.29,205.68 138.52,206.14 138.74,206.60 138.96,207.06 139.18,207.53 139.41,207.99 139.64,208.46 139.87,208.93 140.10,209.40 140.33,209.87 140.56,210.34 140.79,210.82 141.03,211.29 141.27,211.77 141.51,212.25 141.75,212.74 141.99,213.22 142.24,213.71 142.48,214.20 142.73,214.69 142.98,215.18 143.24,215.68 143.49,216.18 143.75,216.68 144.01,217.19 144.27,217.70 144.53,218.21 144.80,218.72 145.06,219.24 145.33,219.76 145.61,220.28 145.88,220.80 146.16,221.33 146.44,221.87 146.72,222.40 147.00,222.94 147.29,223.49 147.58,224.03 147.87,224.59 148.16,225.14 148.46,225.70 148.76,226.26 149.06,226.83 149.37,227.40 149.68,227.97 149.99,228.55 150.30,229.14 150.62,229.72 150.94,230.32 151.26,230.91 151.58,231.51 151.91,232.12 152.24,232.73 152.57,233.34 152.91,233.96 153.25,234.59 153.59,235.22 153.94,235.85 154.29,236.49 154.64,237.14 154.99,237.78 155.35,238.44 155.71,239.10 156.07,239.76 156.44,240.43 156.81,241.11 157.18,241.79 157.55,242.47 157.93,243.16 158.31,243.86 158.70,244.56 159.08,245.27 159.47,245.98 159.87,246.70 160.26,247.43 160.66,248.16 161.06,248.89 161.47,249.63 161.87,250.38 162.28,251.13 162.70,251.89 163.11,252.66 163.53,253.43 163.95,254.20 164.38,254.98 164.80,255.77 165.23,256.57 165.66,257.37 166.10,258.17 166.53,258.98 166.97,259.80 167.42,260.62 167.86,261.45 168.31,262.29 168.76,263.13 169.21,263.98 169.66,264.83 170.12,265.69 170.57,266.56 171.03,267.43 171.49,268.31 171.96,269.19 172.42,270.08 172.89,270.98 173.36,271.88 173.83,272.79 174.30,273.70 174.78,274.62 175.25,275.55 175.73,276.48 176.21,277.42 176.69,278.36 177.17,279.31 177.65,280.27 178.13,281.23 178.62,282.20 179.10,283.17 179.59,284.15 180.08,285.14 180.56,286.13 181.05,287.12 181.54,288.13 182.03,289.13 182.52,290.15 183.01,291.17 183.50,292.19 183.99,293.22 184.48,294.26 184.97,295.30 185.46,296.34 185.95,297.40 186.44,298.45 186.92,299.52 187.41,300.58 187.90,301.66 188.39,302.73 188.87,303.82 189.36,304.90 189.84,305.99 190.32,307.09 190.80,308.19 191.28,309.30 191.76,310.41 192.24,311.53 192.72,312.65 193.19,313.77 193.66,314.90 194.13,316.03 194.60,317.17 195.07,318.31 195.53,319.45 195.99,320.60 196.45,321.75 196.91,322.91 197.36,324.07 197.81,325.23 198.26,326.40 198.70,327.57 199.15,328.74 199.58,329.91 200.02,331.09 200.45,332.27 200.88,333.46 201.31,334.64 201.73,335.83 202.15,337.02 202.56,338.22 202.97,339.41 203.38,340.61 203.78,341.81 204.18,343.01 204.57,344.21 204.96,345.41 205.34,346.62 205.72,347.82 206.10,349.03 206.47,350.24 206.84,351.44 207.20,352.65 207.55,353.86 207.90,355.07 208.25,356.28 208.59,357.49 208.93,358.70 209.26,359.90 209.58,361.11 209.90,362.32 210.21,363.52 210.52,364.73 210.82,365.93 211.12,367.13 211.41,368.33 211.69,369.53 211.97,370.73 212.25,371.92 212.51,373.11 212.77,374.30 213.03,375.49 213.28,376.67 213.52,377.85 213.75,379.02 213.98,380.20 214.21,381.37 214.42,382.53 214.63,383.69 214.84,384.85 215.04,386.00 215.23,387.15 215.41,388.29 215.59,389.42 215.76,390.56 215.93,391.68 216.09,392.80 216.24,393.91 216.39,395.02 216.53,396.12 216.66,397.22 216.79,398.30 216.91,399.38 217.02,400.46 217.13,401.52 217.23,402.58 217.32,403.63 217.41,404.67 217.50,405.70 217.57,406.73 217.64,407.74 217.71,408.75 217.77,409.74 217.82,410.73 217.87,411.71 217.91,412.68 217.94,413.63 217.97,414.58 218.00,415.52 218.02,416.44 218.03,417.35 218.04,418.26 218.04,419.15 218.04,420.03 218.04,420.89 218.02,421.75 218.01,422.59 217.99,423.42 217.96,424.24 217.93,425.04 217.90,425.84 217.86,426.61 217.82,427.38 217.78,428.13 217.73,428.86 217.68,429.59 217.62,430.29 217.56,430.99 217.50,431.67 217.44,432.33 217.37,432.98 217.30,433.61 217.23,434.23 217.16,434.83 217.09,435.41 217.01,435.98 216.93,436.54 216.85,437.07 216.77,437.59 216.69,438.10 216.61,438.58 216.53,439.05 216.45,439.51 216.37,439.94 216.29,440.36 216.21,440.76 216.13,441.14 216.06,441.51 215.98,441.85 215.91,442.18 215.83,442.49 215.76,442.79 215.70,443.06 215.63,443.32 215.57,443.55 215.51,443.77 215.46,443.97 215.41,444.15 215.36,444.31 215.32,444.45 215.28,444.58 215.25,444.68 215.22,444.77 215.20,444.83 215.18,444.88 215.17,444.91 215.17,444.92 215.17,444.90 215.19,444.87 215.20,444.82 215.23,444.76 215.26,444.67 215.31,444.56 215.36,444.43 215.42,444.29 215.49,444.12 215.57,443.94 215.66,443.73 215.76,443.51 215.87,443.27 215.99,443.01 216.12,442.73 216.27,442.43 216.42,442.11 216.59,441.77 216.77,441.42 216.97,441.04 217.17,440.65 217.39,440.24 217.63,439.81 217.88,439.37 218.14,438.90 218.42,438.42 218.71,437.92 219.02,437.41 219.34,436.87 219.68,436.32 220.04,435.75 220.41,435.17 220.80,434.57 221.20,433.95 221.63,433.32 222.07,432.67 222.53,432.00 223.01,431.32 223.50,430.63 224.02,429.92 224.56,429.19 225.11,428.45 225.68,427.70 226.28,426.93 226.89,426.15 227.53,425.36 228.18,424.55 228.86,423.73 229.55,422.90 230.27,422.06 231.01,421.20 231.77,420.33 232.56,419.45 233.37,418.56 234.19,417.66 235.05,416.75 235.92,415.84 236.82,414.91 237.74,413.97 238.68,413.02 239.65,412.07 240.64,411.10 241.66,410.13 242.69,409.16 243.76,408.17 244.84,407.18 245.96,406.18 247.09,405.18 248.25,404.18 249.44,403.16 250.65,402.15 251.88,401.13 253.14,400.10 254.43,399.08 255.74,398.05 257.07,397.01 258.43,395.98 259.82,394.95 261.23,393.91 262.66,392.87 264.13,391.84 265.61,390.80 267.12,389.77 268.66,388.73 270.22,387.70 271.81,386.67 273.42,385.64 275.05,384.62 276.71,383.60 278.40,382.58 280.11,381.57 281.85,380.56 283.61,379.56 285.39,378.57 287.20,377.58 289.03,376.59 290.89,375.62 292.77,374.65 294.67,373.69 296.60,372.74 298.55,371.79 300.52,370.86 302.52,369.93 304.54,369.02 306.58,368.12 308.65,367.22 310.73,366.34 312.84,365.47 314.97,364.62 317.12,363.77 319.29,362.94 321.48,362.12 323.70,361.32 325.93,360.53 328.18,359.75 330.45,358.99 332.75,358.25 335.05,357.52 337.38,356.80 339.73,356.11 342.09,355.43 344.48,354.77 346.87,354.12 349.29,353.49 351.72,352.88 354.17,352.29 356.63,351.72 359.11,351.17 361.60,350.63 364.11,350.12 366.63,349.63 369.16,349.15 371.71,348.70 374.27,348.26 376.84,347.85 379.42,347.46 382.01,347.09 384.62,346.75 387.23,346.42 389.85,346.12 392.49,345.83 395.13,345.57 397.78,345.34 400.44,345.12 403.10,344.93 405.77,344.76 408.45,344.62 411.13,344.50 413.82,344.40 416.51,344.32 419.21,344.27 421.91,344.24 424.61,344.24 427.32,344.26 430.02,344.30 432.73,344.37 435.44,344.46 438.15,344.58 440.86,344.72 443.57,344.88 446.28,345.07 448.98,345.28 451.69,345.51 454.39,345.77 457.09,346.05 459.78,346.36 462.47,346.69 465.15,347.04 467.83,347.42 470.51,347.82 473.17,348.24 475.83,348.68 478.48,349.15 481.13,349.64 483.76,350.16 486.39,350.69 489.00,351.25 491.61,351.83 494.20,352.43 496.79,353.06 499.36,353.70 501.92,354.37 504.47,355.06 507.00,355.76 509.53,356.49 512.03,357.24 514.53,358.01 517.00,358.79 519.47,359.60 521.91,360.43 524.34,361.27 526.76,362.13 529.15,363.01 531.53,363.91 533.90,364.83 536.24,365.76 538.56,366.71 540.87,367.67 543.15,368.65 545.42,369.65 547.67,370.66 549.89,371.68 552.10,372.72 554.28,373.77 556.44,374.84 558.58,375.92 560.70,377.01 562.80,378.12 564.87,379.23 566.92,380.36 568.95,381.49 570.95,382.64 572.93,383.80 574.89,384.96 576.82,386.14 578.73,387.32 580.61,388.51 582.47,389.71 584.30,390.92 586.11,392.13 587.89,393.35 589.65,394.57 591.38,395.80 593.08,397.03 594.76,398.27 596.41,399.51 598.04,400.75 599.64,401.99 601.22,403.24 602.76,404.49 604.28,405.74 605.78,406.99 607.25,408.23 608.69,409.48 610.11,410.73 611.49,411.98 612.86,413.22 614.19,414.46 615.50,415.70 616.78,416.93 618.04,418.16 619.27,419.38 620.47,420.60 621.65,421.82 622.80,423.02 623.92,424.22 625.02,425.42 626.09,426.60 627.14,427.78 628.16,428.95 629.16,430.11 630.13,431.26 631.07,432.40 631.99,433.53 632.89,434.65 633.76,435.76 634.61,436.86 635.43,437.94 636.23,439.01 637.00,440.07 637.75,441.11 638.48,442.14 639.18,443.16 639.86,444.16 640.52,445.15 641.16,446.12 641.77,447.07 642.37,448.01 642.94,448.94 643.49,449.84 644.02,450.73 644.53,451.60 645.02,452.45 645.49,453.28 645.93,454.10 646.37,454.90 646.78,455.67 647.17,456.43 647.54,457.17 647.90,457.89 648.24,458.58 648.56,459.26 648.87,459.91 649.16,460.55 649.43,461.16 649.69,461.75 649.93,462.32 650.16,462.87 650.37,463.39 650.57,463.90 650.76,464.37 650.93,464.83 651.09,465.27 651.24,465.68 651.37,466.06 651.50,466.43 651.61,466.77 651.71,467.08 651.80,467.38 651.89,467.65 651.96,467.89 652.02,468.11 652.08,468.31 652.12,468.48 652.16,468.63 652.19,468.75 652.22,468.85 652.23,468.93 652.25,468.98 652.25,469.00 652.25,469.00 652.25,468.98 652.24,468.93 652.22,468.86 652.21,468.77 652.19,468.64 652.16,468.50 652.14,468.33 652.11,468.14 652.08,467.92 652.05,467.68 652.02,467.41 651.99,467.12 651.96,466.81 651.92,466.47 651.89,466.11 651.86,465.73" stroke="#ff0000" stroke-width="1.05"/>
</g>
<g shape-rendering="crispEdges">
<path d="M944,242.5h20" stroke="#ff00ff" stroke-width="3"/>
<path d="M944,259.5h20" stroke="#00ffff" stroke-width="1"/>
<path d="M944,276.5h20" stroke="#ff0000" stroke-width="1"/>
</g>
<g font-family="Liberation Sans, sans-serif" font-size="12px" fill="#000">
<text x="968.0" y="246.0">Участки кривой</text>
<text x="968.0" y="263.0">Эквидистанта к кривой</text>
<text x="968.0" y="279.0">Движение точек оркужности</text>
</g>
<g font-family="Liberation Sans, sans-serif" font-weight="bold" fill="#000">
<text transform="translate(120.03,17.8) scale(1.0663,1)" font-size="16px">Движение</text>
<text transform="translate(208.01,17.8) scale(1.0305,1)" font-size="16px">окружности</text>
<text transform="translate(309.38,17.8) scale(1.0063,1)" font-size="16px">радиуса</text>
<text transform="translate(380.12,17.8) scale(0.9869,1)" font-size="16px">R=5</text>
<text transform="translate(414.38,17.8) scale(0.9789,1)" font-size="16px">внутри</text>
<text transform="translate(473.23,17.8) scale(0.9602,1)" font-size="16px">эллипса</text>
<text transform="translate(541.75,17.8) scale(1.0000,1)" font-size="16px">x</text>
<text transform="translate(551.02,10.6) scale(1.0311,1)" font-size="10.5px">2</text>
<text transform="translate(556.62,17.8) scale(0.9397,1)" font-size="16px">/4+y</text>
<text transform="translate(587.82,10.6) scale(1.0311,1)" font-size="10.5px">2</text>
<text transform="translate(594.03,17.8) scale(0.9865,1)" font-size="16px">=16.125</text>
<text transform="translate(652.00,10.6) scale(1.0708,1)" font-size="10.5px">2</text>
<text transform="translate(661.92,17.8) scale(1.0411,1)" font-size="16px">без</text>
<text transform="translate(693.74,17.8) scale(1.0173,1)" font-size="16px">проскальзования</text>
</g>
</svg>
</body></html>
